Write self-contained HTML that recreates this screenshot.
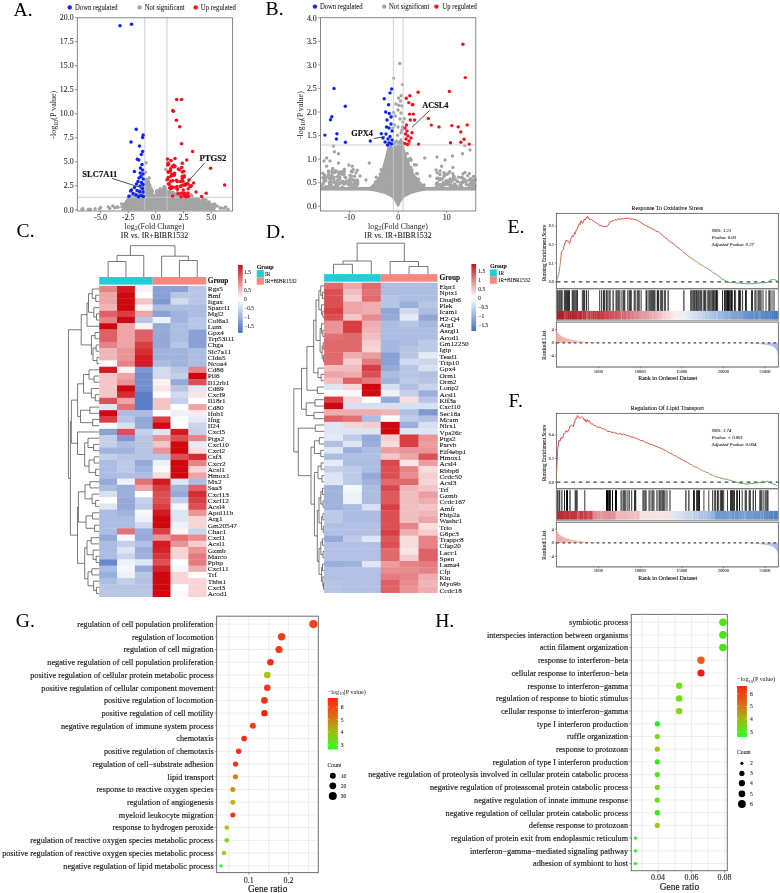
<!DOCTYPE html>
<html><head><meta charset="utf-8"><title>Figure</title>
<style>html,body{margin:0;padding:0;background:#fff;}svg{display:block;will-change:transform;}text{font-family:"Liberation Serif",serif;}</style>
</head><body>
<svg width="780" height="893" viewBox="0 0 780 893" font-family="Liberation Serif, serif">
<rect width="780" height="893" fill="#fff"/>
<text x="13.60" y="16.30" font-size="19.6">A.</text>
<circle cx="69.70" cy="7.40" r="2.20" fill="#0b24fb"/>
<text x="75.00" y="9.90" font-size="7.5" fill="#262626" stroke="#262626" stroke-width="0.08" textLength="42.70" lengthAdjust="spacingAndGlyphs">Down regulated</text>
<circle cx="139.60" cy="7.40" r="2.20" fill="#a4a4a4"/>
<text x="144.70" y="9.90" font-size="7.5" fill="#262626" stroke="#262626" stroke-width="0.08" textLength="39.90" lengthAdjust="spacingAndGlyphs">Not significant</text>
<circle cx="195.70" cy="7.40" r="2.20" fill="#fc0d1b"/>
<text x="200.80" y="9.90" font-size="7.5" fill="#262626" stroke="#262626" stroke-width="0.08" textLength="35.10" lengthAdjust="spacingAndGlyphs">Up regulated</text>
<g>
<polygon points="121.0,210.0 124.0,207.0 128.3,201.0 131.4,198.5 137.5,196.5 143.7,188.0 146.8,181.0 148.8,184.0 151.9,193.0 155.0,198.0 158.0,193.0 162.2,191.0 165.2,190.0 167.3,193.5 172.4,197.0 182.7,198.5 190.9,200.0 199.1,202.0 207.3,205.5 213.0,208.0 216.0,210.0 216,210.6 121,210.6" fill="#a4a4a4"/>
<circle cx="82.00" cy="209.30" r="1.75" fill="#a4a4a4"/>
<circle cx="90.30" cy="209.30" r="1.75" fill="#a4a4a4"/>
<circle cx="99.60" cy="208.80" r="1.75" fill="#a4a4a4"/>
<circle cx="109.80" cy="208.40" r="1.75" fill="#a4a4a4"/>
<circle cx="114.90" cy="207.80" r="1.75" fill="#a4a4a4"/>
<circle cx="118.00" cy="207.20" r="1.75" fill="#a4a4a4"/>
<circle cx="122.00" cy="207.00" r="1.75" fill="#a4a4a4"/>
<circle cx="125.00" cy="205.50" r="1.75" fill="#a4a4a4"/>
<circle cx="220.00" cy="208.00" r="1.75" fill="#a4a4a4"/>
<circle cx="224.00" cy="208.50" r="1.75" fill="#a4a4a4"/>
<circle cx="228.00" cy="209.30" r="1.75" fill="#a4a4a4"/>
<circle cx="203.00" cy="203.00" r="1.75" fill="#a4a4a4"/>
<circle cx="210.50" cy="204.50" r="1.75" fill="#a4a4a4"/>
<circle cx="217.00" cy="206.00" r="1.75" fill="#a4a4a4"/>
<circle cx="164.17" cy="186.70" r="1.75" fill="#a4a4a4"/>
<circle cx="165.37" cy="189.46" r="1.75" fill="#a4a4a4"/>
<circle cx="169.21" cy="194.61" r="1.75" fill="#a4a4a4"/>
<circle cx="169.58" cy="195.33" r="1.75" fill="#a4a4a4"/>
<circle cx="180.32" cy="198.89" r="1.75" fill="#a4a4a4"/>
<circle cx="150.61" cy="189.31" r="1.75" fill="#a4a4a4"/>
<circle cx="131.25" cy="198.38" r="1.75" fill="#a4a4a4"/>
<circle cx="126.81" cy="200.93" r="1.75" fill="#a4a4a4"/>
<circle cx="212.38" cy="205.60" r="1.75" fill="#a4a4a4"/>
<circle cx="179.02" cy="198.26" r="1.75" fill="#a4a4a4"/>
<circle cx="137.33" cy="194.87" r="1.75" fill="#a4a4a4"/>
<circle cx="128.42" cy="201.65" r="1.75" fill="#a4a4a4"/>
<circle cx="140.31" cy="193.62" r="1.75" fill="#a4a4a4"/>
<circle cx="165.22" cy="190.49" r="1.75" fill="#a4a4a4"/>
<circle cx="163.09" cy="190.24" r="1.75" fill="#a4a4a4"/>
<circle cx="181.27" cy="197.07" r="1.75" fill="#a4a4a4"/>
<circle cx="168.48" cy="194.04" r="1.75" fill="#a4a4a4"/>
<circle cx="148.31" cy="182.20" r="1.75" fill="#a4a4a4"/>
<circle cx="213.79" cy="205.31" r="1.75" fill="#a4a4a4"/>
<circle cx="187.41" cy="200.25" r="1.75" fill="#a4a4a4"/>
<circle cx="151.69" cy="193.16" r="1.75" fill="#a4a4a4"/>
<circle cx="129.39" cy="199.32" r="1.75" fill="#a4a4a4"/>
<circle cx="192.73" cy="197.99" r="1.75" fill="#a4a4a4"/>
<circle cx="158.17" cy="191.42" r="1.75" fill="#a4a4a4"/>
<circle cx="210.18" cy="207.72" r="1.75" fill="#a4a4a4"/>
<circle cx="142.08" cy="191.16" r="1.75" fill="#a4a4a4"/>
<circle cx="205.83" cy="199.82" r="1.75" fill="#a4a4a4"/>
<circle cx="159.17" cy="192.29" r="1.75" fill="#a4a4a4"/>
<circle cx="129.65" cy="198.29" r="1.75" fill="#a4a4a4"/>
<circle cx="147.55" cy="180.35" r="1.75" fill="#a4a4a4"/>
<circle cx="130.93" cy="197.06" r="1.75" fill="#a4a4a4"/>
<circle cx="191.98" cy="196.34" r="1.75" fill="#a4a4a4"/>
<circle cx="133.74" cy="198.71" r="1.75" fill="#a4a4a4"/>
<circle cx="128.45" cy="200.86" r="1.75" fill="#a4a4a4"/>
<circle cx="195.53" cy="200.89" r="1.75" fill="#a4a4a4"/>
<circle cx="163.72" cy="188.96" r="1.75" fill="#a4a4a4"/>
<circle cx="140.35" cy="193.46" r="1.75" fill="#a4a4a4"/>
<circle cx="181.58" cy="198.18" r="1.75" fill="#a4a4a4"/>
<circle cx="133.60" cy="197.44" r="1.75" fill="#a4a4a4"/>
<circle cx="147.55" cy="182.40" r="1.75" fill="#a4a4a4"/>
<circle cx="211.35" cy="207.66" r="1.75" fill="#a4a4a4"/>
<circle cx="203.52" cy="203.12" r="1.75" fill="#a4a4a4"/>
<circle cx="142.17" cy="187.69" r="1.75" fill="#a4a4a4"/>
<circle cx="181.41" cy="196.65" r="1.75" fill="#a4a4a4"/>
<circle cx="132.13" cy="197.74" r="1.75" fill="#a4a4a4"/>
<circle cx="146.50" cy="182.57" r="1.75" fill="#a4a4a4"/>
<circle cx="193.31" cy="200.71" r="1.75" fill="#a4a4a4"/>
<circle cx="129.68" cy="199.27" r="1.75" fill="#a4a4a4"/>
<circle cx="131.20" cy="198.24" r="1.75" fill="#a4a4a4"/>
<circle cx="177.72" cy="197.96" r="1.75" fill="#a4a4a4"/>
<circle cx="156.83" cy="190.63" r="1.75" fill="#a4a4a4"/>
<circle cx="167.02" cy="192.42" r="1.75" fill="#a4a4a4"/>
<circle cx="175.29" cy="197.49" r="1.75" fill="#a4a4a4"/>
<circle cx="137.03" cy="196.62" r="1.75" fill="#a4a4a4"/>
<circle cx="205.67" cy="205.11" r="1.75" fill="#a4a4a4"/>
<circle cx="140.27" cy="192.18" r="1.75" fill="#a4a4a4"/>
<circle cx="190.29" cy="199.53" r="1.75" fill="#a4a4a4"/>
<circle cx="209.46" cy="206.92" r="1.75" fill="#a4a4a4"/>
<circle cx="203.28" cy="202.95" r="1.75" fill="#a4a4a4"/>
<circle cx="132.45" cy="197.76" r="1.75" fill="#a4a4a4"/>
<circle cx="126.52" cy="202.90" r="1.75" fill="#a4a4a4"/>
<circle cx="187.12" cy="199.93" r="1.75" fill="#a4a4a4"/>
<circle cx="146.39" cy="181.61" r="1.75" fill="#a4a4a4"/>
<circle cx="149.70" cy="184.97" r="1.75" fill="#a4a4a4"/>
<circle cx="138.96" cy="195.34" r="1.75" fill="#a4a4a4"/>
<circle cx="143.78" cy="187.99" r="1.75" fill="#a4a4a4"/>
<circle cx="173.90" cy="196.40" r="1.75" fill="#a4a4a4"/>
<circle cx="148.50" cy="182.12" r="1.75" fill="#a4a4a4"/>
<circle cx="206.48" cy="206.04" r="1.75" fill="#a4a4a4"/>
<circle cx="147.50" cy="182.66" r="1.75" fill="#a4a4a4"/>
<circle cx="163.56" cy="190.27" r="1.75" fill="#a4a4a4"/>
<circle cx="156.56" cy="195.89" r="1.75" fill="#a4a4a4"/>
<circle cx="175.07" cy="196.98" r="1.75" fill="#a4a4a4"/>
<circle cx="204.08" cy="203.59" r="1.75" fill="#a4a4a4"/>
<circle cx="212.22" cy="206.80" r="1.75" fill="#a4a4a4"/>
<circle cx="176.18" cy="195.74" r="1.75" fill="#a4a4a4"/>
<circle cx="135.77" cy="197.66" r="1.75" fill="#a4a4a4"/>
<circle cx="205.83" cy="205.78" r="1.75" fill="#a4a4a4"/>
<circle cx="186.79" cy="199.80" r="1.75" fill="#a4a4a4"/>
<circle cx="180.89" cy="199.13" r="1.75" fill="#a4a4a4"/>
<circle cx="166.88" cy="193.57" r="1.75" fill="#a4a4a4"/>
<circle cx="213.94" cy="207.71" r="1.75" fill="#a4a4a4"/>
<circle cx="129.85" cy="197.30" r="1.75" fill="#a4a4a4"/>
<circle cx="204.92" cy="204.46" r="1.75" fill="#a4a4a4"/>
<circle cx="190.08" cy="199.73" r="1.75" fill="#a4a4a4"/>
<circle cx="206.27" cy="202.32" r="1.75" fill="#a4a4a4"/>
<circle cx="155.02" cy="197.10" r="1.75" fill="#a4a4a4"/>
<circle cx="202.27" cy="200.01" r="1.75" fill="#a4a4a4"/>
<circle cx="160.96" cy="191.48" r="1.75" fill="#a4a4a4"/>
<circle cx="175.13" cy="194.15" r="1.75" fill="#a4a4a4"/>
<circle cx="179.87" cy="196.94" r="1.75" fill="#a4a4a4"/>
<circle cx="178.41" cy="196.92" r="1.75" fill="#a4a4a4"/>
<circle cx="130.30" cy="195.93" r="1.75" fill="#a4a4a4"/>
<circle cx="203.06" cy="199.34" r="1.75" fill="#a4a4a4"/>
<circle cx="189.27" cy="197.96" r="1.75" fill="#a4a4a4"/>
<circle cx="175.87" cy="196.19" r="1.75" fill="#a4a4a4"/>
<circle cx="163.09" cy="191.22" r="1.75" fill="#a4a4a4"/>
<circle cx="191.27" cy="200.31" r="1.75" fill="#a4a4a4"/>
<circle cx="125.71" cy="203.59" r="1.75" fill="#a4a4a4"/>
<circle cx="143.95" cy="186.94" r="1.75" fill="#a4a4a4"/>
<circle cx="186.55" cy="197.17" r="1.75" fill="#a4a4a4"/>
<circle cx="206.76" cy="206.22" r="1.75" fill="#a4a4a4"/>
<circle cx="146.28" cy="181.32" r="1.75" fill="#a4a4a4"/>
<circle cx="184.71" cy="199.74" r="1.75" fill="#a4a4a4"/>
<circle cx="141.43" cy="189.79" r="1.75" fill="#a4a4a4"/>
<circle cx="183.06" cy="195.38" r="1.75" fill="#a4a4a4"/>
<circle cx="163.22" cy="190.14" r="1.75" fill="#a4a4a4"/>
<circle cx="183.60" cy="198.43" r="1.75" fill="#a4a4a4"/>
<circle cx="141.06" cy="189.00" r="1.75" fill="#a4a4a4"/>
<circle cx="206.19" cy="204.35" r="1.75" fill="#a4a4a4"/>
<circle cx="203.10" cy="202.53" r="1.75" fill="#a4a4a4"/>
<circle cx="151.80" cy="191.78" r="1.75" fill="#a4a4a4"/>
<circle cx="135.39" cy="194.00" r="1.75" fill="#a4a4a4"/>
<circle cx="200.23" cy="203.39" r="1.75" fill="#a4a4a4"/>
<circle cx="187.72" cy="198.73" r="1.75" fill="#a4a4a4"/>
<circle cx="138.39" cy="195.73" r="1.75" fill="#a4a4a4"/>
<circle cx="164.01" cy="191.16" r="1.75" fill="#a4a4a4"/>
<circle cx="160.67" cy="191.22" r="1.75" fill="#a4a4a4"/>
<circle cx="179.94" cy="197.18" r="1.75" fill="#a4a4a4"/>
<circle cx="199.36" cy="203.04" r="1.75" fill="#a4a4a4"/>
<circle cx="212.37" cy="207.89" r="1.75" fill="#a4a4a4"/>
<circle cx="125.87" cy="205.14" r="1.75" fill="#a4a4a4"/>
<circle cx="202.43" cy="201.08" r="1.75" fill="#a4a4a4"/>
<circle cx="174.92" cy="197.48" r="1.75" fill="#a4a4a4"/>
<circle cx="151.12" cy="191.63" r="1.75" fill="#a4a4a4"/>
<circle cx="135.37" cy="197.78" r="1.75" fill="#a4a4a4"/>
<circle cx="164.39" cy="187.18" r="1.75" fill="#a4a4a4"/>
<circle cx="144.60" cy="186.32" r="1.75" fill="#a4a4a4"/>
<circle cx="135.82" cy="195.09" r="1.75" fill="#a4a4a4"/>
<circle cx="163.63" cy="190.62" r="1.75" fill="#a4a4a4"/>
<circle cx="180.33" cy="196.91" r="1.75" fill="#a4a4a4"/>
<circle cx="210.22" cy="204.48" r="1.75" fill="#a4a4a4"/>
<circle cx="185.29" cy="199.19" r="1.75" fill="#a4a4a4"/>
<circle cx="139.26" cy="192.71" r="1.75" fill="#a4a4a4"/>
<circle cx="123.98" cy="204.59" r="1.75" fill="#a4a4a4"/>
<circle cx="139.30" cy="194.43" r="1.75" fill="#a4a4a4"/>
<circle cx="147.78" cy="181.55" r="1.75" fill="#a4a4a4"/>
<circle cx="170.36" cy="193.79" r="1.75" fill="#a4a4a4"/>
<circle cx="178.91" cy="198.86" r="1.75" fill="#a4a4a4"/>
<circle cx="195.07" cy="199.82" r="1.75" fill="#a4a4a4"/>
<circle cx="205.47" cy="201.36" r="1.75" fill="#a4a4a4"/>
<circle cx="188.74" cy="197.94" r="1.75" fill="#a4a4a4"/>
<circle cx="134.82" cy="195.42" r="1.75" fill="#a4a4a4"/>
<circle cx="205.81" cy="204.98" r="1.75" fill="#a4a4a4"/>
<circle cx="157.29" cy="191.08" r="1.75" fill="#a4a4a4"/>
<circle cx="195.51" cy="200.23" r="1.75" fill="#a4a4a4"/>
<circle cx="208.93" cy="204.10" r="1.75" fill="#a4a4a4"/>
<circle cx="141.65" cy="191.09" r="1.75" fill="#a4a4a4"/>
<circle cx="188.70" cy="199.28" r="1.75" fill="#a4a4a4"/>
<circle cx="188.31" cy="197.66" r="1.75" fill="#a4a4a4"/>
<circle cx="142.41" cy="185.77" r="1.75" fill="#a4a4a4"/>
<circle cx="211.94" cy="204.91" r="1.75" fill="#a4a4a4"/>
<circle cx="171.86" cy="197.14" r="1.75" fill="#a4a4a4"/>
<circle cx="205.81" cy="203.99" r="1.75" fill="#a4a4a4"/>
<circle cx="200.88" cy="203.23" r="1.75" fill="#a4a4a4"/>
<circle cx="163.12" cy="190.95" r="1.75" fill="#a4a4a4"/>
<circle cx="173.08" cy="197.81" r="1.75" fill="#a4a4a4"/>
<circle cx="125.59" cy="203.26" r="1.75" fill="#a4a4a4"/>
<circle cx="196.63" cy="198.77" r="1.75" fill="#a4a4a4"/>
<circle cx="138.73" cy="194.26" r="1.75" fill="#a4a4a4"/>
<circle cx="153.49" cy="196.27" r="1.75" fill="#a4a4a4"/>
<circle cx="136.53" cy="196.64" r="1.75" fill="#a4a4a4"/>
<circle cx="170.00" cy="195.66" r="1.75" fill="#a4a4a4"/>
<circle cx="185.73" cy="195.90" r="1.75" fill="#a4a4a4"/>
<circle cx="209.06" cy="201.91" r="1.75" fill="#a4a4a4"/>
<circle cx="130.83" cy="199.71" r="1.75" fill="#a4a4a4"/>
<circle cx="143.15" cy="187.96" r="1.75" fill="#a4a4a4"/>
<circle cx="189.32" cy="200.41" r="1.75" fill="#a4a4a4"/>
<circle cx="181.14" cy="195.08" r="1.75" fill="#a4a4a4"/>
<circle cx="173.96" cy="197.62" r="1.75" fill="#a4a4a4"/>
<circle cx="151.36" cy="189.32" r="1.75" fill="#a4a4a4"/>
<circle cx="204.95" cy="202.61" r="1.75" fill="#a4a4a4"/>
<circle cx="141.95" cy="187.98" r="1.75" fill="#a4a4a4"/>
<circle cx="170.70" cy="192.17" r="1.75" fill="#a4a4a4"/>
<circle cx="175.14" cy="197.57" r="1.75" fill="#a4a4a4"/>
<circle cx="168.79" cy="192.92" r="1.75" fill="#a4a4a4"/>
<circle cx="178.08" cy="193.10" r="1.75" fill="#a4a4a4"/>
<circle cx="169.96" cy="195.32" r="1.75" fill="#a4a4a4"/>
<circle cx="159.45" cy="192.42" r="1.75" fill="#a4a4a4"/>
<circle cx="167.68" cy="192.08" r="1.75" fill="#a4a4a4"/>
<circle cx="185.88" cy="197.58" r="1.75" fill="#a4a4a4"/>
<circle cx="160.65" cy="191.64" r="1.75" fill="#a4a4a4"/>
<circle cx="210.07" cy="206.17" r="1.75" fill="#a4a4a4"/>
<circle cx="166.06" cy="191.62" r="1.75" fill="#a4a4a4"/>
<circle cx="134.55" cy="194.77" r="1.75" fill="#a4a4a4"/>
<circle cx="204.95" cy="203.86" r="1.75" fill="#a4a4a4"/>
<circle cx="166.36" cy="192.35" r="1.75" fill="#a4a4a4"/>
<circle cx="179.23" cy="197.69" r="1.75" fill="#a4a4a4"/>
<circle cx="207.20" cy="203.83" r="1.75" fill="#a4a4a4"/>
<circle cx="125.07" cy="203.72" r="1.75" fill="#a4a4a4"/>
<circle cx="140.66" cy="192.69" r="1.75" fill="#a4a4a4"/>
<circle cx="152.31" cy="191.34" r="1.75" fill="#a4a4a4"/>
<circle cx="155.34" cy="197.68" r="1.75" fill="#a4a4a4"/>
<circle cx="189.51" cy="200.04" r="1.75" fill="#a4a4a4"/>
<circle cx="134.17" cy="196.92" r="1.75" fill="#a4a4a4"/>
<circle cx="140.99" cy="192.60" r="1.75" fill="#a4a4a4"/>
<circle cx="171.26" cy="195.25" r="1.75" fill="#a4a4a4"/>
<circle cx="160.62" cy="191.93" r="1.75" fill="#a4a4a4"/>
<circle cx="171.17" cy="196.36" r="1.75" fill="#a4a4a4"/>
<circle cx="180.45" cy="197.92" r="1.75" fill="#a4a4a4"/>
<circle cx="181.10" cy="195.05" r="1.75" fill="#a4a4a4"/>
<circle cx="178.67" cy="198.12" r="1.75" fill="#a4a4a4"/>
<circle cx="200.97" cy="203.40" r="1.75" fill="#a4a4a4"/>
<circle cx="196.76" cy="198.83" r="1.75" fill="#a4a4a4"/>
<circle cx="205.14" cy="204.81" r="1.75" fill="#a4a4a4"/>
<circle cx="206.97" cy="204.61" r="1.75" fill="#a4a4a4"/>
<circle cx="142.85" cy="185.56" r="1.75" fill="#a4a4a4"/>
<circle cx="135.19" cy="198.21" r="1.75" fill="#a4a4a4"/>
<circle cx="144.78" cy="186.31" r="1.75" fill="#a4a4a4"/>
<circle cx="131.83" cy="197.67" r="1.75" fill="#a4a4a4"/>
<circle cx="198.73" cy="199.48" r="1.75" fill="#a4a4a4"/>
<circle cx="134.47" cy="196.66" r="1.75" fill="#a4a4a4"/>
<circle cx="159.65" cy="193.05" r="1.75" fill="#a4a4a4"/>
<circle cx="141.28" cy="191.93" r="1.75" fill="#a4a4a4"/>
<circle cx="185.10" cy="195.03" r="1.75" fill="#a4a4a4"/>
<circle cx="133.50" cy="195.75" r="1.75" fill="#a4a4a4"/>
<circle cx="169.02" cy="195.55" r="1.75" fill="#a4a4a4"/>
<circle cx="185.40" cy="197.40" r="1.75" fill="#a4a4a4"/>
<circle cx="140.20" cy="192.86" r="1.75" fill="#a4a4a4"/>
<circle cx="126.41" cy="204.19" r="1.75" fill="#a4a4a4"/>
<circle cx="173.20" cy="195.28" r="1.75" fill="#a4a4a4"/>
<circle cx="136.34" cy="197.62" r="1.75" fill="#a4a4a4"/>
<circle cx="139.79" cy="193.15" r="1.75" fill="#a4a4a4"/>
<circle cx="213.12" cy="205.04" r="1.75" fill="#a4a4a4"/>
<circle cx="207.35" cy="205.87" r="1.75" fill="#a4a4a4"/>
<circle cx="209.59" cy="207.06" r="1.75" fill="#a4a4a4"/>
<circle cx="165.05" cy="190.87" r="1.75" fill="#a4a4a4"/>
<circle cx="165.49" cy="189.54" r="1.75" fill="#a4a4a4"/>
<circle cx="169.89" cy="193.58" r="1.75" fill="#a4a4a4"/>
<circle cx="124.21" cy="206.45" r="1.75" fill="#a4a4a4"/>
<circle cx="186.79" cy="199.47" r="1.75" fill="#a4a4a4"/>
<circle cx="164.31" cy="190.14" r="1.75" fill="#a4a4a4"/>
<circle cx="190.28" cy="199.69" r="1.75" fill="#a4a4a4"/>
<circle cx="138.02" cy="195.97" r="1.75" fill="#a4a4a4"/>
<circle cx="169.64" cy="191.48" r="1.75" fill="#a4a4a4"/>
<circle cx="195.96" cy="201.78" r="1.75" fill="#a4a4a4"/>
<circle cx="187.13" cy="198.32" r="1.75" fill="#a4a4a4"/>
<circle cx="159.81" cy="190.76" r="1.75" fill="#a4a4a4"/>
<circle cx="177.56" cy="192.49" r="1.75" fill="#a4a4a4"/>
<circle cx="196.24" cy="202.13" r="1.75" fill="#a4a4a4"/>
<circle cx="146.50" cy="179.59" r="1.75" fill="#a4a4a4"/>
<circle cx="193.80" cy="199.78" r="1.75" fill="#a4a4a4"/>
<circle cx="197.13" cy="198.63" r="1.75" fill="#a4a4a4"/>
<circle cx="203.07" cy="202.07" r="1.75" fill="#a4a4a4"/>
<circle cx="186.23" cy="199.74" r="1.75" fill="#a4a4a4"/>
<circle cx="159.92" cy="189.36" r="1.75" fill="#a4a4a4"/>
<circle cx="188.76" cy="198.79" r="1.75" fill="#a4a4a4"/>
<circle cx="165.66" cy="190.91" r="1.75" fill="#a4a4a4"/>
<circle cx="123.96" cy="206.10" r="1.75" fill="#a4a4a4"/>
<circle cx="179.79" cy="196.60" r="1.75" fill="#a4a4a4"/>
<circle cx="144.12" cy="184.98" r="1.75" fill="#a4a4a4"/>
<circle cx="153.74" cy="195.86" r="1.75" fill="#a4a4a4"/>
<circle cx="183.04" cy="197.10" r="1.75" fill="#a4a4a4"/>
<circle cx="158.45" cy="192.63" r="1.75" fill="#a4a4a4"/>
<circle cx="213.99" cy="207.52" r="1.75" fill="#a4a4a4"/>
<circle cx="192.32" cy="198.68" r="1.75" fill="#a4a4a4"/>
<circle cx="212.19" cy="205.63" r="1.75" fill="#a4a4a4"/>
<circle cx="190.23" cy="200.44" r="1.75" fill="#a4a4a4"/>
<circle cx="146.35" cy="182.43" r="1.75" fill="#a4a4a4"/>
<circle cx="140.79" cy="192.59" r="1.75" fill="#a4a4a4"/>
<circle cx="157.19" cy="193.99" r="1.75" fill="#a4a4a4"/>
<circle cx="205.41" cy="204.73" r="1.75" fill="#a4a4a4"/>
<circle cx="173.06" cy="192.35" r="1.75" fill="#a4a4a4"/>
<circle cx="174.69" cy="198.05" r="1.75" fill="#a4a4a4"/>
<circle cx="213.55" cy="206.78" r="1.75" fill="#a4a4a4"/>
<circle cx="129.93" cy="197.63" r="1.75" fill="#a4a4a4"/>
<circle cx="177.38" cy="198.69" r="1.75" fill="#a4a4a4"/>
<circle cx="207.64" cy="205.98" r="1.75" fill="#a4a4a4"/>
<circle cx="137.55" cy="196.11" r="1.75" fill="#a4a4a4"/>
<circle cx="168.09" cy="194.81" r="1.75" fill="#a4a4a4"/>
<circle cx="178.62" cy="193.96" r="1.75" fill="#a4a4a4"/>
<circle cx="161.28" cy="190.53" r="1.75" fill="#a4a4a4"/>
<circle cx="170.93" cy="195.28" r="1.75" fill="#a4a4a4"/>
<circle cx="149.00" cy="184.38" r="1.75" fill="#a4a4a4"/>
<circle cx="182.62" cy="197.82" r="1.75" fill="#a4a4a4"/>
<circle cx="188.21" cy="199.84" r="1.75" fill="#a4a4a4"/>
<circle cx="149.94" cy="186.67" r="1.75" fill="#a4a4a4"/>
<circle cx="126.89" cy="203.82" r="1.75" fill="#a4a4a4"/>
<circle cx="137.25" cy="197.52" r="1.75" fill="#a4a4a4"/>
<circle cx="204.68" cy="203.19" r="1.75" fill="#a4a4a4"/>
<circle cx="191.10" cy="194.78" r="1.75" fill="#a4a4a4"/>
<circle cx="208.95" cy="205.18" r="1.75" fill="#a4a4a4"/>
<circle cx="129.69" cy="198.95" r="1.75" fill="#a4a4a4"/>
<circle cx="166.46" cy="191.80" r="1.75" fill="#a4a4a4"/>
<circle cx="211.56" cy="208.26" r="1.75" fill="#a4a4a4"/>
<circle cx="208.29" cy="204.26" r="1.75" fill="#a4a4a4"/>
<circle cx="188.77" cy="194.62" r="1.75" fill="#a4a4a4"/>
<circle cx="197.32" cy="201.36" r="1.75" fill="#a4a4a4"/>
<circle cx="177.93" cy="196.50" r="1.75" fill="#a4a4a4"/>
<circle cx="164.47" cy="189.21" r="1.75" fill="#a4a4a4"/>
<circle cx="141.53" cy="189.42" r="1.75" fill="#a4a4a4"/>
<circle cx="134.31" cy="197.68" r="1.75" fill="#a4a4a4"/>
<circle cx="163.30" cy="190.44" r="1.75" fill="#a4a4a4"/>
<circle cx="146.85" cy="179.97" r="1.75" fill="#a4a4a4"/>
<circle cx="175.98" cy="195.18" r="1.75" fill="#a4a4a4"/>
<circle cx="171.30" cy="195.40" r="1.75" fill="#a4a4a4"/>
<circle cx="213.78" cy="206.10" r="1.75" fill="#a4a4a4"/>
<circle cx="144.70" cy="185.70" r="1.75" fill="#a4a4a4"/>
<circle cx="133.36" cy="195.85" r="1.75" fill="#a4a4a4"/>
<circle cx="179.87" cy="196.68" r="1.75" fill="#a4a4a4"/>
<circle cx="155.69" cy="197.41" r="1.75" fill="#a4a4a4"/>
<circle cx="174.41" cy="194.98" r="1.75" fill="#a4a4a4"/>
<circle cx="176.84" cy="196.18" r="1.75" fill="#a4a4a4"/>
<circle cx="140.27" cy="190.97" r="1.75" fill="#a4a4a4"/>
<circle cx="145.66" cy="179.73" r="1.75" fill="#a4a4a4"/>
<circle cx="202.97" cy="204.03" r="1.75" fill="#a4a4a4"/>
<circle cx="126.60" cy="202.76" r="1.75" fill="#a4a4a4"/>
<circle cx="161.69" cy="191.59" r="1.75" fill="#a4a4a4"/>
<circle cx="179.72" cy="196.87" r="1.75" fill="#a4a4a4"/>
<circle cx="129.60" cy="199.30" r="1.75" fill="#a4a4a4"/>
<circle cx="130.87" cy="198.69" r="1.75" fill="#a4a4a4"/>
<circle cx="180.43" cy="196.68" r="1.75" fill="#a4a4a4"/>
<circle cx="156.96" cy="194.23" r="1.75" fill="#a4a4a4"/>
<circle cx="154.28" cy="197.63" r="1.75" fill="#a4a4a4"/>
<circle cx="190.78" cy="200.52" r="1.75" fill="#a4a4a4"/>
<circle cx="133.90" cy="197.95" r="1.75" fill="#a4a4a4"/>
<circle cx="196.64" cy="199.72" r="1.75" fill="#a4a4a4"/>
<circle cx="142.40" cy="188.14" r="1.75" fill="#a4a4a4"/>
<circle cx="161.62" cy="192.07" r="1.75" fill="#a4a4a4"/>
<circle cx="156.57" cy="192.37" r="1.75" fill="#a4a4a4"/>
<circle cx="182.48" cy="197.52" r="1.75" fill="#a4a4a4"/>
<circle cx="172.92" cy="197.94" r="1.75" fill="#a4a4a4"/>
<circle cx="190.90" cy="198.96" r="1.75" fill="#a4a4a4"/>
<circle cx="156.60" cy="195.22" r="1.75" fill="#a4a4a4"/>
<circle cx="131.83" cy="198.73" r="1.75" fill="#a4a4a4"/>
<circle cx="130.55" cy="199.55" r="1.75" fill="#a4a4a4"/>
<circle cx="174.34" cy="194.95" r="1.75" fill="#a4a4a4"/>
<circle cx="150.20" cy="188.74" r="1.75" fill="#a4a4a4"/>
<circle cx="193.57" cy="200.30" r="1.75" fill="#a4a4a4"/>
<circle cx="183.25" cy="198.90" r="1.75" fill="#a4a4a4"/>
<circle cx="82.90" cy="208.84" r="1.75" fill="#a4a4a4"/>
<circle cx="88.43" cy="209.32" r="1.75" fill="#a4a4a4"/>
<circle cx="95.07" cy="208.84" r="1.75" fill="#a4a4a4"/>
<circle cx="100.60" cy="207.40" r="1.75" fill="#a4a4a4"/>
<circle cx="108.34" cy="206.92" r="1.75" fill="#a4a4a4"/>
<circle cx="112.77" cy="205.96" r="1.75" fill="#a4a4a4"/>
<circle cx="117.19" cy="206.92" r="1.75" fill="#a4a4a4"/>
<circle cx="121.61" cy="204.03" r="1.75" fill="#a4a4a4"/>
<circle cx="200.14" cy="201.15" r="1.75" fill="#a4a4a4"/>
<circle cx="206.78" cy="202.11" r="1.75" fill="#a4a4a4"/>
<circle cx="214.52" cy="204.03" r="1.75" fill="#a4a4a4"/>
<circle cx="221.15" cy="207.88" r="1.75" fill="#a4a4a4"/>
<circle cx="225.58" cy="206.92" r="1.75" fill="#a4a4a4"/>
<circle cx="145.95" cy="162.71" r="1.75" fill="#a4a4a4"/>
<circle cx="145.39" cy="172.32" r="1.75" fill="#a4a4a4"/>
<circle cx="149.26" cy="178.09" r="1.75" fill="#a4a4a4"/>
<circle cx="165.85" cy="169.44" r="1.75" fill="#a4a4a4"/>
<circle cx="166.41" cy="180.01" r="1.75" fill="#a4a4a4"/>
<circle cx="147.05" cy="183.85" r="1.75" fill="#a4a4a4"/>
<circle cx="160.32" cy="188.66" r="1.75" fill="#a4a4a4"/>
<circle cx="196.82" cy="199.23" r="1.75" fill="#a4a4a4"/>
<circle cx="187.97" cy="198.27" r="1.75" fill="#a4a4a4"/>
<circle cx="128.25" cy="198.27" r="1.75" fill="#a4a4a4"/>
</g>
<line x1="144.84" y1="17.80" x2="144.84" y2="211.00" stroke="#c9c9c9" stroke-width="0.9"/>
<line x1="166.96" y1="17.80" x2="166.96" y2="211.00" stroke="#c9c9c9" stroke-width="0.9"/>
<line x1="77.30" y1="197.31" x2="232.60" y2="197.31" stroke="#c9c9c9" stroke-width="0.9"/>
<circle cx="120.00" cy="25.80" r="1.75" fill="#0b24fb"/>
<circle cx="131.50" cy="24.20" r="1.75" fill="#0b24fb"/>
<circle cx="136.20" cy="129.20" r="1.75" fill="#0b24fb"/>
<circle cx="143.10" cy="134.90" r="1.75" fill="#0b24fb"/>
<circle cx="142.60" cy="137.40" r="1.75" fill="#0b24fb"/>
<circle cx="131.00" cy="142.00" r="1.75" fill="#0b24fb"/>
<circle cx="139.50" cy="145.90" r="1.75" fill="#0b24fb"/>
<circle cx="142.60" cy="151.50" r="1.75" fill="#0b24fb"/>
<circle cx="141.30" cy="154.60" r="1.75" fill="#0b24fb"/>
<circle cx="137.40" cy="159.20" r="1.75" fill="#0b24fb"/>
<circle cx="138.80" cy="160.00" r="1.75" fill="#0b24fb"/>
<circle cx="142.00" cy="164.40" r="1.75" fill="#0b24fb"/>
<circle cx="134.40" cy="171.50" r="1.75" fill="#0b24fb"/>
<circle cx="140.40" cy="168.00" r="1.75" fill="#0b24fb"/>
<circle cx="142.50" cy="170.00" r="1.75" fill="#0b24fb"/>
<circle cx="140.20" cy="173.00" r="1.75" fill="#0b24fb"/>
<circle cx="143.00" cy="174.00" r="1.75" fill="#0b24fb"/>
<circle cx="141.00" cy="176.50" r="1.75" fill="#0b24fb"/>
<circle cx="139.00" cy="178.00" r="1.75" fill="#0b24fb"/>
<circle cx="143.20" cy="179.00" r="1.75" fill="#0b24fb"/>
<circle cx="138.00" cy="181.50" r="1.75" fill="#0b24fb"/>
<circle cx="141.50" cy="182.60" r="1.75" fill="#0b24fb"/>
<circle cx="136.50" cy="184.00" r="1.75" fill="#0b24fb"/>
<circle cx="143.00" cy="184.50" r="1.75" fill="#0b24fb"/>
<circle cx="140.00" cy="186.00" r="1.75" fill="#0b24fb"/>
<circle cx="134.50" cy="187.50" r="1.75" fill="#0b24fb"/>
<circle cx="142.50" cy="188.50" r="1.75" fill="#0b24fb"/>
<circle cx="137.00" cy="190.50" r="1.75" fill="#0b24fb"/>
<circle cx="130.50" cy="191.00" r="1.75" fill="#0b24fb"/>
<circle cx="139.50" cy="191.50" r="1.75" fill="#0b24fb"/>
<circle cx="143.00" cy="192.00" r="1.75" fill="#0b24fb"/>
<circle cx="133.00" cy="193.50" r="1.75" fill="#0b24fb"/>
<circle cx="136.00" cy="195.00" r="1.75" fill="#0b24fb"/>
<circle cx="141.00" cy="195.50" r="1.75" fill="#0b24fb"/>
<circle cx="129.00" cy="196.20" r="1.75" fill="#0b24fb"/>
<circle cx="138.50" cy="196.80" r="1.75" fill="#0b24fb"/>
<circle cx="143.30" cy="196.60" r="1.75" fill="#0b24fb"/>
<circle cx="131.50" cy="190.00" r="1.75" fill="#0b24fb"/>
<circle cx="176.70" cy="99.50" r="1.75" fill="#fc0d1b"/>
<circle cx="181.50" cy="99.50" r="1.75" fill="#fc0d1b"/>
<circle cx="172.80" cy="110.50" r="1.75" fill="#fc0d1b"/>
<circle cx="173.30" cy="111.30" r="1.75" fill="#fc0d1b"/>
<circle cx="176.40" cy="120.30" r="1.75" fill="#fc0d1b"/>
<circle cx="179.70" cy="126.70" r="1.75" fill="#fc0d1b"/>
<circle cx="181.50" cy="143.80" r="1.75" fill="#fc0d1b"/>
<circle cx="192.60" cy="151.50" r="1.75" fill="#fc0d1b"/>
<circle cx="186.70" cy="160.00" r="1.75" fill="#fc0d1b"/>
<circle cx="210.50" cy="168.20" r="1.75" fill="#fc0d1b"/>
<circle cx="224.60" cy="184.90" r="1.75" fill="#fc0d1b"/>
<circle cx="206.20" cy="193.30" r="1.75" fill="#fc0d1b"/>
<circle cx="201.50" cy="196.40" r="1.75" fill="#fc0d1b"/>
<circle cx="168.55" cy="171.94" r="1.75" fill="#fc0d1b"/>
<circle cx="180.77" cy="185.98" r="1.75" fill="#fc0d1b"/>
<circle cx="172.38" cy="166.15" r="1.75" fill="#fc0d1b"/>
<circle cx="173.80" cy="187.14" r="1.75" fill="#fc0d1b"/>
<circle cx="173.96" cy="165.23" r="1.75" fill="#fc0d1b"/>
<circle cx="180.48" cy="181.49" r="1.75" fill="#fc0d1b"/>
<circle cx="184.45" cy="194.84" r="1.75" fill="#fc0d1b"/>
<circle cx="184.35" cy="176.77" r="1.75" fill="#fc0d1b"/>
<circle cx="182.26" cy="171.97" r="1.75" fill="#fc0d1b"/>
<circle cx="173.03" cy="175.39" r="1.75" fill="#fc0d1b"/>
<circle cx="184.76" cy="193.21" r="1.75" fill="#fc0d1b"/>
<circle cx="171.72" cy="174.02" r="1.75" fill="#fc0d1b"/>
<circle cx="173.95" cy="174.08" r="1.75" fill="#fc0d1b"/>
<circle cx="174.52" cy="174.95" r="1.75" fill="#fc0d1b"/>
<circle cx="170.70" cy="181.30" r="1.75" fill="#fc0d1b"/>
<circle cx="182.14" cy="180.46" r="1.75" fill="#fc0d1b"/>
<circle cx="182.89" cy="181.26" r="1.75" fill="#fc0d1b"/>
<circle cx="170.36" cy="188.32" r="1.75" fill="#fc0d1b"/>
<circle cx="183.74" cy="171.13" r="1.75" fill="#fc0d1b"/>
<circle cx="167.42" cy="179.56" r="1.75" fill="#fc0d1b"/>
<circle cx="177.34" cy="181.43" r="1.75" fill="#fc0d1b"/>
<circle cx="185.36" cy="184.44" r="1.75" fill="#fc0d1b"/>
<circle cx="182.28" cy="163.31" r="1.75" fill="#fc0d1b"/>
<circle cx="177.39" cy="189.37" r="1.75" fill="#fc0d1b"/>
<circle cx="168.60" cy="163.94" r="1.75" fill="#fc0d1b"/>
<circle cx="181.00" cy="193.37" r="1.75" fill="#fc0d1b"/>
<circle cx="168.61" cy="183.83" r="1.75" fill="#fc0d1b"/>
<circle cx="169.73" cy="187.85" r="1.75" fill="#fc0d1b"/>
<circle cx="179.33" cy="169.84" r="1.75" fill="#fc0d1b"/>
<circle cx="171.19" cy="188.55" r="1.75" fill="#fc0d1b"/>
<circle cx="176.91" cy="188.53" r="1.75" fill="#fc0d1b"/>
<circle cx="174.49" cy="173.16" r="1.75" fill="#fc0d1b"/>
<circle cx="185.40" cy="185.21" r="1.75" fill="#fc0d1b"/>
<circle cx="176.38" cy="180.34" r="1.75" fill="#fc0d1b"/>
<circle cx="180.70" cy="186.49" r="1.75" fill="#fc0d1b"/>
<circle cx="184.38" cy="175.78" r="1.75" fill="#fc0d1b"/>
<circle cx="182.70" cy="185.00" r="1.75" fill="#fc0d1b"/>
<circle cx="183.22" cy="190.01" r="1.75" fill="#fc0d1b"/>
<circle cx="182.84" cy="192.99" r="1.75" fill="#fc0d1b"/>
<circle cx="185.20" cy="184.05" r="1.75" fill="#fc0d1b"/>
<circle cx="176.95" cy="186.56" r="1.75" fill="#fc0d1b"/>
<circle cx="182.24" cy="176.18" r="1.75" fill="#fc0d1b"/>
<circle cx="174.99" cy="166.26" r="1.75" fill="#fc0d1b"/>
<circle cx="181.08" cy="196.68" r="1.75" fill="#fc0d1b"/>
<circle cx="174.13" cy="167.04" r="1.75" fill="#fc0d1b"/>
<circle cx="170.88" cy="176.30" r="1.75" fill="#fc0d1b"/>
<circle cx="172.55" cy="195.91" r="1.75" fill="#fc0d1b"/>
<circle cx="168.12" cy="172.10" r="1.75" fill="#fc0d1b"/>
<circle cx="169.18" cy="184.33" r="1.75" fill="#fc0d1b"/>
<circle cx="181.74" cy="167.46" r="1.75" fill="#fc0d1b"/>
<circle cx="168.18" cy="177.52" r="1.75" fill="#fc0d1b"/>
<circle cx="178.10" cy="193.73" r="1.75" fill="#fc0d1b"/>
<circle cx="167.69" cy="164.91" r="1.75" fill="#fc0d1b"/>
<circle cx="170.51" cy="168.83" r="1.75" fill="#fc0d1b"/>
<circle cx="171.47" cy="186.82" r="1.75" fill="#fc0d1b"/>
<circle cx="178.30" cy="169.06" r="1.75" fill="#fc0d1b"/>
<circle cx="170.51" cy="171.12" r="1.75" fill="#fc0d1b"/>
<circle cx="170.28" cy="188.27" r="1.75" fill="#fc0d1b"/>
<circle cx="172.92" cy="180.74" r="1.75" fill="#fc0d1b"/>
<circle cx="182.53" cy="178.26" r="1.75" fill="#fc0d1b"/>
<circle cx="186.08" cy="195.09" r="1.75" fill="#fc0d1b"/>
<circle cx="191.31" cy="185.82" r="1.75" fill="#fc0d1b"/>
<circle cx="188.38" cy="196.27" r="1.75" fill="#fc0d1b"/>
<circle cx="187.86" cy="183.76" r="1.75" fill="#fc0d1b"/>
<circle cx="184.40" cy="196.11" r="1.75" fill="#fc0d1b"/>
<circle cx="190.41" cy="186.54" r="1.75" fill="#fc0d1b"/>
<circle cx="188.22" cy="188.77" r="1.75" fill="#fc0d1b"/>
<circle cx="186.20" cy="196.83" r="1.75" fill="#fc0d1b"/>
<circle cx="167.50" cy="159.00" r="1.75" fill="#fc0d1b"/>
<circle cx="171.00" cy="160.50" r="1.75" fill="#fc0d1b"/>
<circle cx="175.00" cy="158.50" r="1.75" fill="#fc0d1b"/>
<circle cx="168.00" cy="163.00" r="1.75" fill="#fc0d1b"/>
<circle cx="189.00" cy="180.00" r="1.75" fill="#fc0d1b"/>
<circle cx="190.00" cy="186.00" r="1.75" fill="#fc0d1b"/>
<circle cx="193.50" cy="183.00" r="1.75" fill="#fc0d1b"/>
<circle cx="196.00" cy="192.00" r="1.75" fill="#fc0d1b"/>
<circle cx="188.00" cy="193.00" r="1.75" fill="#fc0d1b"/>
<text x="82.30" y="177.30" font-size="8.3" font-weight="bold" fill="#111" stroke="#111" stroke-width="0.16" textLength="35.10" lengthAdjust="spacingAndGlyphs">SLC7A11</text>
<line x1="112.30" y1="178.50" x2="138.70" y2="186.90" stroke="#222" stroke-width="0.8"/>
<text x="199.50" y="161.20" font-size="8.3" font-weight="bold" fill="#111" stroke="#111" stroke-width="0.16" textLength="26.90" lengthAdjust="spacingAndGlyphs">PTGS2</text>
<line x1="204.60" y1="163.10" x2="184.90" y2="184.90" stroke="#222" stroke-width="0.8"/>
<rect x="77.3" y="17.8" width="155.3" height="193.2" fill="none" stroke="#7a7a7a" stroke-width="0.9"/>
<line x1="75.00" y1="209.80" x2="77.30" y2="209.80" stroke="#7a7a7a" stroke-width="0.8"/>
<text x="73.60" y="212.50" font-size="7.9" text-anchor="end" fill="#262626" stroke="#262626" stroke-width="0.08">0.0</text>
<line x1="75.00" y1="185.78" x2="77.30" y2="185.78" stroke="#7a7a7a" stroke-width="0.8"/>
<text x="73.60" y="188.47" font-size="7.9" text-anchor="end" fill="#262626" stroke="#262626" stroke-width="0.08">2.5</text>
<line x1="75.00" y1="161.75" x2="77.30" y2="161.75" stroke="#7a7a7a" stroke-width="0.8"/>
<text x="73.60" y="164.45" font-size="7.9" text-anchor="end" fill="#262626" stroke="#262626" stroke-width="0.08">5.0</text>
<line x1="75.00" y1="137.73" x2="77.30" y2="137.73" stroke="#7a7a7a" stroke-width="0.8"/>
<text x="73.60" y="140.43" font-size="7.9" text-anchor="end" fill="#262626" stroke="#262626" stroke-width="0.08">7.5</text>
<line x1="75.00" y1="113.70" x2="77.30" y2="113.70" stroke="#7a7a7a" stroke-width="0.8"/>
<text x="73.60" y="116.40" font-size="7.9" text-anchor="end" fill="#262626" stroke="#262626" stroke-width="0.08">10.0</text>
<line x1="75.00" y1="89.68" x2="77.30" y2="89.68" stroke="#7a7a7a" stroke-width="0.8"/>
<text x="73.60" y="92.38" font-size="7.9" text-anchor="end" fill="#262626" stroke="#262626" stroke-width="0.08">12.5</text>
<line x1="75.00" y1="65.65" x2="77.30" y2="65.65" stroke="#7a7a7a" stroke-width="0.8"/>
<text x="73.60" y="68.35" font-size="7.9" text-anchor="end" fill="#262626" stroke="#262626" stroke-width="0.08">15.0</text>
<line x1="75.00" y1="41.63" x2="77.30" y2="41.63" stroke="#7a7a7a" stroke-width="0.8"/>
<text x="73.60" y="44.33" font-size="7.9" text-anchor="end" fill="#262626" stroke="#262626" stroke-width="0.08">17.5</text>
<line x1="75.00" y1="17.60" x2="77.30" y2="17.60" stroke="#7a7a7a" stroke-width="0.8"/>
<text x="73.60" y="20.30" font-size="7.9" text-anchor="end" fill="#262626" stroke="#262626" stroke-width="0.08">20.0</text>
<line x1="100.60" y1="211.00" x2="100.60" y2="213.20" stroke="#7a7a7a" stroke-width="0.8"/>
<text x="100.60" y="220.30" font-size="7.9" text-anchor="middle" fill="#262626" stroke="#262626" stroke-width="0.08">-5.0</text>
<line x1="128.25" y1="211.00" x2="128.25" y2="213.20" stroke="#7a7a7a" stroke-width="0.8"/>
<text x="128.25" y="220.30" font-size="7.9" text-anchor="middle" fill="#262626" stroke="#262626" stroke-width="0.08">-2.5</text>
<line x1="155.90" y1="211.00" x2="155.90" y2="213.20" stroke="#7a7a7a" stroke-width="0.8"/>
<text x="155.90" y="220.30" font-size="7.9" text-anchor="middle" fill="#262626" stroke="#262626" stroke-width="0.08">0.0</text>
<line x1="183.55" y1="211.00" x2="183.55" y2="213.20" stroke="#7a7a7a" stroke-width="0.8"/>
<text x="183.55" y="220.30" font-size="7.9" text-anchor="middle" fill="#262626" stroke="#262626" stroke-width="0.08">2.5</text>
<line x1="211.20" y1="211.00" x2="211.20" y2="213.20" stroke="#7a7a7a" stroke-width="0.8"/>
<text x="211.20" y="220.30" font-size="7.9" text-anchor="middle" fill="#262626" stroke="#262626" stroke-width="0.08">5.0</text>
<text x="56.3" y="114.8" font-size="8" text-anchor="middle" fill="#262626" transform="rotate(-90 56.3 114.8)">-log<tspan font-size="6.2" dy="1.8">10</tspan><tspan dy="-1.8">(P value)</tspan></text>
<text x="154.5" y="228.6" font-size="8" text-anchor="middle" fill="#262626">log<tspan font-size="6.2" dy="1.8">2</tspan><tspan dy="-1.8">(Fold Change)</tspan></text>
<text x="154.50" y="237.60" font-size="7.9" text-anchor="middle" fill="#262626" stroke="#262626" stroke-width="0.08">IR vs. IR+BIBR1532</text>
<text x="265.60" y="14.60" font-size="19.6">B.</text>
<circle cx="314.90" cy="6.60" r="2.20" fill="#0b24fb"/>
<text x="319.90" y="9.10" font-size="7.5" fill="#262626" stroke="#262626" stroke-width="0.08" textLength="42.70" lengthAdjust="spacingAndGlyphs">Down regulated</text>
<circle cx="384.20" cy="6.60" r="2.20" fill="#a4a4a4"/>
<text x="388.90" y="9.10" font-size="7.5" fill="#262626" stroke="#262626" stroke-width="0.08" textLength="40.40" lengthAdjust="spacingAndGlyphs">Not significant</text>
<circle cx="436.40" cy="6.60" r="2.20" fill="#fc0d1b"/>
<text x="442.60" y="9.10" font-size="7.5" fill="#262626" stroke="#262626" stroke-width="0.08" textLength="34.30" lengthAdjust="spacingAndGlyphs">Up regulated</text>
<rect x="320.50" y="186.90" width="155.30" height="3.70" fill="#a4a4a4"/>
<polygon points="369.0,187.5 374.0,183.0 379.0,176.0 382.0,168.0 385.0,157.0 387.5,147.0 389.0,143.0 391.0,146.0 393.0,150.0 395.5,147.0 398.0,142.0 401.0,137.5 403.0,141.0 405.0,150.0 408.0,160.0 411.0,168.0 415.0,175.0 420.0,181.0 426.0,187.5 426.0,190.5 418.0,192.0 411.0,194.0 405.0,197.0 401.5,201.0 399.5,205.0 398.0,207.6 396.5,205.0 394.5,201.0 391.0,197.0 385.0,194.0 377.0,192.0 369.0,190.5" fill="#a4a4a4"/>
<circle cx="406.47" cy="160.40" r="1.70" fill="#a4a4a4"/>
<circle cx="388.70" cy="183.31" r="1.70" fill="#a4a4a4"/>
<circle cx="395.24" cy="187.60" r="1.70" fill="#a4a4a4"/>
<circle cx="401.95" cy="182.47" r="1.70" fill="#a4a4a4"/>
<circle cx="400.39" cy="173.79" r="1.70" fill="#a4a4a4"/>
<circle cx="381.09" cy="169.68" r="1.70" fill="#a4a4a4"/>
<circle cx="376.21" cy="177.28" r="1.70" fill="#a4a4a4"/>
<circle cx="403.21" cy="169.77" r="1.70" fill="#a4a4a4"/>
<circle cx="404.34" cy="172.47" r="1.70" fill="#a4a4a4"/>
<circle cx="403.57" cy="154.60" r="1.70" fill="#a4a4a4"/>
<circle cx="389.24" cy="167.25" r="1.70" fill="#a4a4a4"/>
<circle cx="404.32" cy="181.33" r="1.70" fill="#a4a4a4"/>
<circle cx="390.20" cy="178.64" r="1.70" fill="#a4a4a4"/>
<circle cx="389.92" cy="182.11" r="1.70" fill="#a4a4a4"/>
<circle cx="395.64" cy="165.83" r="1.70" fill="#a4a4a4"/>
<circle cx="377.86" cy="185.58" r="1.70" fill="#a4a4a4"/>
<circle cx="391.39" cy="116.16" r="1.70" fill="#a4a4a4"/>
<circle cx="383.35" cy="176.93" r="1.70" fill="#a4a4a4"/>
<circle cx="395.18" cy="187.39" r="1.70" fill="#a4a4a4"/>
<circle cx="399.19" cy="146.69" r="1.70" fill="#a4a4a4"/>
<circle cx="391.99" cy="149.26" r="1.70" fill="#a4a4a4"/>
<circle cx="388.32" cy="176.65" r="1.70" fill="#a4a4a4"/>
<circle cx="408.66" cy="180.40" r="1.70" fill="#a4a4a4"/>
<circle cx="412.43" cy="180.09" r="1.70" fill="#a4a4a4"/>
<circle cx="416.56" cy="187.29" r="1.70" fill="#a4a4a4"/>
<circle cx="386.80" cy="169.66" r="1.70" fill="#a4a4a4"/>
<circle cx="392.11" cy="184.03" r="1.70" fill="#a4a4a4"/>
<circle cx="413.94" cy="180.78" r="1.70" fill="#a4a4a4"/>
<circle cx="398.15" cy="156.14" r="1.70" fill="#a4a4a4"/>
<circle cx="407.55" cy="176.57" r="1.70" fill="#a4a4a4"/>
<circle cx="411.75" cy="169.85" r="1.70" fill="#a4a4a4"/>
<circle cx="396.16" cy="155.86" r="1.70" fill="#a4a4a4"/>
<circle cx="416.78" cy="173.57" r="1.70" fill="#a4a4a4"/>
<circle cx="401.25" cy="168.16" r="1.70" fill="#a4a4a4"/>
<circle cx="384.72" cy="186.06" r="1.70" fill="#a4a4a4"/>
<circle cx="408.42" cy="187.46" r="1.70" fill="#a4a4a4"/>
<circle cx="375.38" cy="181.93" r="1.70" fill="#a4a4a4"/>
<circle cx="384.20" cy="186.03" r="1.70" fill="#a4a4a4"/>
<circle cx="418.22" cy="182.66" r="1.70" fill="#a4a4a4"/>
<circle cx="410.61" cy="167.14" r="1.70" fill="#a4a4a4"/>
<circle cx="394.24" cy="179.67" r="1.70" fill="#a4a4a4"/>
<circle cx="401.45" cy="183.68" r="1.70" fill="#a4a4a4"/>
<circle cx="402.77" cy="165.53" r="1.70" fill="#a4a4a4"/>
<circle cx="403.73" cy="187.98" r="1.70" fill="#a4a4a4"/>
<circle cx="396.51" cy="182.56" r="1.70" fill="#a4a4a4"/>
<circle cx="393.72" cy="177.01" r="1.70" fill="#a4a4a4"/>
<circle cx="392.53" cy="166.16" r="1.70" fill="#a4a4a4"/>
<circle cx="416.37" cy="164.91" r="1.70" fill="#a4a4a4"/>
<circle cx="393.78" cy="186.73" r="1.70" fill="#a4a4a4"/>
<circle cx="393.69" cy="168.70" r="1.70" fill="#a4a4a4"/>
<circle cx="399.14" cy="182.16" r="1.70" fill="#a4a4a4"/>
<circle cx="392.46" cy="185.22" r="1.70" fill="#a4a4a4"/>
<circle cx="410.08" cy="184.41" r="1.70" fill="#a4a4a4"/>
<circle cx="408.09" cy="163.85" r="1.70" fill="#a4a4a4"/>
<circle cx="393.95" cy="174.63" r="1.70" fill="#a4a4a4"/>
<circle cx="380.99" cy="184.33" r="1.70" fill="#a4a4a4"/>
<circle cx="401.08" cy="132.76" r="1.70" fill="#a4a4a4"/>
<circle cx="408.89" cy="160.07" r="1.70" fill="#a4a4a4"/>
<circle cx="397.54" cy="165.12" r="1.70" fill="#a4a4a4"/>
<circle cx="396.51" cy="181.95" r="1.70" fill="#a4a4a4"/>
<circle cx="396.58" cy="163.85" r="1.70" fill="#a4a4a4"/>
<circle cx="408.48" cy="182.13" r="1.70" fill="#a4a4a4"/>
<circle cx="422.83" cy="187.03" r="1.70" fill="#a4a4a4"/>
<circle cx="399.32" cy="165.62" r="1.70" fill="#a4a4a4"/>
<circle cx="401.96" cy="147.95" r="1.70" fill="#a4a4a4"/>
<circle cx="404.15" cy="161.91" r="1.70" fill="#a4a4a4"/>
<circle cx="399.29" cy="175.28" r="1.70" fill="#a4a4a4"/>
<circle cx="412.73" cy="175.57" r="1.70" fill="#a4a4a4"/>
<circle cx="391.79" cy="185.67" r="1.70" fill="#a4a4a4"/>
<circle cx="389.10" cy="152.60" r="1.70" fill="#a4a4a4"/>
<circle cx="389.96" cy="173.11" r="1.70" fill="#a4a4a4"/>
<circle cx="397.04" cy="168.79" r="1.70" fill="#a4a4a4"/>
<circle cx="410.62" cy="159.03" r="1.70" fill="#a4a4a4"/>
<circle cx="409.36" cy="160.50" r="1.70" fill="#a4a4a4"/>
<circle cx="392.89" cy="165.89" r="1.70" fill="#a4a4a4"/>
<circle cx="399.15" cy="184.05" r="1.70" fill="#a4a4a4"/>
<circle cx="390.79" cy="162.83" r="1.70" fill="#a4a4a4"/>
<circle cx="379.46" cy="180.76" r="1.70" fill="#a4a4a4"/>
<circle cx="399.85" cy="164.71" r="1.70" fill="#a4a4a4"/>
<circle cx="398.79" cy="145.67" r="1.70" fill="#a4a4a4"/>
<circle cx="393.37" cy="180.48" r="1.70" fill="#a4a4a4"/>
<circle cx="391.28" cy="164.91" r="1.70" fill="#a4a4a4"/>
<circle cx="406.62" cy="174.30" r="1.70" fill="#a4a4a4"/>
<circle cx="385.68" cy="187.78" r="1.70" fill="#a4a4a4"/>
<circle cx="408.70" cy="185.52" r="1.70" fill="#a4a4a4"/>
<circle cx="415.91" cy="187.58" r="1.70" fill="#a4a4a4"/>
<circle cx="382.15" cy="184.86" r="1.70" fill="#a4a4a4"/>
<circle cx="392.45" cy="158.02" r="1.70" fill="#a4a4a4"/>
<circle cx="399.01" cy="173.26" r="1.70" fill="#a4a4a4"/>
<circle cx="398.08" cy="162.23" r="1.70" fill="#a4a4a4"/>
<circle cx="385.17" cy="187.00" r="1.70" fill="#a4a4a4"/>
<circle cx="407.23" cy="175.48" r="1.70" fill="#a4a4a4"/>
<circle cx="386.03" cy="187.27" r="1.70" fill="#a4a4a4"/>
<circle cx="386.20" cy="181.53" r="1.70" fill="#a4a4a4"/>
<circle cx="412.47" cy="180.41" r="1.70" fill="#a4a4a4"/>
<circle cx="405.25" cy="181.00" r="1.70" fill="#a4a4a4"/>
<circle cx="415.94" cy="181.71" r="1.70" fill="#a4a4a4"/>
<circle cx="405.80" cy="169.66" r="1.70" fill="#a4a4a4"/>
<circle cx="398.23" cy="175.55" r="1.70" fill="#a4a4a4"/>
<circle cx="402.51" cy="127.07" r="1.70" fill="#a4a4a4"/>
<circle cx="394.90" cy="143.97" r="1.70" fill="#a4a4a4"/>
<circle cx="417.40" cy="173.76" r="1.70" fill="#a4a4a4"/>
<circle cx="407.63" cy="181.65" r="1.70" fill="#a4a4a4"/>
<circle cx="416.86" cy="186.97" r="1.70" fill="#a4a4a4"/>
<circle cx="387.06" cy="178.36" r="1.70" fill="#a4a4a4"/>
<circle cx="400.93" cy="162.58" r="1.70" fill="#a4a4a4"/>
<circle cx="410.61" cy="185.45" r="1.70" fill="#a4a4a4"/>
<circle cx="406.92" cy="185.69" r="1.70" fill="#a4a4a4"/>
<circle cx="394.37" cy="187.15" r="1.70" fill="#a4a4a4"/>
<circle cx="404.37" cy="118.62" r="1.70" fill="#a4a4a4"/>
<circle cx="397.72" cy="178.95" r="1.70" fill="#a4a4a4"/>
<circle cx="397.33" cy="171.32" r="1.70" fill="#a4a4a4"/>
<circle cx="413.70" cy="176.31" r="1.70" fill="#a4a4a4"/>
<circle cx="411.26" cy="160.09" r="1.70" fill="#a4a4a4"/>
<circle cx="396.67" cy="174.92" r="1.70" fill="#a4a4a4"/>
<circle cx="394.02" cy="158.95" r="1.70" fill="#a4a4a4"/>
<circle cx="411.14" cy="179.63" r="1.70" fill="#a4a4a4"/>
<circle cx="415.03" cy="177.74" r="1.70" fill="#a4a4a4"/>
<circle cx="405.16" cy="166.66" r="1.70" fill="#a4a4a4"/>
<circle cx="376.40" cy="183.07" r="1.70" fill="#a4a4a4"/>
<circle cx="406.42" cy="167.13" r="1.70" fill="#a4a4a4"/>
<circle cx="402.59" cy="177.02" r="1.70" fill="#a4a4a4"/>
<circle cx="400.58" cy="162.36" r="1.70" fill="#a4a4a4"/>
<circle cx="398.49" cy="161.59" r="1.70" fill="#a4a4a4"/>
<circle cx="402.04" cy="163.29" r="1.70" fill="#a4a4a4"/>
<circle cx="398.00" cy="182.37" r="1.70" fill="#a4a4a4"/>
<circle cx="391.85" cy="182.47" r="1.70" fill="#a4a4a4"/>
<circle cx="402.35" cy="182.43" r="1.70" fill="#a4a4a4"/>
<circle cx="387.36" cy="178.48" r="1.70" fill="#a4a4a4"/>
<circle cx="388.70" cy="171.72" r="1.70" fill="#a4a4a4"/>
<circle cx="407.11" cy="185.75" r="1.70" fill="#a4a4a4"/>
<circle cx="394.18" cy="146.93" r="1.70" fill="#a4a4a4"/>
<circle cx="396.08" cy="179.39" r="1.70" fill="#a4a4a4"/>
<circle cx="412.84" cy="178.74" r="1.70" fill="#a4a4a4"/>
<circle cx="400.18" cy="176.74" r="1.70" fill="#a4a4a4"/>
<circle cx="408.24" cy="165.91" r="1.70" fill="#a4a4a4"/>
<circle cx="398.41" cy="161.40" r="1.70" fill="#a4a4a4"/>
<circle cx="403.96" cy="163.16" r="1.70" fill="#a4a4a4"/>
<circle cx="424.06" cy="184.89" r="1.70" fill="#a4a4a4"/>
<circle cx="398.91" cy="105.26" r="1.70" fill="#a4a4a4"/>
<circle cx="397.71" cy="186.84" r="1.70" fill="#a4a4a4"/>
<circle cx="386.33" cy="184.63" r="1.70" fill="#a4a4a4"/>
<circle cx="397.00" cy="187.91" r="1.70" fill="#a4a4a4"/>
<circle cx="406.54" cy="175.42" r="1.70" fill="#a4a4a4"/>
<circle cx="406.43" cy="185.18" r="1.70" fill="#a4a4a4"/>
<circle cx="387.46" cy="175.50" r="1.70" fill="#a4a4a4"/>
<circle cx="389.29" cy="157.47" r="1.70" fill="#a4a4a4"/>
<circle cx="391.17" cy="173.18" r="1.70" fill="#a4a4a4"/>
<circle cx="407.48" cy="159.88" r="1.70" fill="#a4a4a4"/>
<circle cx="416.28" cy="183.31" r="1.70" fill="#a4a4a4"/>
<circle cx="386.66" cy="166.36" r="1.70" fill="#a4a4a4"/>
<circle cx="405.80" cy="165.07" r="1.70" fill="#a4a4a4"/>
<circle cx="407.19" cy="153.47" r="1.70" fill="#a4a4a4"/>
<circle cx="379.75" cy="178.29" r="1.70" fill="#a4a4a4"/>
<circle cx="395.48" cy="166.92" r="1.70" fill="#a4a4a4"/>
<circle cx="404.34" cy="169.18" r="1.70" fill="#a4a4a4"/>
<circle cx="404.57" cy="158.95" r="1.70" fill="#a4a4a4"/>
<circle cx="387.40" cy="166.70" r="1.70" fill="#a4a4a4"/>
<circle cx="415.87" cy="187.65" r="1.70" fill="#a4a4a4"/>
<circle cx="385.62" cy="187.61" r="1.70" fill="#a4a4a4"/>
<circle cx="412.95" cy="179.47" r="1.70" fill="#a4a4a4"/>
<circle cx="405.01" cy="178.86" r="1.70" fill="#a4a4a4"/>
<circle cx="402.56" cy="141.99" r="1.70" fill="#a4a4a4"/>
<circle cx="388.19" cy="187.21" r="1.70" fill="#a4a4a4"/>
<circle cx="391.09" cy="147.49" r="1.70" fill="#a4a4a4"/>
<circle cx="395.49" cy="178.23" r="1.70" fill="#a4a4a4"/>
<circle cx="397.59" cy="135.29" r="1.70" fill="#a4a4a4"/>
<circle cx="396.56" cy="185.93" r="1.70" fill="#a4a4a4"/>
<circle cx="396.24" cy="141.20" r="1.70" fill="#a4a4a4"/>
<circle cx="394.27" cy="165.73" r="1.70" fill="#a4a4a4"/>
<circle cx="387.07" cy="183.26" r="1.70" fill="#a4a4a4"/>
<circle cx="403.23" cy="176.29" r="1.70" fill="#a4a4a4"/>
<circle cx="399.73" cy="185.69" r="1.70" fill="#a4a4a4"/>
<circle cx="409.16" cy="143.26" r="1.70" fill="#a4a4a4"/>
<circle cx="397.20" cy="166.25" r="1.70" fill="#a4a4a4"/>
<circle cx="401.23" cy="148.90" r="1.70" fill="#a4a4a4"/>
<circle cx="373.58" cy="186.01" r="1.70" fill="#a4a4a4"/>
<circle cx="403.09" cy="157.24" r="1.70" fill="#a4a4a4"/>
<circle cx="395.90" cy="166.21" r="1.70" fill="#a4a4a4"/>
<circle cx="395.77" cy="187.39" r="1.70" fill="#a4a4a4"/>
<circle cx="387.07" cy="186.90" r="1.70" fill="#a4a4a4"/>
<circle cx="403.82" cy="168.43" r="1.70" fill="#a4a4a4"/>
<circle cx="398.32" cy="186.41" r="1.70" fill="#a4a4a4"/>
<circle cx="400.69" cy="174.72" r="1.70" fill="#a4a4a4"/>
<circle cx="393.04" cy="127.86" r="1.70" fill="#a4a4a4"/>
<circle cx="391.06" cy="169.39" r="1.70" fill="#a4a4a4"/>
<circle cx="389.99" cy="175.84" r="1.70" fill="#a4a4a4"/>
<circle cx="397.50" cy="178.07" r="1.70" fill="#a4a4a4"/>
<circle cx="402.16" cy="167.06" r="1.70" fill="#a4a4a4"/>
<circle cx="398.03" cy="162.85" r="1.70" fill="#a4a4a4"/>
<circle cx="401.57" cy="160.83" r="1.70" fill="#a4a4a4"/>
<circle cx="411.66" cy="170.00" r="1.70" fill="#a4a4a4"/>
<circle cx="418.34" cy="178.91" r="1.70" fill="#a4a4a4"/>
<circle cx="397.39" cy="178.01" r="1.70" fill="#a4a4a4"/>
<circle cx="382.08" cy="182.07" r="1.70" fill="#a4a4a4"/>
<circle cx="397.29" cy="178.14" r="1.70" fill="#a4a4a4"/>
<circle cx="405.88" cy="168.21" r="1.70" fill="#a4a4a4"/>
<circle cx="393.15" cy="142.84" r="1.70" fill="#a4a4a4"/>
<circle cx="397.07" cy="141.53" r="1.70" fill="#a4a4a4"/>
<circle cx="388.63" cy="180.28" r="1.70" fill="#a4a4a4"/>
<circle cx="401.60" cy="170.47" r="1.70" fill="#a4a4a4"/>
<circle cx="390.95" cy="187.67" r="1.70" fill="#a4a4a4"/>
<circle cx="408.93" cy="187.53" r="1.70" fill="#a4a4a4"/>
<circle cx="399.54" cy="175.09" r="1.70" fill="#a4a4a4"/>
<circle cx="404.21" cy="177.19" r="1.70" fill="#a4a4a4"/>
<circle cx="379.07" cy="180.47" r="1.70" fill="#a4a4a4"/>
<circle cx="389.18" cy="175.71" r="1.70" fill="#a4a4a4"/>
<circle cx="391.50" cy="171.13" r="1.70" fill="#a4a4a4"/>
<circle cx="393.49" cy="112.52" r="1.70" fill="#a4a4a4"/>
<circle cx="383.91" cy="187.57" r="1.70" fill="#a4a4a4"/>
<circle cx="399.69" cy="163.45" r="1.70" fill="#a4a4a4"/>
<circle cx="389.22" cy="173.35" r="1.70" fill="#a4a4a4"/>
<circle cx="409.80" cy="158.65" r="1.70" fill="#a4a4a4"/>
<circle cx="413.40" cy="184.09" r="1.70" fill="#a4a4a4"/>
<circle cx="384.89" cy="184.52" r="1.70" fill="#a4a4a4"/>
<circle cx="380.24" cy="174.17" r="1.70" fill="#a4a4a4"/>
<circle cx="414.47" cy="164.75" r="1.70" fill="#a4a4a4"/>
<circle cx="402.48" cy="177.27" r="1.70" fill="#a4a4a4"/>
<circle cx="388.14" cy="142.35" r="1.70" fill="#a4a4a4"/>
<circle cx="387.77" cy="160.24" r="1.70" fill="#a4a4a4"/>
<circle cx="341.85" cy="171.42" r="1.70" fill="#a4a4a4"/>
<circle cx="355.12" cy="183.31" r="1.70" fill="#a4a4a4"/>
<circle cx="447.85" cy="182.38" r="1.70" fill="#a4a4a4"/>
<circle cx="463.24" cy="182.19" r="1.70" fill="#a4a4a4"/>
<circle cx="324.53" cy="175.05" r="1.70" fill="#a4a4a4"/>
<circle cx="330.05" cy="185.45" r="1.70" fill="#a4a4a4"/>
<circle cx="436.41" cy="184.03" r="1.70" fill="#a4a4a4"/>
<circle cx="461.14" cy="177.44" r="1.70" fill="#a4a4a4"/>
<circle cx="454.54" cy="186.68" r="1.70" fill="#a4a4a4"/>
<circle cx="463.48" cy="180.30" r="1.70" fill="#a4a4a4"/>
<circle cx="322.78" cy="173.25" r="1.70" fill="#a4a4a4"/>
<circle cx="331.26" cy="187.21" r="1.70" fill="#a4a4a4"/>
<circle cx="472.08" cy="187.00" r="1.70" fill="#a4a4a4"/>
<circle cx="337.14" cy="184.91" r="1.70" fill="#a4a4a4"/>
<circle cx="443.73" cy="182.86" r="1.70" fill="#a4a4a4"/>
<circle cx="444.00" cy="172.59" r="1.70" fill="#a4a4a4"/>
<circle cx="448.16" cy="184.45" r="1.70" fill="#a4a4a4"/>
<circle cx="349.38" cy="181.19" r="1.70" fill="#a4a4a4"/>
<circle cx="356.27" cy="181.30" r="1.70" fill="#a4a4a4"/>
<circle cx="337.01" cy="187.20" r="1.70" fill="#a4a4a4"/>
<circle cx="473.00" cy="181.65" r="1.70" fill="#a4a4a4"/>
<circle cx="357.07" cy="179.87" r="1.70" fill="#a4a4a4"/>
<circle cx="323.87" cy="178.61" r="1.70" fill="#a4a4a4"/>
<circle cx="470.46" cy="183.89" r="1.70" fill="#a4a4a4"/>
<circle cx="474.90" cy="179.71" r="1.70" fill="#a4a4a4"/>
<circle cx="355.69" cy="183.85" r="1.70" fill="#a4a4a4"/>
<circle cx="437.24" cy="182.65" r="1.70" fill="#a4a4a4"/>
<circle cx="333.94" cy="179.47" r="1.70" fill="#a4a4a4"/>
<circle cx="322.10" cy="185.73" r="1.70" fill="#a4a4a4"/>
<circle cx="440.82" cy="178.75" r="1.70" fill="#a4a4a4"/>
<circle cx="444.09" cy="176.50" r="1.70" fill="#a4a4a4"/>
<circle cx="452.87" cy="173.65" r="1.70" fill="#a4a4a4"/>
<circle cx="339.04" cy="172.62" r="1.70" fill="#a4a4a4"/>
<circle cx="335.11" cy="172.19" r="1.70" fill="#a4a4a4"/>
<circle cx="437.18" cy="172.78" r="1.70" fill="#a4a4a4"/>
<circle cx="437.59" cy="178.21" r="1.70" fill="#a4a4a4"/>
<circle cx="324.25" cy="181.00" r="1.70" fill="#a4a4a4"/>
<circle cx="471.04" cy="183.87" r="1.70" fill="#a4a4a4"/>
<circle cx="331.80" cy="174.77" r="1.70" fill="#a4a4a4"/>
<circle cx="347.80" cy="183.93" r="1.70" fill="#a4a4a4"/>
<circle cx="331.92" cy="171.55" r="1.70" fill="#a4a4a4"/>
<circle cx="460.73" cy="186.99" r="1.70" fill="#a4a4a4"/>
<circle cx="436.95" cy="186.28" r="1.70" fill="#a4a4a4"/>
<circle cx="473.20" cy="176.72" r="1.70" fill="#a4a4a4"/>
<circle cx="331.04" cy="177.42" r="1.70" fill="#a4a4a4"/>
<circle cx="443.13" cy="182.68" r="1.70" fill="#a4a4a4"/>
<circle cx="464.80" cy="180.20" r="1.70" fill="#a4a4a4"/>
<circle cx="448.78" cy="172.81" r="1.70" fill="#a4a4a4"/>
<circle cx="335.03" cy="186.59" r="1.70" fill="#a4a4a4"/>
<circle cx="349.10" cy="183.62" r="1.70" fill="#a4a4a4"/>
<circle cx="324.33" cy="175.68" r="1.70" fill="#a4a4a4"/>
<circle cx="357.29" cy="184.84" r="1.70" fill="#a4a4a4"/>
<circle cx="474.53" cy="186.99" r="1.70" fill="#a4a4a4"/>
<circle cx="339.95" cy="183.43" r="1.70" fill="#a4a4a4"/>
<circle cx="453.43" cy="186.39" r="1.70" fill="#a4a4a4"/>
<circle cx="462.29" cy="177.63" r="1.70" fill="#a4a4a4"/>
<circle cx="469.03" cy="184.91" r="1.70" fill="#a4a4a4"/>
<circle cx="447.46" cy="183.25" r="1.70" fill="#a4a4a4"/>
<circle cx="450.55" cy="186.89" r="1.70" fill="#a4a4a4"/>
<circle cx="330.83" cy="181.10" r="1.70" fill="#a4a4a4"/>
<circle cx="353.83" cy="179.98" r="1.70" fill="#a4a4a4"/>
<circle cx="357.73" cy="183.41" r="1.70" fill="#a4a4a4"/>
<circle cx="445.02" cy="182.44" r="1.70" fill="#a4a4a4"/>
<circle cx="439.99" cy="174.56" r="1.70" fill="#a4a4a4"/>
<circle cx="351.49" cy="176.11" r="1.70" fill="#a4a4a4"/>
<circle cx="332.57" cy="169.77" r="1.70" fill="#a4a4a4"/>
<circle cx="328.82" cy="175.08" r="1.70" fill="#a4a4a4"/>
<circle cx="450.52" cy="185.25" r="1.70" fill="#a4a4a4"/>
<circle cx="453.52" cy="186.34" r="1.70" fill="#a4a4a4"/>
<circle cx="440.13" cy="171.05" r="1.70" fill="#a4a4a4"/>
<circle cx="460.18" cy="185.54" r="1.70" fill="#a4a4a4"/>
<circle cx="329.34" cy="178.51" r="1.70" fill="#a4a4a4"/>
<circle cx="343.58" cy="183.68" r="1.70" fill="#a4a4a4"/>
<circle cx="333.78" cy="182.18" r="1.70" fill="#a4a4a4"/>
<circle cx="443.22" cy="184.94" r="1.70" fill="#a4a4a4"/>
<circle cx="457.37" cy="181.49" r="1.70" fill="#a4a4a4"/>
<circle cx="325.65" cy="177.94" r="1.70" fill="#a4a4a4"/>
<circle cx="439.55" cy="180.08" r="1.70" fill="#a4a4a4"/>
<circle cx="347.03" cy="180.87" r="1.70" fill="#a4a4a4"/>
<circle cx="356.31" cy="183.23" r="1.70" fill="#a4a4a4"/>
<circle cx="342.39" cy="181.26" r="1.70" fill="#a4a4a4"/>
<circle cx="474.87" cy="179.72" r="1.70" fill="#a4a4a4"/>
<circle cx="329.10" cy="186.49" r="1.70" fill="#a4a4a4"/>
<circle cx="354.46" cy="181.06" r="1.70" fill="#a4a4a4"/>
<circle cx="351.53" cy="171.14" r="1.70" fill="#a4a4a4"/>
<circle cx="327.85" cy="176.52" r="1.70" fill="#a4a4a4"/>
<circle cx="341.86" cy="174.26" r="1.70" fill="#a4a4a4"/>
<circle cx="344.40" cy="171.38" r="1.70" fill="#a4a4a4"/>
<circle cx="340.16" cy="182.68" r="1.70" fill="#a4a4a4"/>
<circle cx="472.09" cy="181.26" r="1.70" fill="#a4a4a4"/>
<circle cx="339.66" cy="179.06" r="1.70" fill="#a4a4a4"/>
<circle cx="326.56" cy="166.16" r="1.70" fill="#a4a4a4"/>
<circle cx="474.05" cy="184.26" r="1.70" fill="#a4a4a4"/>
<circle cx="451.13" cy="187.02" r="1.70" fill="#a4a4a4"/>
<circle cx="460.19" cy="184.85" r="1.70" fill="#a4a4a4"/>
<circle cx="444.66" cy="182.39" r="1.70" fill="#a4a4a4"/>
<circle cx="352.47" cy="184.50" r="1.70" fill="#a4a4a4"/>
<circle cx="336.39" cy="182.10" r="1.70" fill="#a4a4a4"/>
<circle cx="450.96" cy="182.28" r="1.70" fill="#a4a4a4"/>
<circle cx="470.99" cy="182.40" r="1.70" fill="#a4a4a4"/>
<circle cx="342.24" cy="187.24" r="1.70" fill="#a4a4a4"/>
<circle cx="440.59" cy="184.74" r="1.70" fill="#a4a4a4"/>
<circle cx="457.45" cy="181.74" r="1.70" fill="#a4a4a4"/>
<circle cx="342.97" cy="181.59" r="1.70" fill="#a4a4a4"/>
<circle cx="345.72" cy="177.80" r="1.70" fill="#a4a4a4"/>
<circle cx="344.28" cy="184.04" r="1.70" fill="#a4a4a4"/>
<circle cx="330.47" cy="185.96" r="1.70" fill="#a4a4a4"/>
<circle cx="328.46" cy="171.03" r="1.70" fill="#a4a4a4"/>
<circle cx="325.85" cy="180.45" r="1.70" fill="#a4a4a4"/>
<circle cx="337.91" cy="180.14" r="1.70" fill="#a4a4a4"/>
<circle cx="437.59" cy="184.81" r="1.70" fill="#a4a4a4"/>
<circle cx="466.33" cy="184.41" r="1.70" fill="#a4a4a4"/>
<circle cx="438.12" cy="178.19" r="1.70" fill="#a4a4a4"/>
<circle cx="441.31" cy="187.13" r="1.70" fill="#a4a4a4"/>
<circle cx="474.85" cy="185.42" r="1.70" fill="#a4a4a4"/>
<circle cx="357.34" cy="170.16" r="1.70" fill="#a4a4a4"/>
<circle cx="356.44" cy="182.47" r="1.70" fill="#a4a4a4"/>
<circle cx="472.29" cy="184.51" r="1.70" fill="#a4a4a4"/>
<circle cx="334.63" cy="187.14" r="1.70" fill="#a4a4a4"/>
<circle cx="446.72" cy="181.82" r="1.70" fill="#a4a4a4"/>
<circle cx="441.60" cy="166.20" r="1.70" fill="#a4a4a4"/>
<circle cx="331.46" cy="187.07" r="1.70" fill="#a4a4a4"/>
<circle cx="448.44" cy="181.55" r="1.70" fill="#a4a4a4"/>
<circle cx="355.71" cy="185.99" r="1.70" fill="#a4a4a4"/>
<circle cx="470.92" cy="179.29" r="1.70" fill="#a4a4a4"/>
<circle cx="341.11" cy="172.95" r="1.70" fill="#a4a4a4"/>
<circle cx="450.03" cy="178.99" r="1.70" fill="#a4a4a4"/>
<circle cx="470.42" cy="178.77" r="1.70" fill="#a4a4a4"/>
<circle cx="357.75" cy="180.89" r="1.70" fill="#a4a4a4"/>
<circle cx="446.33" cy="180.49" r="1.70" fill="#a4a4a4"/>
<circle cx="458.52" cy="177.13" r="1.70" fill="#a4a4a4"/>
<circle cx="328.36" cy="175.03" r="1.70" fill="#a4a4a4"/>
<circle cx="437.88" cy="184.30" r="1.70" fill="#a4a4a4"/>
<circle cx="474.38" cy="180.84" r="1.70" fill="#a4a4a4"/>
<circle cx="461.88" cy="187.14" r="1.70" fill="#a4a4a4"/>
<circle cx="327.38" cy="186.84" r="1.70" fill="#a4a4a4"/>
<circle cx="452.86" cy="167.40" r="1.70" fill="#a4a4a4"/>
<circle cx="330.18" cy="185.77" r="1.70" fill="#a4a4a4"/>
<circle cx="436.87" cy="178.54" r="1.70" fill="#a4a4a4"/>
<circle cx="334.86" cy="187.22" r="1.70" fill="#a4a4a4"/>
<circle cx="343.01" cy="181.97" r="1.70" fill="#a4a4a4"/>
<circle cx="454.52" cy="183.98" r="1.70" fill="#a4a4a4"/>
<circle cx="355.72" cy="187.14" r="1.70" fill="#a4a4a4"/>
<circle cx="344.98" cy="182.01" r="1.70" fill="#a4a4a4"/>
<circle cx="466.50" cy="181.34" r="1.70" fill="#a4a4a4"/>
<circle cx="345.22" cy="183.10" r="1.70" fill="#a4a4a4"/>
<circle cx="449.66" cy="181.14" r="1.70" fill="#a4a4a4"/>
<circle cx="464.61" cy="179.27" r="1.70" fill="#a4a4a4"/>
<circle cx="354.53" cy="176.20" r="1.70" fill="#a4a4a4"/>
<circle cx="330.56" cy="184.19" r="1.70" fill="#a4a4a4"/>
<circle cx="350.04" cy="175.48" r="1.70" fill="#a4a4a4"/>
<circle cx="441.55" cy="186.44" r="1.70" fill="#a4a4a4"/>
<circle cx="343.89" cy="173.88" r="1.70" fill="#a4a4a4"/>
<circle cx="442.81" cy="186.77" r="1.70" fill="#a4a4a4"/>
<circle cx="332.81" cy="168.50" r="1.70" fill="#a4a4a4"/>
<circle cx="463.90" cy="181.43" r="1.70" fill="#a4a4a4"/>
<circle cx="352.40" cy="187.04" r="1.70" fill="#a4a4a4"/>
<circle cx="453.65" cy="176.82" r="1.70" fill="#a4a4a4"/>
<circle cx="325.79" cy="187.07" r="1.70" fill="#a4a4a4"/>
<circle cx="348.99" cy="184.73" r="1.70" fill="#a4a4a4"/>
<circle cx="468.97" cy="185.59" r="1.70" fill="#a4a4a4"/>
<circle cx="453.01" cy="180.17" r="1.70" fill="#a4a4a4"/>
<circle cx="456.41" cy="186.06" r="1.70" fill="#a4a4a4"/>
<circle cx="444.46" cy="173.92" r="1.70" fill="#a4a4a4"/>
<circle cx="436.59" cy="186.91" r="1.70" fill="#a4a4a4"/>
<circle cx="472.84" cy="180.46" r="1.70" fill="#a4a4a4"/>
<circle cx="448.75" cy="181.23" r="1.70" fill="#a4a4a4"/>
<circle cx="354.67" cy="181.61" r="1.70" fill="#a4a4a4"/>
<circle cx="463.02" cy="174.06" r="1.70" fill="#a4a4a4"/>
<circle cx="352.23" cy="166.16" r="1.70" fill="#a4a4a4"/>
<circle cx="469.44" cy="173.39" r="1.70" fill="#a4a4a4"/>
<circle cx="448.00" cy="181.55" r="1.70" fill="#a4a4a4"/>
<circle cx="344.41" cy="169.08" r="1.70" fill="#a4a4a4"/>
<circle cx="322.97" cy="177.63" r="1.70" fill="#a4a4a4"/>
<circle cx="355.44" cy="184.44" r="1.70" fill="#a4a4a4"/>
<circle cx="323.50" cy="183.05" r="1.70" fill="#a4a4a4"/>
<circle cx="460.72" cy="182.33" r="1.70" fill="#a4a4a4"/>
<circle cx="343.26" cy="172.81" r="1.70" fill="#a4a4a4"/>
<circle cx="351.43" cy="178.96" r="1.70" fill="#a4a4a4"/>
<circle cx="353.24" cy="169.38" r="1.70" fill="#a4a4a4"/>
<circle cx="472.83" cy="182.36" r="1.70" fill="#a4a4a4"/>
<circle cx="323.24" cy="183.37" r="1.70" fill="#a4a4a4"/>
<circle cx="467.67" cy="175.66" r="1.70" fill="#a4a4a4"/>
<circle cx="447.21" cy="174.23" r="1.70" fill="#a4a4a4"/>
<circle cx="325.52" cy="187.06" r="1.70" fill="#a4a4a4"/>
<circle cx="337.26" cy="180.99" r="1.70" fill="#a4a4a4"/>
<circle cx="331.24" cy="184.32" r="1.70" fill="#a4a4a4"/>
<circle cx="333.55" cy="172.73" r="1.70" fill="#a4a4a4"/>
<circle cx="455.65" cy="179.58" r="1.70" fill="#a4a4a4"/>
<circle cx="336.87" cy="176.85" r="1.70" fill="#a4a4a4"/>
<circle cx="349.83" cy="178.95" r="1.70" fill="#a4a4a4"/>
<circle cx="444.45" cy="175.29" r="1.70" fill="#a4a4a4"/>
<circle cx="439.54" cy="184.91" r="1.70" fill="#a4a4a4"/>
<circle cx="329.27" cy="182.15" r="1.70" fill="#a4a4a4"/>
<circle cx="474.14" cy="176.42" r="1.70" fill="#a4a4a4"/>
<circle cx="350.68" cy="187.06" r="1.70" fill="#a4a4a4"/>
<circle cx="339.80" cy="177.16" r="1.70" fill="#a4a4a4"/>
<circle cx="355.98" cy="172.79" r="1.70" fill="#a4a4a4"/>
<circle cx="329.73" cy="183.91" r="1.70" fill="#a4a4a4"/>
<circle cx="344.92" cy="176.85" r="1.70" fill="#a4a4a4"/>
<circle cx="350.36" cy="181.96" r="1.70" fill="#a4a4a4"/>
<circle cx="449.87" cy="171.70" r="1.70" fill="#a4a4a4"/>
<circle cx="336.21" cy="184.27" r="1.70" fill="#a4a4a4"/>
<circle cx="436.98" cy="184.82" r="1.70" fill="#a4a4a4"/>
<circle cx="331.48" cy="178.32" r="1.70" fill="#a4a4a4"/>
<circle cx="353.82" cy="180.90" r="1.70" fill="#a4a4a4"/>
<circle cx="338.59" cy="171.88" r="1.70" fill="#a4a4a4"/>
<circle cx="461.21" cy="184.25" r="1.70" fill="#a4a4a4"/>
<circle cx="333.76" cy="177.20" r="1.70" fill="#a4a4a4"/>
<circle cx="464.94" cy="172.34" r="1.70" fill="#a4a4a4"/>
<circle cx="337.80" cy="185.54" r="1.70" fill="#a4a4a4"/>
<circle cx="338.63" cy="175.10" r="1.70" fill="#a4a4a4"/>
<circle cx="445.28" cy="184.50" r="1.70" fill="#a4a4a4"/>
<circle cx="468.90" cy="179.91" r="1.70" fill="#a4a4a4"/>
<circle cx="327.62" cy="187.23" r="1.70" fill="#a4a4a4"/>
<circle cx="442.28" cy="178.98" r="1.70" fill="#a4a4a4"/>
<circle cx="328.81" cy="172.33" r="1.70" fill="#a4a4a4"/>
<circle cx="356.65" cy="184.99" r="1.70" fill="#a4a4a4"/>
<circle cx="335.83" cy="170.68" r="1.70" fill="#a4a4a4"/>
<circle cx="452.96" cy="185.66" r="1.70" fill="#a4a4a4"/>
<circle cx="344.97" cy="182.34" r="1.70" fill="#a4a4a4"/>
<circle cx="323.22" cy="183.37" r="1.70" fill="#a4a4a4"/>
<circle cx="350.48" cy="183.50" r="1.70" fill="#a4a4a4"/>
<circle cx="454.07" cy="176.95" r="1.70" fill="#a4a4a4"/>
<circle cx="343.73" cy="174.57" r="1.70" fill="#a4a4a4"/>
<circle cx="452.77" cy="178.63" r="1.70" fill="#a4a4a4"/>
<circle cx="465.21" cy="181.39" r="1.70" fill="#a4a4a4"/>
<circle cx="470.32" cy="184.13" r="1.70" fill="#a4a4a4"/>
<circle cx="463.30" cy="178.83" r="1.70" fill="#a4a4a4"/>
<circle cx="453.70" cy="175.99" r="1.70" fill="#a4a4a4"/>
<circle cx="333.40" cy="146.00" r="1.70" fill="#a4a4a4"/>
<circle cx="334.40" cy="151.80" r="1.70" fill="#a4a4a4"/>
<circle cx="338.50" cy="153.80" r="1.70" fill="#a4a4a4"/>
<circle cx="326.60" cy="158.00" r="1.70" fill="#a4a4a4"/>
<circle cx="324.00" cy="161.00" r="1.70" fill="#a4a4a4"/>
<circle cx="330.00" cy="161.00" r="1.70" fill="#a4a4a4"/>
<circle cx="338.50" cy="163.00" r="1.70" fill="#a4a4a4"/>
<circle cx="348.80" cy="165.00" r="1.70" fill="#a4a4a4"/>
<circle cx="369.30" cy="163.00" r="1.70" fill="#a4a4a4"/>
<circle cx="464.70" cy="145.60" r="1.70" fill="#a4a4a4"/>
<circle cx="462.60" cy="153.80" r="1.70" fill="#a4a4a4"/>
<circle cx="452.40" cy="156.00" r="1.70" fill="#a4a4a4"/>
<circle cx="437.00" cy="157.00" r="1.70" fill="#a4a4a4"/>
<circle cx="424.70" cy="158.00" r="1.70" fill="#a4a4a4"/>
<circle cx="470.00" cy="150.00" r="1.70" fill="#a4a4a4"/>
<circle cx="445.00" cy="160.00" r="1.70" fill="#a4a4a4"/>
<circle cx="352.00" cy="172.00" r="1.70" fill="#a4a4a4"/>
<circle cx="360.00" cy="176.00" r="1.70" fill="#a4a4a4"/>
<circle cx="366.00" cy="180.00" r="1.70" fill="#a4a4a4"/>
<circle cx="430.00" cy="176.00" r="1.70" fill="#a4a4a4"/>
<circle cx="436.00" cy="170.00" r="1.70" fill="#a4a4a4"/>
<circle cx="399.80" cy="63.40" r="1.70" fill="#a4a4a4"/>
<circle cx="393.60" cy="78.10" r="1.70" fill="#a4a4a4"/>
<circle cx="402.50" cy="84.60" r="1.70" fill="#a4a4a4"/>
<circle cx="401.30" cy="95.80" r="1.70" fill="#a4a4a4"/>
<circle cx="398.50" cy="98.00" r="1.70" fill="#a4a4a4"/>
<circle cx="400.50" cy="101.00" r="1.70" fill="#a4a4a4"/>
<circle cx="396.00" cy="104.00" r="1.70" fill="#a4a4a4"/>
<circle cx="402.00" cy="106.00" r="1.70" fill="#a4a4a4"/>
<circle cx="398.00" cy="110.00" r="1.70" fill="#a4a4a4"/>
<circle cx="401.00" cy="113.00" r="1.70" fill="#a4a4a4"/>
<circle cx="395.50" cy="116.00" r="1.70" fill="#a4a4a4"/>
<circle cx="400.00" cy="119.00" r="1.70" fill="#a4a4a4"/>
<circle cx="403.00" cy="122.00" r="1.70" fill="#a4a4a4"/>
<circle cx="394.50" cy="125.00" r="1.70" fill="#a4a4a4"/>
<circle cx="398.00" cy="127.00" r="1.70" fill="#a4a4a4"/>
<circle cx="402.00" cy="130.00" r="1.70" fill="#a4a4a4"/>
<line x1="393.35" y1="17.70" x2="393.35" y2="211.00" stroke="#c9c9c9" stroke-width="0.9"/>
<line x1="403.05" y1="17.70" x2="403.05" y2="211.00" stroke="#c9c9c9" stroke-width="0.9"/>
<line x1="320.50" y1="144.97" x2="475.80" y2="144.97" stroke="#c9c9c9" stroke-width="0.9"/>
<circle cx="334.00" cy="88.50" r="1.70" fill="#0b24fb"/>
<circle cx="345.30" cy="106.20" r="1.70" fill="#0b24fb"/>
<circle cx="331.80" cy="116.70" r="1.70" fill="#0b24fb"/>
<circle cx="330.50" cy="119.70" r="1.70" fill="#0b24fb"/>
<circle cx="336.90" cy="133.80" r="1.70" fill="#0b24fb"/>
<circle cx="336.40" cy="139.00" r="1.70" fill="#0b24fb"/>
<circle cx="324.90" cy="135.10" r="1.70" fill="#0b24fb"/>
<circle cx="345.40" cy="142.30" r="1.70" fill="#0b24fb"/>
<circle cx="370.30" cy="141.00" r="1.70" fill="#0b24fb"/>
<circle cx="381.30" cy="133.80" r="1.70" fill="#0b24fb"/>
<circle cx="384.20" cy="98.80" r="1.70" fill="#0b24fb"/>
<circle cx="388.60" cy="104.70" r="1.70" fill="#0b24fb"/>
<circle cx="391.60" cy="89.00" r="1.70" fill="#0b24fb"/>
<circle cx="390.00" cy="92.90" r="1.70" fill="#0b24fb"/>
<circle cx="385.70" cy="112.00" r="1.70" fill="#0b24fb"/>
<circle cx="389.20" cy="113.50" r="1.70" fill="#0b24fb"/>
<circle cx="387.00" cy="120.00" r="1.70" fill="#0b24fb"/>
<circle cx="391.00" cy="124.00" r="1.70" fill="#0b24fb"/>
<circle cx="389.00" cy="128.00" r="1.70" fill="#0b24fb"/>
<circle cx="392.00" cy="131.00" r="1.70" fill="#0b24fb"/>
<circle cx="386.00" cy="134.00" r="1.70" fill="#0b24fb"/>
<circle cx="390.00" cy="136.50" r="1.70" fill="#0b24fb"/>
<circle cx="388.00" cy="139.00" r="1.70" fill="#0b24fb"/>
<circle cx="392.00" cy="140.00" r="1.70" fill="#0b24fb"/>
<circle cx="385.00" cy="142.00" r="1.70" fill="#0b24fb"/>
<circle cx="389.50" cy="143.00" r="1.70" fill="#0b24fb"/>
<circle cx="391.50" cy="144.00" r="1.70" fill="#0b24fb"/>
<circle cx="387.50" cy="145.00" r="1.70" fill="#0b24fb"/>
<circle cx="383.00" cy="138.00" r="1.70" fill="#0b24fb"/>
<circle cx="391.00" cy="117.00" r="1.70" fill="#0b24fb"/>
<circle cx="386.50" cy="127.00" r="1.70" fill="#0b24fb"/>
<circle cx="462.90" cy="44.20" r="1.70" fill="#fc0d1b"/>
<circle cx="465.30" cy="77.60" r="1.70" fill="#fc0d1b"/>
<circle cx="449.40" cy="91.40" r="1.70" fill="#fc0d1b"/>
<circle cx="418.10" cy="92.30" r="1.70" fill="#fc0d1b"/>
<circle cx="409.80" cy="95.80" r="1.70" fill="#fc0d1b"/>
<circle cx="406.30" cy="98.20" r="1.70" fill="#fc0d1b"/>
<circle cx="408.70" cy="102.60" r="1.70" fill="#fc0d1b"/>
<circle cx="412.20" cy="104.70" r="1.70" fill="#fc0d1b"/>
<circle cx="412.80" cy="104.60" r="1.70" fill="#fc0d1b"/>
<circle cx="409.50" cy="114.10" r="1.70" fill="#fc0d1b"/>
<circle cx="413.30" cy="114.10" r="1.70" fill="#fc0d1b"/>
<circle cx="410.30" cy="120.00" r="1.70" fill="#fc0d1b"/>
<circle cx="414.60" cy="120.00" r="1.70" fill="#fc0d1b"/>
<circle cx="428.20" cy="118.50" r="1.70" fill="#fc0d1b"/>
<circle cx="431.30" cy="125.10" r="1.70" fill="#fc0d1b"/>
<circle cx="439.00" cy="126.90" r="1.70" fill="#fc0d1b"/>
<circle cx="451.80" cy="125.60" r="1.70" fill="#fc0d1b"/>
<circle cx="458.20" cy="126.90" r="1.70" fill="#fc0d1b"/>
<circle cx="467.20" cy="124.90" r="1.70" fill="#fc0d1b"/>
<circle cx="460.80" cy="132.00" r="1.70" fill="#fc0d1b"/>
<circle cx="464.10" cy="139.20" r="1.70" fill="#fc0d1b"/>
<circle cx="460.80" cy="142.30" r="1.70" fill="#fc0d1b"/>
<circle cx="469.20" cy="144.10" r="1.70" fill="#fc0d1b"/>
<circle cx="450.50" cy="142.80" r="1.70" fill="#fc0d1b"/>
<circle cx="418.50" cy="144.10" r="1.70" fill="#fc0d1b"/>
<circle cx="412.00" cy="132.80" r="1.70" fill="#fc0d1b"/>
<circle cx="405.00" cy="128.00" r="1.70" fill="#fc0d1b"/>
<circle cx="407.00" cy="131.00" r="1.70" fill="#fc0d1b"/>
<circle cx="405.50" cy="134.00" r="1.70" fill="#fc0d1b"/>
<circle cx="408.00" cy="136.00" r="1.70" fill="#fc0d1b"/>
<circle cx="406.00" cy="139.00" r="1.70" fill="#fc0d1b"/>
<circle cx="409.00" cy="141.00" r="1.70" fill="#fc0d1b"/>
<circle cx="405.00" cy="143.50" r="1.70" fill="#fc0d1b"/>
<circle cx="407.50" cy="144.50" r="1.70" fill="#fc0d1b"/>
<circle cx="411.00" cy="138.00" r="1.70" fill="#fc0d1b"/>
<circle cx="406.50" cy="125.00" r="1.70" fill="#fc0d1b"/>
<text x="422.30" y="107.60" font-size="8.3" font-weight="bold" fill="#111" stroke="#111" stroke-width="0.16" textLength="26.20" lengthAdjust="spacingAndGlyphs">ACSL4</text>
<line x1="429.50" y1="110.50" x2="412.00" y2="127.30" stroke="#222" stroke-width="0.8"/>
<text x="351.30" y="135.80" font-size="8.3" font-weight="bold" fill="#111" stroke="#111" stroke-width="0.16" textLength="21.50" lengthAdjust="spacingAndGlyphs">GPX4</text>
<line x1="374.00" y1="138.50" x2="385.00" y2="136.70" stroke="#222" stroke-width="0.8"/>
<rect x="320.5" y="17.7" width="155.3" height="193.3" fill="none" stroke="#7a7a7a" stroke-width="0.9"/>
<line x1="318.20" y1="206.20" x2="320.50" y2="206.20" stroke="#7a7a7a" stroke-width="0.8"/>
<text x="316.80" y="208.90" font-size="7.9" text-anchor="end" fill="#262626" stroke="#262626" stroke-width="0.08">0.0</text>
<line x1="318.20" y1="182.65" x2="320.50" y2="182.65" stroke="#7a7a7a" stroke-width="0.8"/>
<text x="316.80" y="185.35" font-size="7.9" text-anchor="end" fill="#262626" stroke="#262626" stroke-width="0.08">0.5</text>
<line x1="318.20" y1="159.10" x2="320.50" y2="159.10" stroke="#7a7a7a" stroke-width="0.8"/>
<text x="316.80" y="161.80" font-size="7.9" text-anchor="end" fill="#262626" stroke="#262626" stroke-width="0.08">1.0</text>
<line x1="318.20" y1="135.55" x2="320.50" y2="135.55" stroke="#7a7a7a" stroke-width="0.8"/>
<text x="316.80" y="138.25" font-size="7.9" text-anchor="end" fill="#262626" stroke="#262626" stroke-width="0.08">1.5</text>
<line x1="318.20" y1="112.00" x2="320.50" y2="112.00" stroke="#7a7a7a" stroke-width="0.8"/>
<text x="316.80" y="114.70" font-size="7.9" text-anchor="end" fill="#262626" stroke="#262626" stroke-width="0.08">2.0</text>
<line x1="318.20" y1="88.45" x2="320.50" y2="88.45" stroke="#7a7a7a" stroke-width="0.8"/>
<text x="316.80" y="91.15" font-size="7.9" text-anchor="end" fill="#262626" stroke="#262626" stroke-width="0.08">2.5</text>
<line x1="318.20" y1="64.90" x2="320.50" y2="64.90" stroke="#7a7a7a" stroke-width="0.8"/>
<text x="316.80" y="67.60" font-size="7.9" text-anchor="end" fill="#262626" stroke="#262626" stroke-width="0.08">3.0</text>
<line x1="318.20" y1="41.35" x2="320.50" y2="41.35" stroke="#7a7a7a" stroke-width="0.8"/>
<text x="316.80" y="44.05" font-size="7.9" text-anchor="end" fill="#262626" stroke="#262626" stroke-width="0.08">3.5</text>
<line x1="318.20" y1="17.80" x2="320.50" y2="17.80" stroke="#7a7a7a" stroke-width="0.8"/>
<text x="316.80" y="20.50" font-size="7.9" text-anchor="end" fill="#262626" stroke="#262626" stroke-width="0.08">4.0</text>
<line x1="349.70" y1="211.00" x2="349.70" y2="213.20" stroke="#7a7a7a" stroke-width="0.8"/>
<text x="349.70" y="220.30" font-size="7.9" text-anchor="middle" fill="#262626" stroke="#262626" stroke-width="0.08">-10</text>
<line x1="398.20" y1="211.00" x2="398.20" y2="213.20" stroke="#7a7a7a" stroke-width="0.8"/>
<text x="398.20" y="220.30" font-size="7.9" text-anchor="middle" fill="#262626" stroke="#262626" stroke-width="0.08">0</text>
<line x1="446.70" y1="211.00" x2="446.70" y2="213.20" stroke="#7a7a7a" stroke-width="0.8"/>
<text x="446.70" y="220.30" font-size="7.9" text-anchor="middle" fill="#262626" stroke="#262626" stroke-width="0.08">10</text>
<text x="303" y="115.1" font-size="8" text-anchor="middle" fill="#262626" transform="rotate(-90 303 115.1)">-log<tspan font-size="6.2" dy="1.8">10</tspan><tspan dy="-1.8">(P value)</tspan></text>
<text x="398" y="228.6" font-size="8" text-anchor="middle" fill="#262626">log<tspan font-size="6.2" dy="1.8">2</tspan><tspan dy="-1.8">(Fold Change)</tspan></text>
<text x="398.00" y="237.60" font-size="7.9" text-anchor="middle" fill="#262626" stroke="#262626" stroke-width="0.08">IR vs. IR+BIBR1532</text>
<text x="16.60" y="237.20" font-size="19.6">C.</text>
<rect x="99.20" y="285.90" width="18.18" height="6.57" fill="#e68386"/>
<rect x="117.03" y="285.90" width="18.18" height="6.57" fill="#d21a20"/>
<rect x="134.86" y="285.90" width="18.18" height="6.57" fill="#fdf2f3"/>
<rect x="152.69" y="285.90" width="18.18" height="6.57" fill="#89a1d5"/>
<rect x="170.52" y="285.90" width="18.18" height="6.57" fill="#89a1d5"/>
<rect x="188.35" y="285.90" width="18.18" height="6.57" fill="#b8c6e5"/>
<rect x="99.20" y="292.12" width="18.18" height="6.57" fill="#eda5a7"/>
<rect x="117.03" y="292.12" width="18.18" height="6.57" fill="#ce080e"/>
<rect x="134.86" y="292.12" width="18.18" height="6.57" fill="#ffffff"/>
<rect x="152.69" y="292.12" width="18.18" height="6.57" fill="#89a1d5"/>
<rect x="170.52" y="292.12" width="18.18" height="6.57" fill="#b8c6e5"/>
<rect x="188.35" y="292.12" width="18.18" height="6.57" fill="#b8c6e5"/>
<rect x="99.20" y="298.33" width="18.18" height="6.57" fill="#eda5a7"/>
<rect x="117.03" y="298.33" width="18.18" height="6.57" fill="#ce080e"/>
<rect x="134.86" y="298.33" width="18.18" height="6.57" fill="#f4c5c7"/>
<rect x="152.69" y="298.33" width="18.18" height="6.57" fill="#7e99d1"/>
<rect x="170.52" y="298.33" width="18.18" height="6.57" fill="#d1daee"/>
<rect x="188.35" y="298.33" width="18.18" height="6.57" fill="#b8c6e5"/>
<rect x="99.20" y="304.55" width="18.18" height="6.57" fill="#f0b5b7"/>
<rect x="117.03" y="304.55" width="18.18" height="6.57" fill="#ce080e"/>
<rect x="134.86" y="304.55" width="18.18" height="6.57" fill="#fdf2f3"/>
<rect x="152.69" y="304.55" width="18.18" height="6.57" fill="#acbde1"/>
<rect x="170.52" y="304.55" width="18.18" height="6.57" fill="#acbde1"/>
<rect x="188.35" y="304.55" width="18.18" height="6.57" fill="#acbde1"/>
<rect x="99.20" y="310.76" width="18.18" height="6.57" fill="#e06165"/>
<rect x="117.03" y="310.76" width="18.18" height="6.57" fill="#d93e42"/>
<rect x="134.86" y="310.76" width="18.18" height="6.57" fill="#eda5a7"/>
<rect x="152.69" y="310.76" width="18.18" height="6.57" fill="#89a1d5"/>
<rect x="170.52" y="310.76" width="18.18" height="6.57" fill="#a0b3dd"/>
<rect x="188.35" y="310.76" width="18.18" height="6.57" fill="#acbde1"/>
<rect x="99.20" y="316.98" width="18.18" height="6.57" fill="#e68386"/>
<rect x="117.03" y="316.98" width="18.18" height="6.57" fill="#ce080e"/>
<rect x="134.86" y="316.98" width="18.18" height="6.57" fill="#b8c6e5"/>
<rect x="152.69" y="316.98" width="18.18" height="6.57" fill="#edf1f8"/>
<rect x="170.52" y="316.98" width="18.18" height="6.57" fill="#a0b3dd"/>
<rect x="188.35" y="316.98" width="18.18" height="6.57" fill="#b8c6e5"/>
<rect x="99.20" y="323.20" width="18.18" height="6.57" fill="#ce080e"/>
<rect x="117.03" y="323.20" width="18.18" height="6.57" fill="#eda5a7"/>
<rect x="134.86" y="323.20" width="18.18" height="6.57" fill="#fdf2f3"/>
<rect x="152.69" y="323.20" width="18.18" height="6.57" fill="#95aad9"/>
<rect x="170.52" y="323.20" width="18.18" height="6.57" fill="#acbde1"/>
<rect x="188.35" y="323.20" width="18.18" height="6.57" fill="#b8c6e5"/>
<rect x="99.20" y="329.41" width="18.18" height="6.57" fill="#e06165"/>
<rect x="117.03" y="329.41" width="18.18" height="6.57" fill="#eda5a7"/>
<rect x="134.86" y="329.41" width="18.18" height="6.57" fill="#e06165"/>
<rect x="152.69" y="329.41" width="18.18" height="6.57" fill="#95aad9"/>
<rect x="170.52" y="329.41" width="18.18" height="6.57" fill="#acbde1"/>
<rect x="188.35" y="329.41" width="18.18" height="6.57" fill="#89a1d5"/>
<rect x="99.20" y="335.63" width="18.18" height="6.57" fill="#e06165"/>
<rect x="117.03" y="335.63" width="18.18" height="6.57" fill="#eda5a7"/>
<rect x="134.86" y="335.63" width="18.18" height="6.57" fill="#e06165"/>
<rect x="152.69" y="335.63" width="18.18" height="6.57" fill="#95aad9"/>
<rect x="170.52" y="335.63" width="18.18" height="6.57" fill="#acbde1"/>
<rect x="188.35" y="335.63" width="18.18" height="6.57" fill="#89a1d5"/>
<rect x="99.20" y="341.84" width="18.18" height="6.57" fill="#e68386"/>
<rect x="117.03" y="341.84" width="18.18" height="6.57" fill="#eda5a7"/>
<rect x="134.86" y="341.84" width="18.18" height="6.57" fill="#d93e42"/>
<rect x="152.69" y="341.84" width="18.18" height="6.57" fill="#95aad9"/>
<rect x="170.52" y="341.84" width="18.18" height="6.57" fill="#b8c6e5"/>
<rect x="188.35" y="341.84" width="18.18" height="6.57" fill="#89a1d5"/>
<rect x="99.20" y="348.06" width="18.18" height="6.57" fill="#f0b5b7"/>
<rect x="117.03" y="348.06" width="18.18" height="6.57" fill="#ea9497"/>
<rect x="134.86" y="348.06" width="18.18" height="6.57" fill="#d52c31"/>
<rect x="152.69" y="348.06" width="18.18" height="6.57" fill="#a0b3dd"/>
<rect x="170.52" y="348.06" width="18.18" height="6.57" fill="#a0b3dd"/>
<rect x="188.35" y="348.06" width="18.18" height="6.57" fill="#acbde1"/>
<rect x="99.20" y="354.28" width="18.18" height="6.57" fill="#f0b5b7"/>
<rect x="117.03" y="354.28" width="18.18" height="6.57" fill="#ea9497"/>
<rect x="134.86" y="354.28" width="18.18" height="6.57" fill="#d21a20"/>
<rect x="152.69" y="354.28" width="18.18" height="6.57" fill="#a0b3dd"/>
<rect x="170.52" y="354.28" width="18.18" height="6.57" fill="#a0b3dd"/>
<rect x="188.35" y="354.28" width="18.18" height="6.57" fill="#acbde1"/>
<rect x="99.20" y="360.49" width="18.18" height="6.57" fill="#ffffff"/>
<rect x="117.03" y="360.49" width="18.18" height="6.57" fill="#e68386"/>
<rect x="134.86" y="360.49" width="18.18" height="6.57" fill="#d21a20"/>
<rect x="152.69" y="360.49" width="18.18" height="6.57" fill="#acbde1"/>
<rect x="170.52" y="360.49" width="18.18" height="6.57" fill="#a0b3dd"/>
<rect x="188.35" y="360.49" width="18.18" height="6.57" fill="#acbde1"/>
<rect x="99.20" y="366.71" width="18.18" height="6.57" fill="#d21a20"/>
<rect x="117.03" y="366.71" width="18.18" height="6.57" fill="#fdf2f3"/>
<rect x="134.86" y="366.71" width="18.18" height="6.57" fill="#7e99d1"/>
<rect x="152.69" y="366.71" width="18.18" height="6.57" fill="#d1daee"/>
<rect x="170.52" y="366.71" width="18.18" height="6.57" fill="#b8c6e5"/>
<rect x="188.35" y="366.71" width="18.18" height="6.57" fill="#e68386"/>
<rect x="99.20" y="372.92" width="18.18" height="6.57" fill="#f4c5c7"/>
<rect x="117.03" y="372.92" width="18.18" height="6.57" fill="#eda5a7"/>
<rect x="134.86" y="372.92" width="18.18" height="6.57" fill="#7390cd"/>
<rect x="152.69" y="372.92" width="18.18" height="6.57" fill="#d1daee"/>
<rect x="170.52" y="372.92" width="18.18" height="6.57" fill="#c4d0ea"/>
<rect x="188.35" y="372.92" width="18.18" height="6.57" fill="#ce080e"/>
<rect x="99.20" y="379.14" width="18.18" height="6.57" fill="#f4c5c7"/>
<rect x="117.03" y="379.14" width="18.18" height="6.57" fill="#ea9497"/>
<rect x="134.86" y="379.14" width="18.18" height="6.57" fill="#7390cd"/>
<rect x="152.69" y="379.14" width="18.18" height="6.57" fill="#fdf2f3"/>
<rect x="170.52" y="379.14" width="18.18" height="6.57" fill="#95aad9"/>
<rect x="188.35" y="379.14" width="18.18" height="6.57" fill="#dc4f54"/>
<rect x="99.20" y="385.36" width="18.18" height="6.57" fill="#f4c5c7"/>
<rect x="117.03" y="385.36" width="18.18" height="6.57" fill="#ce080e"/>
<rect x="134.86" y="385.36" width="18.18" height="6.57" fill="#7390cd"/>
<rect x="152.69" y="385.36" width="18.18" height="6.57" fill="#fae4e5"/>
<rect x="170.52" y="385.36" width="18.18" height="6.57" fill="#b8c6e5"/>
<rect x="188.35" y="385.36" width="18.18" height="6.57" fill="#dee5f3"/>
<rect x="99.20" y="391.57" width="18.18" height="6.57" fill="#f4c5c7"/>
<rect x="117.03" y="391.57" width="18.18" height="6.57" fill="#d52c31"/>
<rect x="134.86" y="391.57" width="18.18" height="6.57" fill="#5e7fc5"/>
<rect x="152.69" y="391.57" width="18.18" height="6.57" fill="#ffffff"/>
<rect x="170.52" y="391.57" width="18.18" height="6.57" fill="#d1daee"/>
<rect x="188.35" y="391.57" width="18.18" height="6.57" fill="#fae4e5"/>
<rect x="99.20" y="397.79" width="18.18" height="6.57" fill="#dc4f54"/>
<rect x="117.03" y="397.79" width="18.18" height="6.57" fill="#eda5a7"/>
<rect x="134.86" y="397.79" width="18.18" height="6.57" fill="#5e7fc5"/>
<rect x="152.69" y="397.79" width="18.18" height="6.57" fill="#f4c5c7"/>
<rect x="170.52" y="397.79" width="18.18" height="6.57" fill="#c4d0ea"/>
<rect x="188.35" y="397.79" width="18.18" height="6.57" fill="#ffffff"/>
<rect x="99.20" y="404.00" width="18.18" height="6.57" fill="#dee5f3"/>
<rect x="117.03" y="404.00" width="18.18" height="6.57" fill="#e37276"/>
<rect x="134.86" y="404.00" width="18.18" height="6.57" fill="#5e7fc5"/>
<rect x="152.69" y="404.00" width="18.18" height="6.57" fill="#f4c5c7"/>
<rect x="170.52" y="404.00" width="18.18" height="6.57" fill="#ffffff"/>
<rect x="188.35" y="404.00" width="18.18" height="6.57" fill="#eda5a7"/>
<rect x="99.20" y="410.22" width="18.18" height="6.57" fill="#ce080e"/>
<rect x="117.03" y="410.22" width="18.18" height="6.57" fill="#acbde1"/>
<rect x="134.86" y="410.22" width="18.18" height="6.57" fill="#acbde1"/>
<rect x="152.69" y="410.22" width="18.18" height="6.57" fill="#ffffff"/>
<rect x="170.52" y="410.22" width="18.18" height="6.57" fill="#edf1f8"/>
<rect x="188.35" y="410.22" width="18.18" height="6.57" fill="#fbebec"/>
<rect x="99.20" y="416.44" width="18.18" height="6.57" fill="#d93e42"/>
<rect x="117.03" y="416.44" width="18.18" height="6.57" fill="#b8c6e5"/>
<rect x="134.86" y="416.44" width="18.18" height="6.57" fill="#95aad9"/>
<rect x="152.69" y="416.44" width="18.18" height="6.57" fill="#d93e42"/>
<rect x="170.52" y="416.44" width="18.18" height="6.57" fill="#ffffff"/>
<rect x="188.35" y="416.44" width="18.18" height="6.57" fill="#e5ebf6"/>
<rect x="99.20" y="422.65" width="18.18" height="6.57" fill="#fef9f9"/>
<rect x="117.03" y="422.65" width="18.18" height="6.57" fill="#d7e0f1"/>
<rect x="134.86" y="422.65" width="18.18" height="6.57" fill="#95aad9"/>
<rect x="152.69" y="422.65" width="18.18" height="6.57" fill="#ce080e"/>
<rect x="170.52" y="422.65" width="18.18" height="6.57" fill="#ffffff"/>
<rect x="188.35" y="422.65" width="18.18" height="6.57" fill="#cad5ec"/>
<rect x="99.20" y="428.87" width="18.18" height="6.57" fill="#89a1d5"/>
<rect x="117.03" y="428.87" width="18.18" height="6.57" fill="#dc4f54"/>
<rect x="134.86" y="428.87" width="18.18" height="6.57" fill="#c4d0ea"/>
<rect x="152.69" y="428.87" width="18.18" height="6.57" fill="#dee5f3"/>
<rect x="170.52" y="428.87" width="18.18" height="6.57" fill="#d21a20"/>
<rect x="188.35" y="428.87" width="18.18" height="6.57" fill="#c4d0ea"/>
<rect x="99.20" y="435.08" width="18.18" height="6.57" fill="#c4d0ea"/>
<rect x="117.03" y="435.08" width="18.18" height="6.57" fill="#7e99d1"/>
<rect x="134.86" y="435.08" width="18.18" height="6.57" fill="#b8c6e5"/>
<rect x="152.69" y="435.08" width="18.18" height="6.57" fill="#ea9497"/>
<rect x="170.52" y="435.08" width="18.18" height="6.57" fill="#dc4f54"/>
<rect x="188.35" y="435.08" width="18.18" height="6.57" fill="#e68386"/>
<rect x="99.20" y="441.30" width="18.18" height="6.57" fill="#c4d0ea"/>
<rect x="117.03" y="441.30" width="18.18" height="6.57" fill="#acbde1"/>
<rect x="134.86" y="441.30" width="18.18" height="6.57" fill="#b8c6e5"/>
<rect x="152.69" y="441.30" width="18.18" height="6.57" fill="#f4c5c7"/>
<rect x="170.52" y="441.30" width="18.18" height="6.57" fill="#ce080e"/>
<rect x="188.35" y="441.30" width="18.18" height="6.57" fill="#e5ebf6"/>
<rect x="99.20" y="447.52" width="18.18" height="6.57" fill="#a0b3dd"/>
<rect x="117.03" y="447.52" width="18.18" height="6.57" fill="#a0b3dd"/>
<rect x="134.86" y="447.52" width="18.18" height="6.57" fill="#b8c6e5"/>
<rect x="152.69" y="447.52" width="18.18" height="6.57" fill="#ea9497"/>
<rect x="170.52" y="447.52" width="18.18" height="6.57" fill="#ce080e"/>
<rect x="188.35" y="447.52" width="18.18" height="6.57" fill="#f8dddd"/>
<rect x="99.20" y="453.73" width="18.18" height="6.57" fill="#c4d0ea"/>
<rect x="117.03" y="453.73" width="18.18" height="6.57" fill="#b8c6e5"/>
<rect x="134.86" y="453.73" width="18.18" height="6.57" fill="#b8c6e5"/>
<rect x="152.69" y="453.73" width="18.18" height="6.57" fill="#b8c6e5"/>
<rect x="170.52" y="453.73" width="18.18" height="6.57" fill="#dc4f54"/>
<rect x="188.35" y="453.73" width="18.18" height="6.57" fill="#d52c31"/>
<rect x="99.20" y="459.95" width="18.18" height="6.57" fill="#acbde1"/>
<rect x="117.03" y="459.95" width="18.18" height="6.57" fill="#becbe8"/>
<rect x="134.86" y="459.95" width="18.18" height="6.57" fill="#95aad9"/>
<rect x="152.69" y="459.95" width="18.18" height="6.57" fill="#edf1f8"/>
<rect x="170.52" y="459.95" width="18.18" height="6.57" fill="#ce080e"/>
<rect x="188.35" y="459.95" width="18.18" height="6.57" fill="#e68386"/>
<rect x="99.20" y="466.16" width="18.18" height="6.57" fill="#acbde1"/>
<rect x="117.03" y="466.16" width="18.18" height="6.57" fill="#becbe8"/>
<rect x="134.86" y="466.16" width="18.18" height="6.57" fill="#a0b3dd"/>
<rect x="152.69" y="466.16" width="18.18" height="6.57" fill="#fef9f9"/>
<rect x="170.52" y="466.16" width="18.18" height="6.57" fill="#ce080e"/>
<rect x="188.35" y="466.16" width="18.18" height="6.57" fill="#f7d5d6"/>
<rect x="99.20" y="472.38" width="18.18" height="6.57" fill="#acbde1"/>
<rect x="117.03" y="472.38" width="18.18" height="6.57" fill="#b2c1e3"/>
<rect x="134.86" y="472.38" width="18.18" height="6.57" fill="#acbde1"/>
<rect x="152.69" y="472.38" width="18.18" height="6.57" fill="#f8dddd"/>
<rect x="170.52" y="472.38" width="18.18" height="6.57" fill="#ce080e"/>
<rect x="188.35" y="472.38" width="18.18" height="6.57" fill="#eda5a7"/>
<rect x="99.20" y="478.60" width="18.18" height="6.57" fill="#95aad9"/>
<rect x="117.03" y="478.60" width="18.18" height="6.57" fill="#edf1f8"/>
<rect x="134.86" y="478.60" width="18.18" height="6.57" fill="#e37276"/>
<rect x="152.69" y="478.60" width="18.18" height="6.57" fill="#d21a20"/>
<rect x="170.52" y="478.60" width="18.18" height="6.57" fill="#dee5f3"/>
<rect x="188.35" y="478.60" width="18.18" height="6.57" fill="#acbde1"/>
<rect x="99.20" y="484.81" width="18.18" height="6.57" fill="#acbde1"/>
<rect x="117.03" y="484.81" width="18.18" height="6.57" fill="#9aafdb"/>
<rect x="134.86" y="484.81" width="18.18" height="6.57" fill="#eda5a7"/>
<rect x="152.69" y="484.81" width="18.18" height="6.57" fill="#d93e42"/>
<rect x="170.52" y="484.81" width="18.18" height="6.57" fill="#a0b3dd"/>
<rect x="188.35" y="484.81" width="18.18" height="6.57" fill="#e06165"/>
<rect x="99.20" y="491.03" width="18.18" height="6.57" fill="#d7e0f1"/>
<rect x="117.03" y="491.03" width="18.18" height="6.57" fill="#9aafdb"/>
<rect x="134.86" y="491.03" width="18.18" height="6.57" fill="#ffffff"/>
<rect x="152.69" y="491.03" width="18.18" height="6.57" fill="#dc4f54"/>
<rect x="170.52" y="491.03" width="18.18" height="6.57" fill="#95aad9"/>
<rect x="188.35" y="491.03" width="18.18" height="6.57" fill="#d52c31"/>
<rect x="99.20" y="497.24" width="18.18" height="6.57" fill="#ffffff"/>
<rect x="117.03" y="497.24" width="18.18" height="6.57" fill="#95aad9"/>
<rect x="134.86" y="497.24" width="18.18" height="6.57" fill="#c4d0ea"/>
<rect x="152.69" y="497.24" width="18.18" height="6.57" fill="#dc4f54"/>
<rect x="170.52" y="497.24" width="18.18" height="6.57" fill="#c4d0ea"/>
<rect x="188.35" y="497.24" width="18.18" height="6.57" fill="#d93e42"/>
<rect x="99.20" y="503.46" width="18.18" height="6.57" fill="#dee5f3"/>
<rect x="117.03" y="503.46" width="18.18" height="6.57" fill="#95aad9"/>
<rect x="134.86" y="503.46" width="18.18" height="6.57" fill="#becbe8"/>
<rect x="152.69" y="503.46" width="18.18" height="6.57" fill="#d93e42"/>
<rect x="170.52" y="503.46" width="18.18" height="6.57" fill="#f5f7fb"/>
<rect x="188.35" y="503.46" width="18.18" height="6.57" fill="#dc4f54"/>
<rect x="99.20" y="509.68" width="18.18" height="6.57" fill="#acbde1"/>
<rect x="117.03" y="509.68" width="18.18" height="6.57" fill="#a0b3dd"/>
<rect x="134.86" y="509.68" width="18.18" height="6.57" fill="#f5f7fb"/>
<rect x="152.69" y="509.68" width="18.18" height="6.57" fill="#d21a20"/>
<rect x="170.52" y="509.68" width="18.18" height="6.57" fill="#dee5f3"/>
<rect x="188.35" y="509.68" width="18.18" height="6.57" fill="#ea9497"/>
<rect x="99.20" y="515.89" width="18.18" height="6.57" fill="#acbde1"/>
<rect x="117.03" y="515.89" width="18.18" height="6.57" fill="#acbde1"/>
<rect x="134.86" y="515.89" width="18.18" height="6.57" fill="#edf1f8"/>
<rect x="152.69" y="515.89" width="18.18" height="6.57" fill="#ce080e"/>
<rect x="170.52" y="515.89" width="18.18" height="6.57" fill="#dee5f3"/>
<rect x="188.35" y="515.89" width="18.18" height="6.57" fill="#f7d5d6"/>
<rect x="99.20" y="522.11" width="18.18" height="6.57" fill="#acbde1"/>
<rect x="117.03" y="522.11" width="18.18" height="6.57" fill="#acbde1"/>
<rect x="134.86" y="522.11" width="18.18" height="6.57" fill="#d1daee"/>
<rect x="152.69" y="522.11" width="18.18" height="6.57" fill="#ce080e"/>
<rect x="170.52" y="522.11" width="18.18" height="6.57" fill="#edf1f8"/>
<rect x="188.35" y="522.11" width="18.18" height="6.57" fill="#f7d5d6"/>
<rect x="99.20" y="528.32" width="18.18" height="6.57" fill="#acbde1"/>
<rect x="117.03" y="528.32" width="18.18" height="6.57" fill="#e37276"/>
<rect x="134.86" y="528.32" width="18.18" height="6.57" fill="#9aafdb"/>
<rect x="152.69" y="528.32" width="18.18" height="6.57" fill="#d93e42"/>
<rect x="170.52" y="528.32" width="18.18" height="6.57" fill="#fdf2f3"/>
<rect x="188.35" y="528.32" width="18.18" height="6.57" fill="#cad5ec"/>
<rect x="99.20" y="534.54" width="18.18" height="6.57" fill="#95aad9"/>
<rect x="117.03" y="534.54" width="18.18" height="6.57" fill="#f5f7fb"/>
<rect x="134.86" y="534.54" width="18.18" height="6.57" fill="#95aad9"/>
<rect x="152.69" y="534.54" width="18.18" height="6.57" fill="#ea9497"/>
<rect x="170.52" y="534.54" width="18.18" height="6.57" fill="#e37276"/>
<rect x="188.35" y="534.54" width="18.18" height="6.57" fill="#e88c8f"/>
<rect x="99.20" y="540.76" width="18.18" height="6.57" fill="#acbde1"/>
<rect x="117.03" y="540.76" width="18.18" height="6.57" fill="#c4d0ea"/>
<rect x="134.86" y="540.76" width="18.18" height="6.57" fill="#b2c1e3"/>
<rect x="152.69" y="540.76" width="18.18" height="6.57" fill="#d21a20"/>
<rect x="170.52" y="540.76" width="18.18" height="6.57" fill="#ea9497"/>
<rect x="188.35" y="540.76" width="18.18" height="6.57" fill="#f5cdce"/>
<rect x="99.20" y="546.97" width="18.18" height="6.57" fill="#acbde1"/>
<rect x="117.03" y="546.97" width="18.18" height="6.57" fill="#dee5f3"/>
<rect x="134.86" y="546.97" width="18.18" height="6.57" fill="#9aafdb"/>
<rect x="152.69" y="546.97" width="18.18" height="6.57" fill="#d32328"/>
<rect x="170.52" y="546.97" width="18.18" height="6.57" fill="#f7d5d6"/>
<rect x="188.35" y="546.97" width="18.18" height="6.57" fill="#ea9497"/>
<rect x="99.20" y="553.19" width="18.18" height="6.57" fill="#acbde1"/>
<rect x="117.03" y="553.19" width="18.18" height="6.57" fill="#cad5ec"/>
<rect x="134.86" y="553.19" width="18.18" height="6.57" fill="#a0b3dd"/>
<rect x="152.69" y="553.19" width="18.18" height="6.57" fill="#d7353a"/>
<rect x="170.52" y="553.19" width="18.18" height="6.57" fill="#f7d5d6"/>
<rect x="188.35" y="553.19" width="18.18" height="6.57" fill="#e57b7e"/>
<rect x="99.20" y="559.40" width="18.18" height="6.57" fill="#6988c9"/>
<rect x="117.03" y="559.40" width="18.18" height="6.57" fill="#edf1f8"/>
<rect x="134.86" y="559.40" width="18.18" height="6.57" fill="#dee5f3"/>
<rect x="152.69" y="559.40" width="18.18" height="6.57" fill="#dc4f54"/>
<rect x="170.52" y="559.40" width="18.18" height="6.57" fill="#ffffff"/>
<rect x="188.35" y="559.40" width="18.18" height="6.57" fill="#e57b7e"/>
<rect x="99.20" y="565.62" width="18.18" height="6.57" fill="#acbde1"/>
<rect x="117.03" y="565.62" width="18.18" height="6.57" fill="#f5f7fb"/>
<rect x="134.86" y="565.62" width="18.18" height="6.57" fill="#95aad9"/>
<rect x="152.69" y="565.62" width="18.18" height="6.57" fill="#d32328"/>
<rect x="170.52" y="565.62" width="18.18" height="6.57" fill="#f5f7fb"/>
<rect x="188.35" y="565.62" width="18.18" height="6.57" fill="#efadaf"/>
<rect x="99.20" y="571.84" width="18.18" height="6.57" fill="#9aafdb"/>
<rect x="117.03" y="571.84" width="18.18" height="6.57" fill="#edf1f8"/>
<rect x="134.86" y="571.84" width="18.18" height="6.57" fill="#b8c6e5"/>
<rect x="152.69" y="571.84" width="18.18" height="6.57" fill="#ce080e"/>
<rect x="170.52" y="571.84" width="18.18" height="6.57" fill="#f7d5d6"/>
<rect x="188.35" y="571.84" width="18.18" height="6.57" fill="#ffffff"/>
<rect x="99.20" y="578.05" width="18.18" height="6.57" fill="#acbde1"/>
<rect x="117.03" y="578.05" width="18.18" height="6.57" fill="#c4d0ea"/>
<rect x="134.86" y="578.05" width="18.18" height="6.57" fill="#b2c1e3"/>
<rect x="152.69" y="578.05" width="18.18" height="6.57" fill="#ce080e"/>
<rect x="170.52" y="578.05" width="18.18" height="6.57" fill="#f7d5d6"/>
<rect x="188.35" y="578.05" width="18.18" height="6.57" fill="#f7d5d6"/>
<rect x="99.20" y="584.27" width="18.18" height="6.57" fill="#b8c6e5"/>
<rect x="117.03" y="584.27" width="18.18" height="6.57" fill="#b8c6e5"/>
<rect x="134.86" y="584.27" width="18.18" height="6.57" fill="#b8c6e5"/>
<rect x="152.69" y="584.27" width="18.18" height="6.57" fill="#ce080e"/>
<rect x="170.52" y="584.27" width="18.18" height="6.57" fill="#ffffff"/>
<rect x="188.35" y="584.27" width="18.18" height="6.57" fill="#f7d5d6"/>
<rect x="99.20" y="590.48" width="18.18" height="6.57" fill="#b8c6e5"/>
<rect x="117.03" y="590.48" width="18.18" height="6.57" fill="#b8c6e5"/>
<rect x="134.86" y="590.48" width="18.18" height="6.57" fill="#b8c6e5"/>
<rect x="152.69" y="590.48" width="18.18" height="6.57" fill="#ce080e"/>
<rect x="170.52" y="590.48" width="18.18" height="6.57" fill="#fef9f9"/>
<rect x="188.35" y="590.48" width="18.18" height="6.57" fill="#f7d5d6"/>
<text x="207.80" y="291.46" font-size="7.0" fill="#111" stroke="#111" stroke-width="0.08" textLength="15.01" lengthAdjust="spacingAndGlyphs">Rgs5</text>
<text x="207.80" y="297.67" font-size="7.0" fill="#111" stroke="#111" stroke-width="0.08" textLength="12.98" lengthAdjust="spacingAndGlyphs">Bmf</text>
<text x="207.80" y="303.89" font-size="7.0" fill="#111" stroke="#111" stroke-width="0.08" textLength="15.00" lengthAdjust="spacingAndGlyphs">Itgax</text>
<text x="207.80" y="310.11" font-size="7.0" fill="#111" stroke="#111" stroke-width="0.08" textLength="22.30" lengthAdjust="spacingAndGlyphs">Sparcl1</text>
<text x="207.80" y="316.32" font-size="7.0" fill="#111" stroke="#111" stroke-width="0.08" textLength="15.82" lengthAdjust="spacingAndGlyphs">Mgl2</text>
<text x="207.80" y="322.54" font-size="7.0" fill="#111" stroke="#111" stroke-width="0.08" textLength="21.09" lengthAdjust="spacingAndGlyphs">Col6a1</text>
<text x="207.80" y="328.75" font-size="7.0" fill="#111" stroke="#111" stroke-width="0.08" textLength="13.79" lengthAdjust="spacingAndGlyphs">Lum</text>
<text x="207.80" y="334.97" font-size="7.0" fill="#111" stroke="#111" stroke-width="0.08" textLength="16.22" lengthAdjust="spacingAndGlyphs">Gpx4</text>
<text x="207.80" y="341.19" font-size="7.0" fill="#111" stroke="#111" stroke-width="0.08" textLength="26.64" lengthAdjust="spacingAndGlyphs">Trp53i11</text>
<text x="207.80" y="347.40" font-size="7.0" fill="#111" stroke="#111" stroke-width="0.08" textLength="15.41" lengthAdjust="spacingAndGlyphs">Chga</text>
<text x="207.80" y="353.62" font-size="7.0" fill="#111" stroke="#111" stroke-width="0.08" textLength="23.25" lengthAdjust="spacingAndGlyphs">Slc7a11</text>
<text x="207.80" y="359.83" font-size="7.0" fill="#111" stroke="#111" stroke-width="0.08" textLength="17.85" lengthAdjust="spacingAndGlyphs">Cldn5</text>
<text x="207.80" y="366.05" font-size="7.0" fill="#111" stroke="#111" stroke-width="0.08" textLength="19.05" lengthAdjust="spacingAndGlyphs">Ncoa4</text>
<text x="207.80" y="372.27" font-size="7.0" fill="#111" stroke="#111" stroke-width="0.08" textLength="15.82" lengthAdjust="spacingAndGlyphs">Cd86</text>
<text x="207.80" y="378.48" font-size="7.0" fill="#111" stroke="#111" stroke-width="0.08" textLength="11.77" lengthAdjust="spacingAndGlyphs">Pil6</text>
<text x="207.80" y="384.70" font-size="7.0" fill="#111" stroke="#111" stroke-width="0.08" textLength="21.49" lengthAdjust="spacingAndGlyphs">Il12rb1</text>
<text x="207.80" y="390.91" font-size="7.0" fill="#111" stroke="#111" stroke-width="0.08" textLength="15.82" lengthAdjust="spacingAndGlyphs">Cd69</text>
<text x="207.80" y="397.13" font-size="7.0" fill="#111" stroke="#111" stroke-width="0.08" textLength="17.44" lengthAdjust="spacingAndGlyphs">Cxcl9</text>
<text x="207.80" y="403.35" font-size="7.0" fill="#111" stroke="#111" stroke-width="0.08" textLength="17.84" lengthAdjust="spacingAndGlyphs">Il18r1</text>
<text x="207.80" y="409.56" font-size="7.0" fill="#111" stroke="#111" stroke-width="0.08" textLength="15.82" lengthAdjust="spacingAndGlyphs">Cd80</text>
<text x="207.80" y="415.78" font-size="7.0" fill="#111" stroke="#111" stroke-width="0.08" textLength="15.81" lengthAdjust="spacingAndGlyphs">Ifnb1</text>
<text x="207.80" y="421.99" font-size="7.0" fill="#111" stroke="#111" stroke-width="0.08" textLength="12.16" lengthAdjust="spacingAndGlyphs">Ifng</text>
<text x="207.80" y="428.21" font-size="7.0" fill="#111" stroke="#111" stroke-width="0.08" textLength="11.76" lengthAdjust="spacingAndGlyphs">Il24</text>
<text x="207.80" y="434.43" font-size="7.0" fill="#111" stroke="#111" stroke-width="0.08" textLength="17.44" lengthAdjust="spacingAndGlyphs">Cxcl5</text>
<text x="207.80" y="440.64" font-size="7.0" fill="#111" stroke="#111" stroke-width="0.08" textLength="16.23" lengthAdjust="spacingAndGlyphs">Ptgs2</text>
<text x="207.80" y="446.86" font-size="7.0" fill="#111" stroke="#111" stroke-width="0.08" textLength="21.09" lengthAdjust="spacingAndGlyphs">Cxcl10</text>
<text x="207.80" y="453.07" font-size="7.0" fill="#111" stroke="#111" stroke-width="0.08" textLength="17.44" lengthAdjust="spacingAndGlyphs">Cxcl2</text>
<text x="207.80" y="459.29" font-size="7.0" fill="#111" stroke="#111" stroke-width="0.08" textLength="13.79" lengthAdjust="spacingAndGlyphs">Csf3</text>
<text x="207.80" y="465.51" font-size="7.0" fill="#111" stroke="#111" stroke-width="0.08" textLength="17.84" lengthAdjust="spacingAndGlyphs">Cxcr2</text>
<text x="207.80" y="471.72" font-size="7.0" fill="#111" stroke="#111" stroke-width="0.08" textLength="17.03" lengthAdjust="spacingAndGlyphs">Acsl1</text>
<text x="207.80" y="477.94" font-size="7.0" fill="#111" stroke="#111" stroke-width="0.08" textLength="21.90" lengthAdjust="spacingAndGlyphs">Hmox1</text>
<text x="207.80" y="484.15" font-size="7.0" fill="#111" stroke="#111" stroke-width="0.08" textLength="13.79" lengthAdjust="spacingAndGlyphs">Mx2</text>
<text x="207.80" y="490.37" font-size="7.0" fill="#111" stroke="#111" stroke-width="0.08" textLength="14.19" lengthAdjust="spacingAndGlyphs">Saa3</text>
<text x="207.80" y="496.59" font-size="7.0" fill="#111" stroke="#111" stroke-width="0.08" textLength="21.09" lengthAdjust="spacingAndGlyphs">Cxcl13</text>
<text x="207.80" y="502.80" font-size="7.0" fill="#111" stroke="#111" stroke-width="0.08" textLength="21.09" lengthAdjust="spacingAndGlyphs">Cxcl12</text>
<text x="207.80" y="509.02" font-size="7.0" fill="#111" stroke="#111" stroke-width="0.08" textLength="17.03" lengthAdjust="spacingAndGlyphs">Acsl4</text>
<text x="207.80" y="515.23" font-size="7.0" fill="#111" stroke="#111" stroke-width="0.08" textLength="25.28" lengthAdjust="spacingAndGlyphs">Apol11b</text>
<text x="207.80" y="521.45" font-size="7.0" fill="#111" stroke="#111" stroke-width="0.08" textLength="14.87" lengthAdjust="spacingAndGlyphs">Arg1</text>
<text x="207.80" y="527.67" font-size="7.0" fill="#111" stroke="#111" stroke-width="0.08" textLength="29.20" lengthAdjust="spacingAndGlyphs">Gm20547</text>
<text x="207.80" y="533.88" font-size="7.0" fill="#111" stroke="#111" stroke-width="0.08" textLength="18.65" lengthAdjust="spacingAndGlyphs">Chac1</text>
<text x="207.80" y="540.10" font-size="7.0" fill="#111" stroke="#111" stroke-width="0.08" textLength="17.44" lengthAdjust="spacingAndGlyphs">Cxcl1</text>
<text x="207.80" y="546.31" font-size="7.0" fill="#111" stroke="#111" stroke-width="0.08" textLength="17.03" lengthAdjust="spacingAndGlyphs">Acsl1</text>
<text x="207.80" y="552.53" font-size="7.0" fill="#111" stroke="#111" stroke-width="0.08" textLength="17.84" lengthAdjust="spacingAndGlyphs">Gzmb</text>
<text x="207.80" y="558.75" font-size="7.0" fill="#111" stroke="#111" stroke-width="0.08" textLength="19.05" lengthAdjust="spacingAndGlyphs">Marco</text>
<text x="207.80" y="564.96" font-size="7.0" fill="#111" stroke="#111" stroke-width="0.08" textLength="15.01" lengthAdjust="spacingAndGlyphs">Ppbp</text>
<text x="207.80" y="571.18" font-size="7.0" fill="#111" stroke="#111" stroke-width="0.08" textLength="20.82" lengthAdjust="spacingAndGlyphs">Cxcl11</text>
<text x="207.80" y="577.39" font-size="7.0" fill="#111" stroke="#111" stroke-width="0.08" textLength="9.06" lengthAdjust="spacingAndGlyphs">Trf</text>
<text x="207.80" y="583.61" font-size="7.0" fill="#111" stroke="#111" stroke-width="0.08" textLength="18.25" lengthAdjust="spacingAndGlyphs">Thbs1</text>
<text x="207.80" y="589.83" font-size="7.0" fill="#111" stroke="#111" stroke-width="0.08" textLength="17.44" lengthAdjust="spacingAndGlyphs">Cxcl3</text>
<text x="207.80" y="596.04" font-size="7.0" fill="#111" stroke="#111" stroke-width="0.08" textLength="19.46" lengthAdjust="spacingAndGlyphs">Acod1</text>
<rect x="99.20" y="277.00" width="53.49" height="7.60" fill="#1fcfd6"/>
<rect x="152.69" y="277.00" width="53.49" height="7.60" fill="#f8877f"/>
<text x="207.80" y="283.30" font-size="7.3" font-weight="bold" fill="#111" stroke="#111" stroke-width="0.08">Group</text>
<line x1="108.12" y1="277.00" x2="108.12" y2="261.50" stroke="#4d4d4d" stroke-width="0.75"/>
<line x1="125.94" y1="277.00" x2="125.94" y2="261.50" stroke="#4d4d4d" stroke-width="0.75"/>
<line x1="108.12" y1="261.50" x2="125.94" y2="261.50" stroke="#4d4d4d" stroke-width="0.75"/>
<line x1="117.03" y1="261.50" x2="117.03" y2="255.40" stroke="#4d4d4d" stroke-width="0.75"/>
<line x1="143.78" y1="277.00" x2="143.78" y2="255.40" stroke="#4d4d4d" stroke-width="0.75"/>
<line x1="117.03" y1="255.40" x2="143.78" y2="255.40" stroke="#4d4d4d" stroke-width="0.75"/>
<line x1="179.44" y1="277.00" x2="179.44" y2="260.50" stroke="#4d4d4d" stroke-width="0.75"/>
<line x1="197.26" y1="277.00" x2="197.26" y2="260.50" stroke="#4d4d4d" stroke-width="0.75"/>
<line x1="179.44" y1="260.50" x2="197.26" y2="260.50" stroke="#4d4d4d" stroke-width="0.75"/>
<line x1="161.60" y1="277.00" x2="161.60" y2="256.20" stroke="#4d4d4d" stroke-width="0.75"/>
<line x1="188.35" y1="260.50" x2="188.35" y2="256.20" stroke="#4d4d4d" stroke-width="0.75"/>
<line x1="161.60" y1="256.20" x2="188.35" y2="256.20" stroke="#4d4d4d" stroke-width="0.75"/>
<line x1="130.40" y1="255.40" x2="130.40" y2="245.70" stroke="#4d4d4d" stroke-width="0.75"/>
<line x1="174.98" y1="256.20" x2="174.98" y2="245.70" stroke="#4d4d4d" stroke-width="0.75"/>
<line x1="130.40" y1="245.70" x2="174.98" y2="245.70" stroke="#4d4d4d" stroke-width="0.75"/>
<line x1="95.72" y1="295.22" x2="99.20" y2="295.22" stroke="#4d4d4d" stroke-width="0.75"/>
<line x1="95.72" y1="301.44" x2="99.20" y2="301.44" stroke="#4d4d4d" stroke-width="0.75"/>
<line x1="95.72" y1="295.22" x2="95.72" y2="301.44" stroke="#4d4d4d" stroke-width="0.75"/>
<line x1="92.25" y1="289.01" x2="99.20" y2="289.01" stroke="#4d4d4d" stroke-width="0.75"/>
<line x1="92.25" y1="298.33" x2="95.72" y2="298.33" stroke="#4d4d4d" stroke-width="0.75"/>
<line x1="92.25" y1="289.01" x2="92.25" y2="298.33" stroke="#4d4d4d" stroke-width="0.75"/>
<line x1="96.53" y1="313.87" x2="99.20" y2="313.87" stroke="#4d4d4d" stroke-width="0.75"/>
<line x1="96.53" y1="320.09" x2="99.20" y2="320.09" stroke="#4d4d4d" stroke-width="0.75"/>
<line x1="96.53" y1="313.87" x2="96.53" y2="320.09" stroke="#4d4d4d" stroke-width="0.75"/>
<line x1="93.85" y1="307.66" x2="99.20" y2="307.66" stroke="#4d4d4d" stroke-width="0.75"/>
<line x1="93.85" y1="316.98" x2="96.53" y2="316.98" stroke="#4d4d4d" stroke-width="0.75"/>
<line x1="93.85" y1="307.66" x2="93.85" y2="316.98" stroke="#4d4d4d" stroke-width="0.75"/>
<line x1="88.50" y1="293.67" x2="92.25" y2="293.67" stroke="#4d4d4d" stroke-width="0.75"/>
<line x1="88.50" y1="312.32" x2="93.85" y2="312.32" stroke="#4d4d4d" stroke-width="0.75"/>
<line x1="88.50" y1="293.67" x2="88.50" y2="312.32" stroke="#4d4d4d" stroke-width="0.75"/>
<line x1="87.00" y1="302.99" x2="88.50" y2="302.99" stroke="#4d4d4d" stroke-width="0.75"/>
<line x1="87.00" y1="326.30" x2="99.20" y2="326.30" stroke="#4d4d4d" stroke-width="0.75"/>
<line x1="87.00" y1="302.99" x2="87.00" y2="326.30" stroke="#4d4d4d" stroke-width="0.75"/>
<line x1="95.00" y1="332.52" x2="99.20" y2="332.52" stroke="#4d4d4d" stroke-width="0.75"/>
<line x1="95.00" y1="338.74" x2="99.20" y2="338.74" stroke="#4d4d4d" stroke-width="0.75"/>
<line x1="95.00" y1="332.52" x2="95.00" y2="338.74" stroke="#4d4d4d" stroke-width="0.75"/>
<line x1="96.10" y1="344.95" x2="99.20" y2="344.95" stroke="#4d4d4d" stroke-width="0.75"/>
<line x1="96.10" y1="351.17" x2="99.20" y2="351.17" stroke="#4d4d4d" stroke-width="0.75"/>
<line x1="96.10" y1="344.95" x2="96.10" y2="351.17" stroke="#4d4d4d" stroke-width="0.75"/>
<line x1="97.03" y1="357.38" x2="99.20" y2="357.38" stroke="#4d4d4d" stroke-width="0.75"/>
<line x1="97.03" y1="363.60" x2="99.20" y2="363.60" stroke="#4d4d4d" stroke-width="0.75"/>
<line x1="97.03" y1="357.38" x2="97.03" y2="363.60" stroke="#4d4d4d" stroke-width="0.75"/>
<line x1="93.00" y1="348.06" x2="96.10" y2="348.06" stroke="#4d4d4d" stroke-width="0.75"/>
<line x1="93.00" y1="360.49" x2="97.03" y2="360.49" stroke="#4d4d4d" stroke-width="0.75"/>
<line x1="93.00" y1="348.06" x2="93.00" y2="360.49" stroke="#4d4d4d" stroke-width="0.75"/>
<line x1="91.40" y1="335.63" x2="95.00" y2="335.63" stroke="#4d4d4d" stroke-width="0.75"/>
<line x1="91.40" y1="354.28" x2="93.00" y2="354.28" stroke="#4d4d4d" stroke-width="0.75"/>
<line x1="91.40" y1="335.63" x2="91.40" y2="354.28" stroke="#4d4d4d" stroke-width="0.75"/>
<line x1="81.20" y1="314.65" x2="87.00" y2="314.65" stroke="#4d4d4d" stroke-width="0.75"/>
<line x1="81.20" y1="344.95" x2="91.40" y2="344.95" stroke="#4d4d4d" stroke-width="0.75"/>
<line x1="81.20" y1="314.65" x2="81.20" y2="344.95" stroke="#4d4d4d" stroke-width="0.75"/>
<line x1="94.10" y1="376.03" x2="99.20" y2="376.03" stroke="#4d4d4d" stroke-width="0.75"/>
<line x1="94.10" y1="382.25" x2="99.20" y2="382.25" stroke="#4d4d4d" stroke-width="0.75"/>
<line x1="94.10" y1="376.03" x2="94.10" y2="382.25" stroke="#4d4d4d" stroke-width="0.75"/>
<line x1="89.00" y1="369.82" x2="99.20" y2="369.82" stroke="#4d4d4d" stroke-width="0.75"/>
<line x1="89.00" y1="379.14" x2="94.10" y2="379.14" stroke="#4d4d4d" stroke-width="0.75"/>
<line x1="89.00" y1="369.82" x2="89.00" y2="379.14" stroke="#4d4d4d" stroke-width="0.75"/>
<line x1="95.28" y1="394.68" x2="99.20" y2="394.68" stroke="#4d4d4d" stroke-width="0.75"/>
<line x1="95.28" y1="400.90" x2="99.20" y2="400.90" stroke="#4d4d4d" stroke-width="0.75"/>
<line x1="95.28" y1="394.68" x2="95.28" y2="400.90" stroke="#4d4d4d" stroke-width="0.75"/>
<line x1="91.35" y1="388.46" x2="99.20" y2="388.46" stroke="#4d4d4d" stroke-width="0.75"/>
<line x1="91.35" y1="397.79" x2="95.28" y2="397.79" stroke="#4d4d4d" stroke-width="0.75"/>
<line x1="91.35" y1="388.46" x2="91.35" y2="397.79" stroke="#4d4d4d" stroke-width="0.75"/>
<line x1="83.50" y1="374.48" x2="89.00" y2="374.48" stroke="#4d4d4d" stroke-width="0.75"/>
<line x1="83.50" y1="393.13" x2="91.35" y2="393.13" stroke="#4d4d4d" stroke-width="0.75"/>
<line x1="83.50" y1="374.48" x2="83.50" y2="393.13" stroke="#4d4d4d" stroke-width="0.75"/>
<line x1="89.85" y1="407.11" x2="99.20" y2="407.11" stroke="#4d4d4d" stroke-width="0.75"/>
<line x1="89.85" y1="413.33" x2="99.20" y2="413.33" stroke="#4d4d4d" stroke-width="0.75"/>
<line x1="89.85" y1="407.11" x2="89.85" y2="413.33" stroke="#4d4d4d" stroke-width="0.75"/>
<line x1="92.66" y1="419.54" x2="99.20" y2="419.54" stroke="#4d4d4d" stroke-width="0.75"/>
<line x1="92.66" y1="425.76" x2="99.20" y2="425.76" stroke="#4d4d4d" stroke-width="0.75"/>
<line x1="92.66" y1="419.54" x2="92.66" y2="425.76" stroke="#4d4d4d" stroke-width="0.75"/>
<line x1="80.50" y1="410.22" x2="89.85" y2="410.22" stroke="#4d4d4d" stroke-width="0.75"/>
<line x1="80.50" y1="422.65" x2="92.66" y2="422.65" stroke="#4d4d4d" stroke-width="0.75"/>
<line x1="80.50" y1="410.22" x2="80.50" y2="422.65" stroke="#4d4d4d" stroke-width="0.75"/>
<line x1="77.60" y1="383.80" x2="83.50" y2="383.80" stroke="#4d4d4d" stroke-width="0.75"/>
<line x1="77.60" y1="416.44" x2="80.50" y2="416.44" stroke="#4d4d4d" stroke-width="0.75"/>
<line x1="77.60" y1="383.80" x2="77.60" y2="416.44" stroke="#4d4d4d" stroke-width="0.75"/>
<line x1="93.60" y1="444.41" x2="99.20" y2="444.41" stroke="#4d4d4d" stroke-width="0.75"/>
<line x1="93.60" y1="450.62" x2="99.20" y2="450.62" stroke="#4d4d4d" stroke-width="0.75"/>
<line x1="93.60" y1="444.41" x2="93.60" y2="450.62" stroke="#4d4d4d" stroke-width="0.75"/>
<line x1="88.00" y1="438.19" x2="99.20" y2="438.19" stroke="#4d4d4d" stroke-width="0.75"/>
<line x1="88.00" y1="447.52" x2="93.60" y2="447.52" stroke="#4d4d4d" stroke-width="0.75"/>
<line x1="88.00" y1="438.19" x2="88.00" y2="447.52" stroke="#4d4d4d" stroke-width="0.75"/>
<line x1="94.10" y1="456.84" x2="99.20" y2="456.84" stroke="#4d4d4d" stroke-width="0.75"/>
<line x1="94.10" y1="463.06" x2="99.20" y2="463.06" stroke="#4d4d4d" stroke-width="0.75"/>
<line x1="94.10" y1="456.84" x2="94.10" y2="463.06" stroke="#4d4d4d" stroke-width="0.75"/>
<line x1="95.63" y1="469.27" x2="99.20" y2="469.27" stroke="#4d4d4d" stroke-width="0.75"/>
<line x1="95.63" y1="475.49" x2="99.20" y2="475.49" stroke="#4d4d4d" stroke-width="0.75"/>
<line x1="95.63" y1="469.27" x2="95.63" y2="475.49" stroke="#4d4d4d" stroke-width="0.75"/>
<line x1="89.00" y1="459.95" x2="94.10" y2="459.95" stroke="#4d4d4d" stroke-width="0.75"/>
<line x1="89.00" y1="472.38" x2="95.63" y2="472.38" stroke="#4d4d4d" stroke-width="0.75"/>
<line x1="89.00" y1="459.95" x2="89.00" y2="472.38" stroke="#4d4d4d" stroke-width="0.75"/>
<line x1="84.70" y1="442.85" x2="88.00" y2="442.85" stroke="#4d4d4d" stroke-width="0.75"/>
<line x1="84.70" y1="466.16" x2="89.00" y2="466.16" stroke="#4d4d4d" stroke-width="0.75"/>
<line x1="84.70" y1="442.85" x2="84.70" y2="466.16" stroke="#4d4d4d" stroke-width="0.75"/>
<line x1="77.50" y1="431.98" x2="99.20" y2="431.98" stroke="#4d4d4d" stroke-width="0.75"/>
<line x1="77.50" y1="454.51" x2="84.70" y2="454.51" stroke="#4d4d4d" stroke-width="0.75"/>
<line x1="77.50" y1="431.98" x2="77.50" y2="454.51" stroke="#4d4d4d" stroke-width="0.75"/>
<line x1="71.40" y1="400.12" x2="77.60" y2="400.12" stroke="#4d4d4d" stroke-width="0.75"/>
<line x1="71.40" y1="443.24" x2="77.50" y2="443.24" stroke="#4d4d4d" stroke-width="0.75"/>
<line x1="71.40" y1="400.12" x2="71.40" y2="443.24" stroke="#4d4d4d" stroke-width="0.75"/>
<line x1="89.97" y1="481.70" x2="99.20" y2="481.70" stroke="#4d4d4d" stroke-width="0.75"/>
<line x1="89.97" y1="487.92" x2="99.20" y2="487.92" stroke="#4d4d4d" stroke-width="0.75"/>
<line x1="89.97" y1="481.70" x2="89.97" y2="487.92" stroke="#4d4d4d" stroke-width="0.75"/>
<line x1="95.65" y1="500.35" x2="99.20" y2="500.35" stroke="#4d4d4d" stroke-width="0.75"/>
<line x1="95.65" y1="506.57" x2="99.20" y2="506.57" stroke="#4d4d4d" stroke-width="0.75"/>
<line x1="95.65" y1="500.35" x2="95.65" y2="506.57" stroke="#4d4d4d" stroke-width="0.75"/>
<line x1="92.10" y1="494.14" x2="99.20" y2="494.14" stroke="#4d4d4d" stroke-width="0.75"/>
<line x1="92.10" y1="503.46" x2="95.65" y2="503.46" stroke="#4d4d4d" stroke-width="0.75"/>
<line x1="92.10" y1="494.14" x2="92.10" y2="503.46" stroke="#4d4d4d" stroke-width="0.75"/>
<line x1="85.00" y1="484.81" x2="89.97" y2="484.81" stroke="#4d4d4d" stroke-width="0.75"/>
<line x1="85.00" y1="498.80" x2="92.10" y2="498.80" stroke="#4d4d4d" stroke-width="0.75"/>
<line x1="85.00" y1="484.81" x2="85.00" y2="498.80" stroke="#4d4d4d" stroke-width="0.75"/>
<line x1="92.60" y1="512.78" x2="99.20" y2="512.78" stroke="#4d4d4d" stroke-width="0.75"/>
<line x1="92.60" y1="519.00" x2="99.20" y2="519.00" stroke="#4d4d4d" stroke-width="0.75"/>
<line x1="92.60" y1="512.78" x2="92.60" y2="519.00" stroke="#4d4d4d" stroke-width="0.75"/>
<line x1="94.58" y1="525.22" x2="99.20" y2="525.22" stroke="#4d4d4d" stroke-width="0.75"/>
<line x1="94.58" y1="531.43" x2="99.20" y2="531.43" stroke="#4d4d4d" stroke-width="0.75"/>
<line x1="94.58" y1="525.22" x2="94.58" y2="531.43" stroke="#4d4d4d" stroke-width="0.75"/>
<line x1="86.00" y1="515.89" x2="92.60" y2="515.89" stroke="#4d4d4d" stroke-width="0.75"/>
<line x1="86.00" y1="528.32" x2="94.58" y2="528.32" stroke="#4d4d4d" stroke-width="0.75"/>
<line x1="86.00" y1="515.89" x2="86.00" y2="528.32" stroke="#4d4d4d" stroke-width="0.75"/>
<line x1="78.40" y1="491.80" x2="85.00" y2="491.80" stroke="#4d4d4d" stroke-width="0.75"/>
<line x1="78.40" y1="522.11" x2="86.00" y2="522.11" stroke="#4d4d4d" stroke-width="0.75"/>
<line x1="78.40" y1="491.80" x2="78.40" y2="522.11" stroke="#4d4d4d" stroke-width="0.75"/>
<line x1="91.27" y1="537.65" x2="99.20" y2="537.65" stroke="#4d4d4d" stroke-width="0.75"/>
<line x1="91.27" y1="543.86" x2="99.20" y2="543.86" stroke="#4d4d4d" stroke-width="0.75"/>
<line x1="91.27" y1="537.65" x2="91.27" y2="543.86" stroke="#4d4d4d" stroke-width="0.75"/>
<line x1="96.15" y1="556.30" x2="99.20" y2="556.30" stroke="#4d4d4d" stroke-width="0.75"/>
<line x1="96.15" y1="562.51" x2="99.20" y2="562.51" stroke="#4d4d4d" stroke-width="0.75"/>
<line x1="96.15" y1="556.30" x2="96.15" y2="562.51" stroke="#4d4d4d" stroke-width="0.75"/>
<line x1="93.10" y1="550.08" x2="99.20" y2="550.08" stroke="#4d4d4d" stroke-width="0.75"/>
<line x1="93.10" y1="559.40" x2="96.15" y2="559.40" stroke="#4d4d4d" stroke-width="0.75"/>
<line x1="93.10" y1="550.08" x2="93.10" y2="559.40" stroke="#4d4d4d" stroke-width="0.75"/>
<line x1="87.00" y1="540.76" x2="91.27" y2="540.76" stroke="#4d4d4d" stroke-width="0.75"/>
<line x1="87.00" y1="554.74" x2="93.10" y2="554.74" stroke="#4d4d4d" stroke-width="0.75"/>
<line x1="87.00" y1="540.76" x2="87.00" y2="554.74" stroke="#4d4d4d" stroke-width="0.75"/>
<line x1="91.92" y1="568.73" x2="99.20" y2="568.73" stroke="#4d4d4d" stroke-width="0.75"/>
<line x1="91.92" y1="574.94" x2="99.20" y2="574.94" stroke="#4d4d4d" stroke-width="0.75"/>
<line x1="91.92" y1="568.73" x2="91.92" y2="574.94" stroke="#4d4d4d" stroke-width="0.75"/>
<line x1="96.40" y1="587.38" x2="99.20" y2="587.38" stroke="#4d4d4d" stroke-width="0.75"/>
<line x1="96.40" y1="593.59" x2="99.20" y2="593.59" stroke="#4d4d4d" stroke-width="0.75"/>
<line x1="96.40" y1="587.38" x2="96.40" y2="593.59" stroke="#4d4d4d" stroke-width="0.75"/>
<line x1="93.60" y1="581.16" x2="99.20" y2="581.16" stroke="#4d4d4d" stroke-width="0.75"/>
<line x1="93.60" y1="590.48" x2="96.40" y2="590.48" stroke="#4d4d4d" stroke-width="0.75"/>
<line x1="93.60" y1="581.16" x2="93.60" y2="590.48" stroke="#4d4d4d" stroke-width="0.75"/>
<line x1="88.00" y1="571.84" x2="91.92" y2="571.84" stroke="#4d4d4d" stroke-width="0.75"/>
<line x1="88.00" y1="585.82" x2="93.60" y2="585.82" stroke="#4d4d4d" stroke-width="0.75"/>
<line x1="88.00" y1="571.84" x2="88.00" y2="585.82" stroke="#4d4d4d" stroke-width="0.75"/>
<line x1="84.70" y1="547.75" x2="87.00" y2="547.75" stroke="#4d4d4d" stroke-width="0.75"/>
<line x1="84.70" y1="578.83" x2="88.00" y2="578.83" stroke="#4d4d4d" stroke-width="0.75"/>
<line x1="84.70" y1="547.75" x2="84.70" y2="578.83" stroke="#4d4d4d" stroke-width="0.75"/>
<line x1="77.50" y1="506.96" x2="78.40" y2="506.96" stroke="#4d4d4d" stroke-width="0.75"/>
<line x1="77.50" y1="563.29" x2="84.70" y2="563.29" stroke="#4d4d4d" stroke-width="0.75"/>
<line x1="77.50" y1="506.96" x2="77.50" y2="563.29" stroke="#4d4d4d" stroke-width="0.75"/>
<line x1="70.40" y1="421.68" x2="71.40" y2="421.68" stroke="#4d4d4d" stroke-width="0.75"/>
<line x1="70.40" y1="535.12" x2="77.50" y2="535.12" stroke="#4d4d4d" stroke-width="0.75"/>
<line x1="70.40" y1="421.68" x2="70.40" y2="535.12" stroke="#4d4d4d" stroke-width="0.75"/>
<line x1="68.40" y1="329.80" x2="81.20" y2="329.80" stroke="#4d4d4d" stroke-width="0.75"/>
<line x1="68.40" y1="478.40" x2="70.40" y2="478.40" stroke="#4d4d4d" stroke-width="0.75"/>
<line x1="68.40" y1="329.80" x2="68.40" y2="478.40" stroke="#4d4d4d" stroke-width="0.75"/>
<defs><linearGradient id="cb238" x1="0" y1="0" x2="0" y2="1"><stop offset="0" stop-color="#c81018"/><stop offset="0.25" stop-color="#e4888c"/><stop offset="0.5" stop-color="#ffffff"/><stop offset="0.75" stop-color="#a2b8de"/><stop offset="1" stop-color="#4472be"/></linearGradient></defs>
<rect x="238.0" y="264.9" width="4.699999999999989" height="68.0" fill="url(#cb238)"/>
<text x="244.10" y="273.50" font-size="5.5" fill="#222" stroke="#222" stroke-width="0.08">1.5</text>
<text x="244.10" y="283.10" font-size="5.5" fill="#222" stroke="#222" stroke-width="0.08">1</text>
<text x="244.10" y="291.80" font-size="5.5" fill="#222" stroke="#222" stroke-width="0.08">0.5</text>
<text x="244.10" y="300.80" font-size="5.5" fill="#222" stroke="#222" stroke-width="0.08">0</text>
<text x="244.10" y="309.80" font-size="5.5" fill="#222" stroke="#222" stroke-width="0.08">−0.5</text>
<text x="244.10" y="318.80" font-size="5.5" fill="#222" stroke="#222" stroke-width="0.08">−1</text>
<text x="244.10" y="327.60" font-size="5.5" fill="#222" stroke="#222" stroke-width="0.08">−1.5</text>
<text x="256.70" y="268.70" font-size="6.0" font-weight="bold" fill="#111" stroke="#111" stroke-width="0.08">Group</text>
<rect x="256.70" y="270.10" width="7.20" height="7.30" fill="#1fcfd6"/>
<rect x="256.70" y="277.40" width="7.20" height="7.30" fill="#f8877f"/>
<text x="265.00" y="275.65" font-size="5.5" fill="#222" stroke="#222" stroke-width="0.08">IR</text>
<text x="265.00" y="282.95" font-size="5.5" fill="#222" stroke="#222" stroke-width="0.08" textLength="31.80" lengthAdjust="spacingAndGlyphs">IR+BIBR1532</text>
<text x="266.00" y="237.60" font-size="19.6">D.</text>
<rect x="324.10" y="282.70" width="19.23" height="6.67" fill="#e16a6d"/>
<rect x="342.98" y="282.70" width="19.23" height="6.67" fill="#eda5a7"/>
<rect x="361.86" y="282.70" width="19.23" height="6.67" fill="#e16a6d"/>
<rect x="380.74" y="282.70" width="19.23" height="6.67" fill="#acbde1"/>
<rect x="399.62" y="282.70" width="19.23" height="6.67" fill="#acbde1"/>
<rect x="418.50" y="282.70" width="19.23" height="6.67" fill="#acbde1"/>
<rect x="324.10" y="289.02" width="19.23" height="6.67" fill="#dc4f54"/>
<rect x="342.98" y="289.02" width="19.23" height="6.67" fill="#f2bdbf"/>
<rect x="361.86" y="289.02" width="19.23" height="6.67" fill="#e37276"/>
<rect x="380.74" y="289.02" width="19.23" height="6.67" fill="#acbde1"/>
<rect x="399.62" y="289.02" width="19.23" height="6.67" fill="#acbde1"/>
<rect x="418.50" y="289.02" width="19.23" height="6.67" fill="#acbde1"/>
<rect x="324.10" y="295.35" width="19.23" height="6.67" fill="#dc4f54"/>
<rect x="342.98" y="295.35" width="19.23" height="6.67" fill="#f5cdce"/>
<rect x="361.86" y="295.35" width="19.23" height="6.67" fill="#e16a6d"/>
<rect x="380.74" y="295.35" width="19.23" height="6.67" fill="#b8c6e5"/>
<rect x="399.62" y="295.35" width="19.23" height="6.67" fill="#acbde1"/>
<rect x="418.50" y="295.35" width="19.23" height="6.67" fill="#acbde1"/>
<rect x="324.10" y="301.68" width="19.23" height="6.67" fill="#dc4f54"/>
<rect x="342.98" y="301.68" width="19.23" height="6.67" fill="#eda5a7"/>
<rect x="361.86" y="301.68" width="19.23" height="6.67" fill="#efadaf"/>
<rect x="380.74" y="301.68" width="19.23" height="6.67" fill="#b8c6e5"/>
<rect x="399.62" y="301.68" width="19.23" height="6.67" fill="#9aafdb"/>
<rect x="418.50" y="301.68" width="19.23" height="6.67" fill="#b8c6e5"/>
<rect x="324.10" y="308.00" width="19.23" height="6.67" fill="#d93e42"/>
<rect x="342.98" y="308.00" width="19.23" height="6.67" fill="#eda5a7"/>
<rect x="361.86" y="308.00" width="19.23" height="6.67" fill="#efadaf"/>
<rect x="380.74" y="308.00" width="19.23" height="6.67" fill="#8fa6d7"/>
<rect x="399.62" y="308.00" width="19.23" height="6.67" fill="#d1daee"/>
<rect x="418.50" y="308.00" width="19.23" height="6.67" fill="#acbde1"/>
<rect x="324.10" y="314.32" width="19.23" height="6.67" fill="#dc4f54"/>
<rect x="342.98" y="314.32" width="19.23" height="6.67" fill="#f4c5c7"/>
<rect x="361.86" y="314.32" width="19.23" height="6.67" fill="#e88c8f"/>
<rect x="380.74" y="314.32" width="19.23" height="6.67" fill="#95aad9"/>
<rect x="399.62" y="314.32" width="19.23" height="6.67" fill="#e5ebf6"/>
<rect x="418.50" y="314.32" width="19.23" height="6.67" fill="#8fa6d7"/>
<rect x="324.10" y="320.65" width="19.23" height="6.67" fill="#ea9497"/>
<rect x="342.98" y="320.65" width="19.23" height="6.67" fill="#d93e42"/>
<rect x="361.86" y="320.65" width="19.23" height="6.67" fill="#efadaf"/>
<rect x="380.74" y="320.65" width="19.23" height="6.67" fill="#acbde1"/>
<rect x="399.62" y="320.65" width="19.23" height="6.67" fill="#b8c6e5"/>
<rect x="418.50" y="320.65" width="19.23" height="6.67" fill="#a6b8df"/>
<rect x="324.10" y="326.97" width="19.23" height="6.67" fill="#ea9497"/>
<rect x="342.98" y="326.97" width="19.23" height="6.67" fill="#d93e42"/>
<rect x="361.86" y="326.97" width="19.23" height="6.67" fill="#f0b5b7"/>
<rect x="380.74" y="326.97" width="19.23" height="6.67" fill="#acbde1"/>
<rect x="399.62" y="326.97" width="19.23" height="6.67" fill="#acbde1"/>
<rect x="418.50" y="326.97" width="19.23" height="6.67" fill="#acbde1"/>
<rect x="324.10" y="333.30" width="19.23" height="6.67" fill="#e37276"/>
<rect x="342.98" y="333.30" width="19.23" height="6.67" fill="#e16a6d"/>
<rect x="361.86" y="333.30" width="19.23" height="6.67" fill="#f2bdbf"/>
<rect x="380.74" y="333.30" width="19.23" height="6.67" fill="#acbde1"/>
<rect x="399.62" y="333.30" width="19.23" height="6.67" fill="#acbde1"/>
<rect x="418.50" y="333.30" width="19.23" height="6.67" fill="#acbde1"/>
<rect x="324.10" y="339.62" width="19.23" height="6.67" fill="#e16a6d"/>
<rect x="342.98" y="339.62" width="19.23" height="6.67" fill="#e16a6d"/>
<rect x="361.86" y="339.62" width="19.23" height="6.67" fill="#f5cdce"/>
<rect x="380.74" y="339.62" width="19.23" height="6.67" fill="#a6b8df"/>
<rect x="399.62" y="339.62" width="19.23" height="6.67" fill="#acbde1"/>
<rect x="418.50" y="339.62" width="19.23" height="6.67" fill="#becbe8"/>
<rect x="324.10" y="345.95" width="19.23" height="6.67" fill="#e16a6d"/>
<rect x="342.98" y="345.95" width="19.23" height="6.67" fill="#e16a6d"/>
<rect x="361.86" y="345.95" width="19.23" height="6.67" fill="#f7d5d6"/>
<rect x="380.74" y="345.95" width="19.23" height="6.67" fill="#a6b8df"/>
<rect x="399.62" y="345.95" width="19.23" height="6.67" fill="#b8c6e5"/>
<rect x="418.50" y="345.95" width="19.23" height="6.67" fill="#becbe8"/>
<rect x="324.10" y="352.27" width="19.23" height="6.67" fill="#e16a6d"/>
<rect x="342.98" y="352.27" width="19.23" height="6.67" fill="#efadaf"/>
<rect x="361.86" y="352.27" width="19.23" height="6.67" fill="#eb9d9f"/>
<rect x="380.74" y="352.27" width="19.23" height="6.67" fill="#89a1d5"/>
<rect x="399.62" y="352.27" width="19.23" height="6.67" fill="#b8c6e5"/>
<rect x="418.50" y="352.27" width="19.23" height="6.67" fill="#e5ebf6"/>
<rect x="324.10" y="358.60" width="19.23" height="6.67" fill="#e16a6d"/>
<rect x="342.98" y="358.60" width="19.23" height="6.67" fill="#f5cdce"/>
<rect x="361.86" y="358.60" width="19.23" height="6.67" fill="#e57b7e"/>
<rect x="380.74" y="358.60" width="19.23" height="6.67" fill="#89a1d5"/>
<rect x="399.62" y="358.60" width="19.23" height="6.67" fill="#d1daee"/>
<rect x="418.50" y="358.60" width="19.23" height="6.67" fill="#cad5ec"/>
<rect x="324.10" y="364.93" width="19.23" height="6.67" fill="#f2bdbf"/>
<rect x="342.98" y="364.93" width="19.23" height="6.67" fill="#f2bdbf"/>
<rect x="361.86" y="364.93" width="19.23" height="6.67" fill="#d93e42"/>
<rect x="380.74" y="364.93" width="19.23" height="6.67" fill="#95aad9"/>
<rect x="399.62" y="364.93" width="19.23" height="6.67" fill="#b8c6e5"/>
<rect x="418.50" y="364.93" width="19.23" height="6.67" fill="#d7e0f1"/>
<rect x="324.10" y="371.25" width="19.23" height="6.67" fill="#eda5a7"/>
<rect x="342.98" y="371.25" width="19.23" height="6.67" fill="#efadaf"/>
<rect x="361.86" y="371.25" width="19.23" height="6.67" fill="#dc4f54"/>
<rect x="380.74" y="371.25" width="19.23" height="6.67" fill="#acbde1"/>
<rect x="399.62" y="371.25" width="19.23" height="6.67" fill="#b8c6e5"/>
<rect x="418.50" y="371.25" width="19.23" height="6.67" fill="#b2c1e3"/>
<rect x="324.10" y="377.57" width="19.23" height="6.67" fill="#f2bdbf"/>
<rect x="342.98" y="377.57" width="19.23" height="6.67" fill="#e06165"/>
<rect x="361.86" y="377.57" width="19.23" height="6.67" fill="#e57b7e"/>
<rect x="380.74" y="377.57" width="19.23" height="6.67" fill="#a0b3dd"/>
<rect x="399.62" y="377.57" width="19.23" height="6.67" fill="#becbe8"/>
<rect x="418.50" y="377.57" width="19.23" height="6.67" fill="#b8c6e5"/>
<rect x="324.10" y="383.90" width="19.23" height="6.67" fill="#dee5f3"/>
<rect x="342.98" y="383.90" width="19.23" height="6.67" fill="#f7d5d6"/>
<rect x="361.86" y="383.90" width="19.23" height="6.67" fill="#ce080e"/>
<rect x="380.74" y="383.90" width="19.23" height="6.67" fill="#d7e0f1"/>
<rect x="399.62" y="383.90" width="19.23" height="6.67" fill="#b2c1e3"/>
<rect x="418.50" y="383.90" width="19.23" height="6.67" fill="#cad5ec"/>
<rect x="324.10" y="390.23" width="19.23" height="6.67" fill="#ffffff"/>
<rect x="342.98" y="390.23" width="19.23" height="6.67" fill="#f5f7fb"/>
<rect x="361.86" y="390.23" width="19.23" height="6.67" fill="#ce080e"/>
<rect x="380.74" y="390.23" width="19.23" height="6.67" fill="#edf1f8"/>
<rect x="399.62" y="390.23" width="19.23" height="6.67" fill="#c4d0ea"/>
<rect x="418.50" y="390.23" width="19.23" height="6.67" fill="#9aafdb"/>
<rect x="324.10" y="396.55" width="19.23" height="6.67" fill="#d93e42"/>
<rect x="342.98" y="396.55" width="19.23" height="6.67" fill="#f7d5d6"/>
<rect x="361.86" y="396.55" width="19.23" height="6.67" fill="#ffffff"/>
<rect x="380.74" y="396.55" width="19.23" height="6.67" fill="#95aad9"/>
<rect x="399.62" y="396.55" width="19.23" height="6.67" fill="#f8dddd"/>
<rect x="418.50" y="396.55" width="19.23" height="6.67" fill="#b8c6e5"/>
<rect x="324.10" y="402.88" width="19.23" height="6.67" fill="#ce080e"/>
<rect x="342.98" y="402.88" width="19.23" height="6.67" fill="#d7e0f1"/>
<rect x="361.86" y="402.88" width="19.23" height="6.67" fill="#d7e0f1"/>
<rect x="380.74" y="402.88" width="19.23" height="6.67" fill="#d7e0f1"/>
<rect x="399.62" y="402.88" width="19.23" height="6.67" fill="#d7e0f1"/>
<rect x="418.50" y="402.88" width="19.23" height="6.67" fill="#d7e0f1"/>
<rect x="324.10" y="409.20" width="19.23" height="6.67" fill="#efadaf"/>
<rect x="342.98" y="409.20" width="19.23" height="6.67" fill="#efadaf"/>
<rect x="361.86" y="409.20" width="19.23" height="6.67" fill="#efadaf"/>
<rect x="380.74" y="409.20" width="19.23" height="6.67" fill="#f0b5b7"/>
<rect x="399.62" y="409.20" width="19.23" height="6.67" fill="#b2c1e3"/>
<rect x="418.50" y="409.20" width="19.23" height="6.67" fill="#7e99d1"/>
<rect x="324.10" y="415.52" width="19.23" height="6.67" fill="#e06165"/>
<rect x="342.98" y="415.52" width="19.23" height="6.67" fill="#e37276"/>
<rect x="361.86" y="415.52" width="19.23" height="6.67" fill="#acbde1"/>
<rect x="380.74" y="415.52" width="19.23" height="6.67" fill="#ffffff"/>
<rect x="399.62" y="415.52" width="19.23" height="6.67" fill="#becbe8"/>
<rect x="418.50" y="415.52" width="19.23" height="6.67" fill="#b2c1e3"/>
<rect x="324.10" y="421.85" width="19.23" height="6.67" fill="#dee5f3"/>
<rect x="342.98" y="421.85" width="19.23" height="6.67" fill="#f7d5d6"/>
<rect x="361.86" y="421.85" width="19.23" height="6.67" fill="#f5cdce"/>
<rect x="380.74" y="421.85" width="19.23" height="6.67" fill="#ce080e"/>
<rect x="399.62" y="421.85" width="19.23" height="6.67" fill="#9aafdb"/>
<rect x="418.50" y="421.85" width="19.23" height="6.67" fill="#d7e0f1"/>
<rect x="324.10" y="428.17" width="19.23" height="6.67" fill="#dee5f3"/>
<rect x="342.98" y="428.17" width="19.23" height="6.67" fill="#dee5f3"/>
<rect x="361.86" y="428.17" width="19.23" height="6.67" fill="#dee5f3"/>
<rect x="380.74" y="428.17" width="19.23" height="6.67" fill="#ce080e"/>
<rect x="399.62" y="428.17" width="19.23" height="6.67" fill="#dee5f3"/>
<rect x="418.50" y="428.17" width="19.23" height="6.67" fill="#dee5f3"/>
<rect x="324.10" y="434.50" width="19.23" height="6.67" fill="#e5ebf6"/>
<rect x="342.98" y="434.50" width="19.23" height="6.67" fill="#becbe8"/>
<rect x="361.86" y="434.50" width="19.23" height="6.67" fill="#95aad9"/>
<rect x="380.74" y="434.50" width="19.23" height="6.67" fill="#f5cdce"/>
<rect x="399.62" y="434.50" width="19.23" height="6.67" fill="#d93e42"/>
<rect x="418.50" y="434.50" width="19.23" height="6.67" fill="#ea9497"/>
<rect x="324.10" y="440.82" width="19.23" height="6.67" fill="#b2c1e3"/>
<rect x="342.98" y="440.82" width="19.23" height="6.67" fill="#dee5f3"/>
<rect x="361.86" y="440.82" width="19.23" height="6.67" fill="#9aafdb"/>
<rect x="380.74" y="440.82" width="19.23" height="6.67" fill="#f8dddd"/>
<rect x="399.62" y="440.82" width="19.23" height="6.67" fill="#d93e42"/>
<rect x="418.50" y="440.82" width="19.23" height="6.67" fill="#eb9d9f"/>
<rect x="324.10" y="447.15" width="19.23" height="6.67" fill="#dee5f3"/>
<rect x="342.98" y="447.15" width="19.23" height="6.67" fill="#9aafdb"/>
<rect x="361.86" y="447.15" width="19.23" height="6.67" fill="#acbde1"/>
<rect x="380.74" y="447.15" width="19.23" height="6.67" fill="#eb9d9f"/>
<rect x="399.62" y="447.15" width="19.23" height="6.67" fill="#ea9497"/>
<rect x="418.50" y="447.15" width="19.23" height="6.67" fill="#ea9497"/>
<rect x="324.10" y="453.48" width="19.23" height="6.67" fill="#acbde1"/>
<rect x="342.98" y="453.48" width="19.23" height="6.67" fill="#b2c1e3"/>
<rect x="361.86" y="453.48" width="19.23" height="6.67" fill="#b2c1e3"/>
<rect x="380.74" y="453.48" width="19.23" height="6.67" fill="#f4c5c7"/>
<rect x="399.62" y="453.48" width="19.23" height="6.67" fill="#eda5a7"/>
<rect x="418.50" y="453.48" width="19.23" height="6.67" fill="#dc4f54"/>
<rect x="324.10" y="459.80" width="19.23" height="6.67" fill="#e5ebf6"/>
<rect x="342.98" y="459.80" width="19.23" height="6.67" fill="#acbde1"/>
<rect x="361.86" y="459.80" width="19.23" height="6.67" fill="#acbde1"/>
<rect x="380.74" y="459.80" width="19.23" height="6.67" fill="#da474b"/>
<rect x="399.62" y="459.80" width="19.23" height="6.67" fill="#fae4e5"/>
<rect x="418.50" y="459.80" width="19.23" height="6.67" fill="#eb9d9f"/>
<rect x="324.10" y="466.12" width="19.23" height="6.67" fill="#c4d0ea"/>
<rect x="342.98" y="466.12" width="19.23" height="6.67" fill="#becbe8"/>
<rect x="361.86" y="466.12" width="19.23" height="6.67" fill="#acbde1"/>
<rect x="380.74" y="466.12" width="19.23" height="6.67" fill="#dc4f54"/>
<rect x="399.62" y="466.12" width="19.23" height="6.67" fill="#e68386"/>
<rect x="418.50" y="466.12" width="19.23" height="6.67" fill="#f8dddd"/>
<rect x="324.10" y="472.45" width="19.23" height="6.67" fill="#dee5f3"/>
<rect x="342.98" y="472.45" width="19.23" height="6.67" fill="#becbe8"/>
<rect x="361.86" y="472.45" width="19.23" height="6.67" fill="#95aad9"/>
<rect x="380.74" y="472.45" width="19.23" height="6.67" fill="#dc4f54"/>
<rect x="399.62" y="472.45" width="19.23" height="6.67" fill="#e88c8f"/>
<rect x="418.50" y="472.45" width="19.23" height="6.67" fill="#f5cdce"/>
<rect x="324.10" y="478.77" width="19.23" height="6.67" fill="#dee5f3"/>
<rect x="342.98" y="478.77" width="19.23" height="6.67" fill="#becbe8"/>
<rect x="361.86" y="478.77" width="19.23" height="6.67" fill="#a0b3dd"/>
<rect x="380.74" y="478.77" width="19.23" height="6.67" fill="#e16a6d"/>
<rect x="399.62" y="478.77" width="19.23" height="6.67" fill="#e16a6d"/>
<rect x="418.50" y="478.77" width="19.23" height="6.67" fill="#f7d5d6"/>
<rect x="324.10" y="485.10" width="19.23" height="6.67" fill="#a0b3dd"/>
<rect x="342.98" y="485.10" width="19.23" height="6.67" fill="#f5f7fb"/>
<rect x="361.86" y="485.10" width="19.23" height="6.67" fill="#acbde1"/>
<rect x="380.74" y="485.10" width="19.23" height="6.67" fill="#da474b"/>
<rect x="399.62" y="485.10" width="19.23" height="6.67" fill="#f0b5b7"/>
<rect x="418.50" y="485.10" width="19.23" height="6.67" fill="#f4c5c7"/>
<rect x="324.10" y="491.42" width="19.23" height="6.67" fill="#a0b3dd"/>
<rect x="342.98" y="491.42" width="19.23" height="6.67" fill="#edf1f8"/>
<rect x="361.86" y="491.42" width="19.23" height="6.67" fill="#acbde1"/>
<rect x="380.74" y="491.42" width="19.23" height="6.67" fill="#de585c"/>
<rect x="399.62" y="491.42" width="19.23" height="6.67" fill="#f2bdbf"/>
<rect x="418.50" y="491.42" width="19.23" height="6.67" fill="#eb9d9f"/>
<rect x="324.10" y="497.75" width="19.23" height="6.67" fill="#a0b3dd"/>
<rect x="342.98" y="497.75" width="19.23" height="6.67" fill="#edf1f8"/>
<rect x="361.86" y="497.75" width="19.23" height="6.67" fill="#acbde1"/>
<rect x="380.74" y="497.75" width="19.23" height="6.67" fill="#de585c"/>
<rect x="399.62" y="497.75" width="19.23" height="6.67" fill="#f2bdbf"/>
<rect x="418.50" y="497.75" width="19.23" height="6.67" fill="#efadaf"/>
<rect x="324.10" y="504.07" width="19.23" height="6.67" fill="#a0b3dd"/>
<rect x="342.98" y="504.07" width="19.23" height="6.67" fill="#acbde1"/>
<rect x="361.86" y="504.07" width="19.23" height="6.67" fill="#d7e0f1"/>
<rect x="380.74" y="504.07" width="19.23" height="6.67" fill="#d93e42"/>
<rect x="399.62" y="504.07" width="19.23" height="6.67" fill="#f2bdbf"/>
<rect x="418.50" y="504.07" width="19.23" height="6.67" fill="#f4c5c7"/>
<rect x="324.10" y="510.40" width="19.23" height="6.67" fill="#becbe8"/>
<rect x="342.98" y="510.40" width="19.23" height="6.67" fill="#acbde1"/>
<rect x="361.86" y="510.40" width="19.23" height="6.67" fill="#acbde1"/>
<rect x="380.74" y="510.40" width="19.23" height="6.67" fill="#dc4f54"/>
<rect x="399.62" y="510.40" width="19.23" height="6.67" fill="#f2bdbf"/>
<rect x="418.50" y="510.40" width="19.23" height="6.67" fill="#f0b5b7"/>
<rect x="324.10" y="516.73" width="19.23" height="6.67" fill="#becbe8"/>
<rect x="342.98" y="516.73" width="19.23" height="6.67" fill="#acbde1"/>
<rect x="361.86" y="516.73" width="19.23" height="6.67" fill="#acbde1"/>
<rect x="380.74" y="516.73" width="19.23" height="6.67" fill="#dc4f54"/>
<rect x="399.62" y="516.73" width="19.23" height="6.67" fill="#f2bdbf"/>
<rect x="418.50" y="516.73" width="19.23" height="6.67" fill="#eda5a7"/>
<rect x="324.10" y="523.05" width="19.23" height="6.67" fill="#b2c1e3"/>
<rect x="342.98" y="523.05" width="19.23" height="6.67" fill="#b2c1e3"/>
<rect x="361.86" y="523.05" width="19.23" height="6.67" fill="#b2c1e3"/>
<rect x="380.74" y="523.05" width="19.23" height="6.67" fill="#dc4f54"/>
<rect x="399.62" y="523.05" width="19.23" height="6.67" fill="#e68386"/>
<rect x="418.50" y="523.05" width="19.23" height="6.67" fill="#f8dddd"/>
<rect x="324.10" y="529.38" width="19.23" height="6.67" fill="#b2c1e3"/>
<rect x="342.98" y="529.38" width="19.23" height="6.67" fill="#b2c1e3"/>
<rect x="361.86" y="529.38" width="19.23" height="6.67" fill="#b2c1e3"/>
<rect x="380.74" y="529.38" width="19.23" height="6.67" fill="#d93e42"/>
<rect x="399.62" y="529.38" width="19.23" height="6.67" fill="#efadaf"/>
<rect x="418.50" y="529.38" width="19.23" height="6.67" fill="#f5cdce"/>
<rect x="324.10" y="535.70" width="19.23" height="6.67" fill="#95aad9"/>
<rect x="342.98" y="535.70" width="19.23" height="6.67" fill="#becbe8"/>
<rect x="361.86" y="535.70" width="19.23" height="6.67" fill="#dee5f3"/>
<rect x="380.74" y="535.70" width="19.23" height="6.67" fill="#de585c"/>
<rect x="399.62" y="535.70" width="19.23" height="6.67" fill="#f8dddd"/>
<rect x="418.50" y="535.70" width="19.23" height="6.67" fill="#e68386"/>
<rect x="324.10" y="542.02" width="19.23" height="6.67" fill="#b2c1e3"/>
<rect x="342.98" y="542.02" width="19.23" height="6.67" fill="#b2c1e3"/>
<rect x="361.86" y="542.02" width="19.23" height="6.67" fill="#b2c1e3"/>
<rect x="380.74" y="542.02" width="19.23" height="6.67" fill="#dc4f54"/>
<rect x="399.62" y="542.02" width="19.23" height="6.67" fill="#f8dddd"/>
<rect x="418.50" y="542.02" width="19.23" height="6.67" fill="#e68386"/>
<rect x="324.10" y="548.35" width="19.23" height="6.67" fill="#b2c1e3"/>
<rect x="342.98" y="548.35" width="19.23" height="6.67" fill="#b2c1e3"/>
<rect x="361.86" y="548.35" width="19.23" height="6.67" fill="#b2c1e3"/>
<rect x="380.74" y="548.35" width="19.23" height="6.67" fill="#e16a6d"/>
<rect x="399.62" y="548.35" width="19.23" height="6.67" fill="#fae4e5"/>
<rect x="418.50" y="548.35" width="19.23" height="6.67" fill="#e06165"/>
<rect x="324.10" y="554.67" width="19.23" height="6.67" fill="#b2c1e3"/>
<rect x="342.98" y="554.67" width="19.23" height="6.67" fill="#b2c1e3"/>
<rect x="361.86" y="554.67" width="19.23" height="6.67" fill="#b2c1e3"/>
<rect x="380.74" y="554.67" width="19.23" height="6.67" fill="#e16a6d"/>
<rect x="399.62" y="554.67" width="19.23" height="6.67" fill="#f5cdce"/>
<rect x="418.50" y="554.67" width="19.23" height="6.67" fill="#e06165"/>
<rect x="324.10" y="561.00" width="19.23" height="6.67" fill="#9aafdb"/>
<rect x="342.98" y="561.00" width="19.23" height="6.67" fill="#a0b3dd"/>
<rect x="361.86" y="561.00" width="19.23" height="6.67" fill="#dee5f3"/>
<rect x="380.74" y="561.00" width="19.23" height="6.67" fill="#eb9d9f"/>
<rect x="399.62" y="561.00" width="19.23" height="6.67" fill="#e68386"/>
<rect x="418.50" y="561.00" width="19.23" height="6.67" fill="#e57b7e"/>
<rect x="324.10" y="567.33" width="19.23" height="6.67" fill="#b2c1e3"/>
<rect x="342.98" y="567.33" width="19.23" height="6.67" fill="#b2c1e3"/>
<rect x="361.86" y="567.33" width="19.23" height="6.67" fill="#b2c1e3"/>
<rect x="380.74" y="567.33" width="19.23" height="6.67" fill="#e88c8f"/>
<rect x="399.62" y="567.33" width="19.23" height="6.67" fill="#e88c8f"/>
<rect x="418.50" y="567.33" width="19.23" height="6.67" fill="#e68386"/>
<rect x="324.10" y="573.65" width="19.23" height="6.67" fill="#b2c1e3"/>
<rect x="342.98" y="573.65" width="19.23" height="6.67" fill="#b2c1e3"/>
<rect x="361.86" y="573.65" width="19.23" height="6.67" fill="#b2c1e3"/>
<rect x="380.74" y="573.65" width="19.23" height="6.67" fill="#e57b7e"/>
<rect x="399.62" y="573.65" width="19.23" height="6.67" fill="#e68386"/>
<rect x="418.50" y="573.65" width="19.23" height="6.67" fill="#efadaf"/>
<rect x="324.10" y="579.98" width="19.23" height="6.67" fill="#b8c6e5"/>
<rect x="342.98" y="579.98" width="19.23" height="6.67" fill="#b2c1e3"/>
<rect x="361.86" y="579.98" width="19.23" height="6.67" fill="#b2c1e3"/>
<rect x="380.74" y="579.98" width="19.23" height="6.67" fill="#e06165"/>
<rect x="399.62" y="579.98" width="19.23" height="6.67" fill="#e88c8f"/>
<rect x="418.50" y="579.98" width="19.23" height="6.67" fill="#f0b5b7"/>
<rect x="324.10" y="586.30" width="19.23" height="6.67" fill="#b8c6e5"/>
<rect x="342.98" y="586.30" width="19.23" height="6.67" fill="#b2c1e3"/>
<rect x="361.86" y="586.30" width="19.23" height="6.67" fill="#b2c1e3"/>
<rect x="380.74" y="586.30" width="19.23" height="6.67" fill="#e06165"/>
<rect x="399.62" y="586.30" width="19.23" height="6.67" fill="#ea9497"/>
<rect x="418.50" y="586.30" width="19.23" height="6.67" fill="#efadaf"/>
<text x="439.50" y="289.16" font-size="7.0" fill="#111" stroke="#111" stroke-width="0.08" textLength="16.22" lengthAdjust="spacingAndGlyphs">Eipr1</text>
<text x="439.50" y="295.49" font-size="7.0" fill="#111" stroke="#111" stroke-width="0.08" textLength="18.25" lengthAdjust="spacingAndGlyphs">Nptx1</text>
<text x="439.50" y="301.81" font-size="7.0" fill="#111" stroke="#111" stroke-width="0.08" textLength="21.49" lengthAdjust="spacingAndGlyphs">Dnajb6</text>
<text x="439.50" y="308.14" font-size="7.0" fill="#111" stroke="#111" stroke-width="0.08" textLength="12.98" lengthAdjust="spacingAndGlyphs">Plek</text>
<text x="439.50" y="314.46" font-size="7.0" fill="#111" stroke="#111" stroke-width="0.08" textLength="18.24" lengthAdjust="spacingAndGlyphs">Icam1</text>
<text x="439.50" y="320.79" font-size="7.0" fill="#111" stroke="#111" stroke-width="0.08" textLength="20.27" lengthAdjust="spacingAndGlyphs">H2-Q4</text>
<text x="439.50" y="327.11" font-size="7.0" fill="#111" stroke="#111" stroke-width="0.08" textLength="14.87" lengthAdjust="spacingAndGlyphs">Arg1</text>
<text x="439.50" y="333.44" font-size="7.0" fill="#111" stroke="#111" stroke-width="0.08" textLength="19.74" lengthAdjust="spacingAndGlyphs">Asrgl1</text>
<text x="439.50" y="339.76" font-size="7.0" fill="#111" stroke="#111" stroke-width="0.08" textLength="19.46" lengthAdjust="spacingAndGlyphs">Acod1</text>
<text x="439.50" y="346.09" font-size="7.0" fill="#111" stroke="#111" stroke-width="0.08" textLength="29.20" lengthAdjust="spacingAndGlyphs">Gm12250</text>
<text x="439.50" y="352.41" font-size="7.0" fill="#111" stroke="#111" stroke-width="0.08" textLength="11.76" lengthAdjust="spacingAndGlyphs">Igtp</text>
<text x="439.50" y="358.74" font-size="7.0" fill="#111" stroke="#111" stroke-width="0.08" textLength="17.73" lengthAdjust="spacingAndGlyphs">Tead1</text>
<text x="439.50" y="365.06" font-size="7.0" fill="#111" stroke="#111" stroke-width="0.08" textLength="19.61" lengthAdjust="spacingAndGlyphs">Trip10</text>
<text x="439.50" y="371.39" font-size="7.0" fill="#111" stroke="#111" stroke-width="0.08" textLength="16.22" lengthAdjust="spacingAndGlyphs">Gpx4</text>
<text x="439.50" y="377.71" font-size="7.0" fill="#111" stroke="#111" stroke-width="0.08" textLength="17.03" lengthAdjust="spacingAndGlyphs">Orm1</text>
<text x="439.50" y="384.04" font-size="7.0" fill="#111" stroke="#111" stroke-width="0.08" textLength="17.03" lengthAdjust="spacingAndGlyphs">Orm2</text>
<text x="439.50" y="390.36" font-size="7.0" fill="#111" stroke="#111" stroke-width="0.08" textLength="19.06" lengthAdjust="spacingAndGlyphs">Lonp2</text>
<text x="439.50" y="396.69" font-size="7.0" fill="#111" stroke="#111" stroke-width="0.08" textLength="17.03" lengthAdjust="spacingAndGlyphs">Acsl1</text>
<text x="439.50" y="403.01" font-size="7.0" fill="#111" stroke="#111" stroke-width="0.08" textLength="16.62" lengthAdjust="spacingAndGlyphs">Kif3a</text>
<text x="439.50" y="409.34" font-size="7.0" fill="#111" stroke="#111" stroke-width="0.08" textLength="21.09" lengthAdjust="spacingAndGlyphs">Cxcl10</text>
<text x="439.50" y="415.66" font-size="7.0" fill="#111" stroke="#111" stroke-width="0.08" textLength="21.08" lengthAdjust="spacingAndGlyphs">Sec16a</text>
<text x="439.50" y="421.99" font-size="7.0" fill="#111" stroke="#111" stroke-width="0.08" textLength="18.65" lengthAdjust="spacingAndGlyphs">Mcam</text>
<text x="439.50" y="428.31" font-size="7.0" fill="#111" stroke="#111" stroke-width="0.08" textLength="17.03" lengthAdjust="spacingAndGlyphs">Nlrx1</text>
<text x="439.50" y="434.64" font-size="7.0" fill="#111" stroke="#111" stroke-width="0.08" textLength="22.30" lengthAdjust="spacingAndGlyphs">Vps26c</text>
<text x="439.50" y="440.96" font-size="7.0" fill="#111" stroke="#111" stroke-width="0.08" textLength="16.23" lengthAdjust="spacingAndGlyphs">Ptgs2</text>
<text x="439.50" y="447.29" font-size="7.0" fill="#111" stroke="#111" stroke-width="0.08" textLength="17.03" lengthAdjust="spacingAndGlyphs">Parvb</text>
<text x="439.50" y="453.61" font-size="7.0" fill="#111" stroke="#111" stroke-width="0.08" textLength="26.76" lengthAdjust="spacingAndGlyphs">Eif4ebp1</text>
<text x="439.50" y="459.94" font-size="7.0" fill="#111" stroke="#111" stroke-width="0.08" textLength="21.90" lengthAdjust="spacingAndGlyphs">Hmox1</text>
<text x="439.50" y="466.26" font-size="7.0" fill="#111" stroke="#111" stroke-width="0.08" textLength="17.03" lengthAdjust="spacingAndGlyphs">Acsl4</text>
<text x="439.50" y="472.59" font-size="7.0" fill="#111" stroke="#111" stroke-width="0.08" textLength="19.47" lengthAdjust="spacingAndGlyphs">Rbbp6</text>
<text x="439.50" y="478.91" font-size="7.0" fill="#111" stroke="#111" stroke-width="0.08" textLength="22.30" lengthAdjust="spacingAndGlyphs">Ccdc50</text>
<text x="439.50" y="485.24" font-size="7.0" fill="#111" stroke="#111" stroke-width="0.08" textLength="17.03" lengthAdjust="spacingAndGlyphs">Acsl3</text>
<text x="439.50" y="491.56" font-size="7.0" fill="#111" stroke="#111" stroke-width="0.08" textLength="9.06" lengthAdjust="spacingAndGlyphs">Trf</text>
<text x="439.50" y="497.89" font-size="7.0" fill="#111" stroke="#111" stroke-width="0.08" textLength="17.84" lengthAdjust="spacingAndGlyphs">Gzmb</text>
<text x="439.50" y="504.21" font-size="7.0" fill="#111" stroke="#111" stroke-width="0.08" textLength="25.95" lengthAdjust="spacingAndGlyphs">Ccdc167</text>
<text x="439.50" y="510.54" font-size="7.0" fill="#111" stroke="#111" stroke-width="0.08" textLength="15.81" lengthAdjust="spacingAndGlyphs">Amfr</text>
<text x="439.50" y="516.86" font-size="7.0" fill="#111" stroke="#111" stroke-width="0.08" textLength="20.28" lengthAdjust="spacingAndGlyphs">Fhip2a</text>
<text x="439.50" y="523.19" font-size="7.0" fill="#111" stroke="#111" stroke-width="0.08" textLength="22.93" lengthAdjust="spacingAndGlyphs">Washc1</text>
<text x="439.50" y="529.51" font-size="7.0" fill="#111" stroke="#111" stroke-width="0.08" textLength="12.31" lengthAdjust="spacingAndGlyphs">Trio</text>
<text x="439.50" y="535.84" font-size="7.0" fill="#111" stroke="#111" stroke-width="0.08" textLength="19.46" lengthAdjust="spacingAndGlyphs">G6pc3</text>
<text x="439.50" y="542.16" font-size="7.0" fill="#111" stroke="#111" stroke-width="0.08" textLength="24.06" lengthAdjust="spacingAndGlyphs">Trappc8</text>
<text x="439.50" y="548.49" font-size="7.0" fill="#111" stroke="#111" stroke-width="0.08" textLength="21.49" lengthAdjust="spacingAndGlyphs">Cfap20</text>
<text x="439.50" y="554.81" font-size="7.0" fill="#111" stroke="#111" stroke-width="0.08" textLength="17.83" lengthAdjust="spacingAndGlyphs">Lacc1</text>
<text x="439.50" y="561.14" font-size="7.0" fill="#111" stroke="#111" stroke-width="0.08" textLength="14.60" lengthAdjust="spacingAndGlyphs">Spen</text>
<text x="439.50" y="567.46" font-size="7.0" fill="#111" stroke="#111" stroke-width="0.08" textLength="20.27" lengthAdjust="spacingAndGlyphs">Lama4</text>
<text x="439.50" y="573.79" font-size="7.0" fill="#111" stroke="#111" stroke-width="0.08" textLength="10.95" lengthAdjust="spacingAndGlyphs">Cfp</text>
<text x="439.50" y="580.11" font-size="7.0" fill="#111" stroke="#111" stroke-width="0.08" textLength="10.95" lengthAdjust="spacingAndGlyphs">Kin</text>
<text x="439.50" y="586.44" font-size="7.0" fill="#111" stroke="#111" stroke-width="0.08" textLength="21.09" lengthAdjust="spacingAndGlyphs">Myo9b</text>
<text x="439.50" y="592.76" font-size="7.0" fill="#111" stroke="#111" stroke-width="0.08" textLength="22.30" lengthAdjust="spacingAndGlyphs">Ccdc18</text>
<rect x="324.10" y="274.10" width="56.64" height="7.60" fill="#1fcfd6"/>
<rect x="380.74" y="274.10" width="56.64" height="7.60" fill="#f8877f"/>
<text x="439.50" y="280.40" font-size="7.3" font-weight="bold" fill="#111" stroke="#111" stroke-width="0.08">Group</text>
<line x1="333.54" y1="274.10" x2="333.54" y2="264.30" stroke="#4d4d4d" stroke-width="0.75"/>
<line x1="352.42" y1="274.10" x2="352.42" y2="264.30" stroke="#4d4d4d" stroke-width="0.75"/>
<line x1="333.54" y1="264.30" x2="352.42" y2="264.30" stroke="#4d4d4d" stroke-width="0.75"/>
<line x1="342.98" y1="264.30" x2="342.98" y2="261.00" stroke="#4d4d4d" stroke-width="0.75"/>
<line x1="371.30" y1="274.10" x2="371.30" y2="261.00" stroke="#4d4d4d" stroke-width="0.75"/>
<line x1="342.98" y1="261.00" x2="371.30" y2="261.00" stroke="#4d4d4d" stroke-width="0.75"/>
<line x1="409.06" y1="274.10" x2="409.06" y2="266.50" stroke="#4d4d4d" stroke-width="0.75"/>
<line x1="427.94" y1="274.10" x2="427.94" y2="266.50" stroke="#4d4d4d" stroke-width="0.75"/>
<line x1="409.06" y1="266.50" x2="427.94" y2="266.50" stroke="#4d4d4d" stroke-width="0.75"/>
<line x1="390.18" y1="274.10" x2="390.18" y2="261.50" stroke="#4d4d4d" stroke-width="0.75"/>
<line x1="418.50" y1="266.50" x2="418.50" y2="261.50" stroke="#4d4d4d" stroke-width="0.75"/>
<line x1="390.18" y1="261.50" x2="418.50" y2="261.50" stroke="#4d4d4d" stroke-width="0.75"/>
<line x1="357.14" y1="261.00" x2="357.14" y2="243.20" stroke="#4d4d4d" stroke-width="0.75"/>
<line x1="404.34" y1="261.50" x2="404.34" y2="243.20" stroke="#4d4d4d" stroke-width="0.75"/>
<line x1="357.14" y1="243.20" x2="404.34" y2="243.20" stroke="#4d4d4d" stroke-width="0.75"/>
<line x1="322.47" y1="292.19" x2="324.20" y2="292.19" stroke="#4d4d4d" stroke-width="0.75"/>
<line x1="322.47" y1="298.51" x2="324.20" y2="298.51" stroke="#4d4d4d" stroke-width="0.75"/>
<line x1="322.47" y1="292.19" x2="322.47" y2="298.51" stroke="#4d4d4d" stroke-width="0.75"/>
<line x1="320.74" y1="285.86" x2="324.20" y2="285.86" stroke="#4d4d4d" stroke-width="0.75"/>
<line x1="320.74" y1="295.35" x2="322.47" y2="295.35" stroke="#4d4d4d" stroke-width="0.75"/>
<line x1="320.74" y1="285.86" x2="320.74" y2="295.35" stroke="#4d4d4d" stroke-width="0.75"/>
<line x1="322.87" y1="311.16" x2="324.20" y2="311.16" stroke="#4d4d4d" stroke-width="0.75"/>
<line x1="322.87" y1="317.49" x2="324.20" y2="317.49" stroke="#4d4d4d" stroke-width="0.75"/>
<line x1="322.87" y1="311.16" x2="322.87" y2="317.49" stroke="#4d4d4d" stroke-width="0.75"/>
<line x1="321.54" y1="304.84" x2="324.20" y2="304.84" stroke="#4d4d4d" stroke-width="0.75"/>
<line x1="321.54" y1="314.32" x2="322.87" y2="314.32" stroke="#4d4d4d" stroke-width="0.75"/>
<line x1="321.54" y1="304.84" x2="321.54" y2="314.32" stroke="#4d4d4d" stroke-width="0.75"/>
<line x1="318.87" y1="290.61" x2="320.74" y2="290.61" stroke="#4d4d4d" stroke-width="0.75"/>
<line x1="318.87" y1="309.58" x2="321.54" y2="309.58" stroke="#4d4d4d" stroke-width="0.75"/>
<line x1="318.87" y1="290.61" x2="318.87" y2="309.58" stroke="#4d4d4d" stroke-width="0.75"/>
<line x1="322.87" y1="330.14" x2="324.20" y2="330.14" stroke="#4d4d4d" stroke-width="0.75"/>
<line x1="322.87" y1="336.46" x2="324.20" y2="336.46" stroke="#4d4d4d" stroke-width="0.75"/>
<line x1="322.87" y1="330.14" x2="322.87" y2="336.46" stroke="#4d4d4d" stroke-width="0.75"/>
<line x1="321.54" y1="323.81" x2="324.20" y2="323.81" stroke="#4d4d4d" stroke-width="0.75"/>
<line x1="321.54" y1="333.30" x2="322.87" y2="333.30" stroke="#4d4d4d" stroke-width="0.75"/>
<line x1="321.54" y1="323.81" x2="321.54" y2="333.30" stroke="#4d4d4d" stroke-width="0.75"/>
<line x1="323.18" y1="342.79" x2="324.20" y2="342.79" stroke="#4d4d4d" stroke-width="0.75"/>
<line x1="323.18" y1="349.11" x2="324.20" y2="349.11" stroke="#4d4d4d" stroke-width="0.75"/>
<line x1="323.18" y1="342.79" x2="323.18" y2="349.11" stroke="#4d4d4d" stroke-width="0.75"/>
<line x1="323.48" y1="355.44" x2="324.20" y2="355.44" stroke="#4d4d4d" stroke-width="0.75"/>
<line x1="323.48" y1="361.76" x2="324.20" y2="361.76" stroke="#4d4d4d" stroke-width="0.75"/>
<line x1="323.48" y1="355.44" x2="323.48" y2="361.76" stroke="#4d4d4d" stroke-width="0.75"/>
<line x1="322.15" y1="345.95" x2="323.18" y2="345.95" stroke="#4d4d4d" stroke-width="0.75"/>
<line x1="322.15" y1="358.60" x2="323.48" y2="358.60" stroke="#4d4d4d" stroke-width="0.75"/>
<line x1="322.15" y1="345.95" x2="322.15" y2="358.60" stroke="#4d4d4d" stroke-width="0.75"/>
<line x1="320.10" y1="328.56" x2="321.54" y2="328.56" stroke="#4d4d4d" stroke-width="0.75"/>
<line x1="320.10" y1="352.27" x2="322.15" y2="352.27" stroke="#4d4d4d" stroke-width="0.75"/>
<line x1="320.10" y1="328.56" x2="320.10" y2="352.27" stroke="#4d4d4d" stroke-width="0.75"/>
<line x1="316.00" y1="300.09" x2="318.87" y2="300.09" stroke="#4d4d4d" stroke-width="0.75"/>
<line x1="316.00" y1="340.42" x2="320.10" y2="340.42" stroke="#4d4d4d" stroke-width="0.75"/>
<line x1="316.00" y1="300.09" x2="316.00" y2="340.42" stroke="#4d4d4d" stroke-width="0.75"/>
<line x1="321.10" y1="374.41" x2="324.20" y2="374.41" stroke="#4d4d4d" stroke-width="0.75"/>
<line x1="321.10" y1="380.74" x2="324.20" y2="380.74" stroke="#4d4d4d" stroke-width="0.75"/>
<line x1="321.10" y1="374.41" x2="321.10" y2="380.74" stroke="#4d4d4d" stroke-width="0.75"/>
<line x1="318.00" y1="368.09" x2="324.20" y2="368.09" stroke="#4d4d4d" stroke-width="0.75"/>
<line x1="318.00" y1="377.58" x2="321.10" y2="377.58" stroke="#4d4d4d" stroke-width="0.75"/>
<line x1="318.00" y1="368.09" x2="318.00" y2="377.58" stroke="#4d4d4d" stroke-width="0.75"/>
<line x1="313.70" y1="320.25" x2="316.00" y2="320.25" stroke="#4d4d4d" stroke-width="0.75"/>
<line x1="313.70" y1="372.83" x2="318.00" y2="372.83" stroke="#4d4d4d" stroke-width="0.75"/>
<line x1="313.70" y1="320.25" x2="313.70" y2="372.83" stroke="#4d4d4d" stroke-width="0.75"/>
<line x1="317.30" y1="387.06" x2="324.20" y2="387.06" stroke="#4d4d4d" stroke-width="0.75"/>
<line x1="317.30" y1="393.39" x2="324.20" y2="393.39" stroke="#4d4d4d" stroke-width="0.75"/>
<line x1="317.30" y1="387.06" x2="317.30" y2="393.39" stroke="#4d4d4d" stroke-width="0.75"/>
<line x1="306.90" y1="346.54" x2="313.70" y2="346.54" stroke="#4d4d4d" stroke-width="0.75"/>
<line x1="306.90" y1="390.23" x2="317.30" y2="390.23" stroke="#4d4d4d" stroke-width="0.75"/>
<line x1="306.90" y1="346.54" x2="306.90" y2="390.23" stroke="#4d4d4d" stroke-width="0.75"/>
<line x1="315.00" y1="399.71" x2="324.20" y2="399.71" stroke="#4d4d4d" stroke-width="0.75"/>
<line x1="315.00" y1="406.04" x2="324.20" y2="406.04" stroke="#4d4d4d" stroke-width="0.75"/>
<line x1="315.00" y1="399.71" x2="315.00" y2="406.04" stroke="#4d4d4d" stroke-width="0.75"/>
<line x1="314.00" y1="412.36" x2="324.20" y2="412.36" stroke="#4d4d4d" stroke-width="0.75"/>
<line x1="314.00" y1="418.69" x2="324.20" y2="418.69" stroke="#4d4d4d" stroke-width="0.75"/>
<line x1="314.00" y1="412.36" x2="314.00" y2="418.69" stroke="#4d4d4d" stroke-width="0.75"/>
<line x1="306.20" y1="402.88" x2="315.00" y2="402.88" stroke="#4d4d4d" stroke-width="0.75"/>
<line x1="306.20" y1="415.52" x2="314.00" y2="415.52" stroke="#4d4d4d" stroke-width="0.75"/>
<line x1="306.20" y1="402.88" x2="306.20" y2="415.52" stroke="#4d4d4d" stroke-width="0.75"/>
<line x1="301.50" y1="368.38" x2="306.90" y2="368.38" stroke="#4d4d4d" stroke-width="0.75"/>
<line x1="301.50" y1="409.20" x2="306.20" y2="409.20" stroke="#4d4d4d" stroke-width="0.75"/>
<line x1="301.50" y1="368.38" x2="301.50" y2="409.20" stroke="#4d4d4d" stroke-width="0.75"/>
<line x1="315.30" y1="425.01" x2="324.20" y2="425.01" stroke="#4d4d4d" stroke-width="0.75"/>
<line x1="315.30" y1="431.34" x2="324.20" y2="431.34" stroke="#4d4d4d" stroke-width="0.75"/>
<line x1="315.30" y1="425.01" x2="315.30" y2="431.34" stroke="#4d4d4d" stroke-width="0.75"/>
<line x1="319.30" y1="437.66" x2="324.20" y2="437.66" stroke="#4d4d4d" stroke-width="0.75"/>
<line x1="319.30" y1="443.99" x2="324.20" y2="443.99" stroke="#4d4d4d" stroke-width="0.75"/>
<line x1="319.30" y1="437.66" x2="319.30" y2="443.99" stroke="#4d4d4d" stroke-width="0.75"/>
<line x1="320.77" y1="450.31" x2="324.20" y2="450.31" stroke="#4d4d4d" stroke-width="0.75"/>
<line x1="320.77" y1="456.64" x2="324.20" y2="456.64" stroke="#4d4d4d" stroke-width="0.75"/>
<line x1="320.77" y1="450.31" x2="320.77" y2="456.64" stroke="#4d4d4d" stroke-width="0.75"/>
<line x1="314.40" y1="440.82" x2="319.30" y2="440.82" stroke="#4d4d4d" stroke-width="0.75"/>
<line x1="314.40" y1="453.48" x2="320.77" y2="453.48" stroke="#4d4d4d" stroke-width="0.75"/>
<line x1="314.40" y1="440.82" x2="314.40" y2="453.48" stroke="#4d4d4d" stroke-width="0.75"/>
<line x1="321.10" y1="462.96" x2="324.20" y2="462.96" stroke="#4d4d4d" stroke-width="0.75"/>
<line x1="321.10" y1="469.29" x2="324.20" y2="469.29" stroke="#4d4d4d" stroke-width="0.75"/>
<line x1="321.10" y1="462.96" x2="321.10" y2="469.29" stroke="#4d4d4d" stroke-width="0.75"/>
<line x1="322.03" y1="475.61" x2="324.20" y2="475.61" stroke="#4d4d4d" stroke-width="0.75"/>
<line x1="322.03" y1="481.94" x2="324.20" y2="481.94" stroke="#4d4d4d" stroke-width="0.75"/>
<line x1="322.03" y1="475.61" x2="322.03" y2="481.94" stroke="#4d4d4d" stroke-width="0.75"/>
<line x1="318.00" y1="466.12" x2="321.10" y2="466.12" stroke="#4d4d4d" stroke-width="0.75"/>
<line x1="318.00" y1="478.77" x2="322.03" y2="478.77" stroke="#4d4d4d" stroke-width="0.75"/>
<line x1="318.00" y1="466.12" x2="318.00" y2="478.77" stroke="#4d4d4d" stroke-width="0.75"/>
<line x1="322.51" y1="488.26" x2="324.20" y2="488.26" stroke="#4d4d4d" stroke-width="0.75"/>
<line x1="322.51" y1="494.59" x2="324.20" y2="494.59" stroke="#4d4d4d" stroke-width="0.75"/>
<line x1="322.51" y1="488.26" x2="322.51" y2="494.59" stroke="#4d4d4d" stroke-width="0.75"/>
<line x1="323.02" y1="500.91" x2="324.20" y2="500.91" stroke="#4d4d4d" stroke-width="0.75"/>
<line x1="323.02" y1="507.24" x2="324.20" y2="507.24" stroke="#4d4d4d" stroke-width="0.75"/>
<line x1="323.02" y1="500.91" x2="323.02" y2="507.24" stroke="#4d4d4d" stroke-width="0.75"/>
<line x1="320.82" y1="491.42" x2="322.51" y2="491.42" stroke="#4d4d4d" stroke-width="0.75"/>
<line x1="320.82" y1="504.07" x2="323.02" y2="504.07" stroke="#4d4d4d" stroke-width="0.75"/>
<line x1="320.82" y1="491.42" x2="320.82" y2="504.07" stroke="#4d4d4d" stroke-width="0.75"/>
<line x1="322.90" y1="513.56" x2="324.20" y2="513.56" stroke="#4d4d4d" stroke-width="0.75"/>
<line x1="322.90" y1="519.89" x2="324.20" y2="519.89" stroke="#4d4d4d" stroke-width="0.75"/>
<line x1="322.90" y1="513.56" x2="322.90" y2="519.89" stroke="#4d4d4d" stroke-width="0.75"/>
<line x1="323.29" y1="526.21" x2="324.20" y2="526.21" stroke="#4d4d4d" stroke-width="0.75"/>
<line x1="323.29" y1="532.54" x2="324.20" y2="532.54" stroke="#4d4d4d" stroke-width="0.75"/>
<line x1="323.29" y1="526.21" x2="323.29" y2="532.54" stroke="#4d4d4d" stroke-width="0.75"/>
<line x1="321.60" y1="516.73" x2="322.90" y2="516.73" stroke="#4d4d4d" stroke-width="0.75"/>
<line x1="321.60" y1="529.38" x2="323.29" y2="529.38" stroke="#4d4d4d" stroke-width="0.75"/>
<line x1="321.60" y1="516.73" x2="321.60" y2="529.38" stroke="#4d4d4d" stroke-width="0.75"/>
<line x1="319.00" y1="497.75" x2="320.82" y2="497.75" stroke="#4d4d4d" stroke-width="0.75"/>
<line x1="319.00" y1="523.05" x2="321.60" y2="523.05" stroke="#4d4d4d" stroke-width="0.75"/>
<line x1="319.00" y1="497.75" x2="319.00" y2="523.05" stroke="#4d4d4d" stroke-width="0.75"/>
<line x1="322.51" y1="538.86" x2="324.20" y2="538.86" stroke="#4d4d4d" stroke-width="0.75"/>
<line x1="322.51" y1="545.19" x2="324.20" y2="545.19" stroke="#4d4d4d" stroke-width="0.75"/>
<line x1="322.51" y1="538.86" x2="322.51" y2="545.19" stroke="#4d4d4d" stroke-width="0.75"/>
<line x1="323.02" y1="551.51" x2="324.20" y2="551.51" stroke="#4d4d4d" stroke-width="0.75"/>
<line x1="323.02" y1="557.84" x2="324.20" y2="557.84" stroke="#4d4d4d" stroke-width="0.75"/>
<line x1="323.02" y1="551.51" x2="323.02" y2="557.84" stroke="#4d4d4d" stroke-width="0.75"/>
<line x1="320.82" y1="542.02" x2="322.51" y2="542.02" stroke="#4d4d4d" stroke-width="0.75"/>
<line x1="320.82" y1="554.67" x2="323.02" y2="554.67" stroke="#4d4d4d" stroke-width="0.75"/>
<line x1="320.82" y1="542.02" x2="320.82" y2="554.67" stroke="#4d4d4d" stroke-width="0.75"/>
<line x1="322.51" y1="564.16" x2="324.20" y2="564.16" stroke="#4d4d4d" stroke-width="0.75"/>
<line x1="322.51" y1="570.49" x2="324.20" y2="570.49" stroke="#4d4d4d" stroke-width="0.75"/>
<line x1="322.51" y1="564.16" x2="322.51" y2="570.49" stroke="#4d4d4d" stroke-width="0.75"/>
<line x1="323.55" y1="583.14" x2="324.20" y2="583.14" stroke="#4d4d4d" stroke-width="0.75"/>
<line x1="323.55" y1="589.46" x2="324.20" y2="589.46" stroke="#4d4d4d" stroke-width="0.75"/>
<line x1="323.55" y1="583.14" x2="323.55" y2="589.46" stroke="#4d4d4d" stroke-width="0.75"/>
<line x1="322.90" y1="576.81" x2="324.20" y2="576.81" stroke="#4d4d4d" stroke-width="0.75"/>
<line x1="322.90" y1="586.30" x2="323.55" y2="586.30" stroke="#4d4d4d" stroke-width="0.75"/>
<line x1="322.90" y1="576.81" x2="322.90" y2="586.30" stroke="#4d4d4d" stroke-width="0.75"/>
<line x1="321.60" y1="567.33" x2="322.51" y2="567.33" stroke="#4d4d4d" stroke-width="0.75"/>
<line x1="321.60" y1="581.56" x2="322.90" y2="581.56" stroke="#4d4d4d" stroke-width="0.75"/>
<line x1="321.60" y1="567.33" x2="321.60" y2="581.56" stroke="#4d4d4d" stroke-width="0.75"/>
<line x1="319.00" y1="548.35" x2="320.82" y2="548.35" stroke="#4d4d4d" stroke-width="0.75"/>
<line x1="319.00" y1="574.44" x2="321.60" y2="574.44" stroke="#4d4d4d" stroke-width="0.75"/>
<line x1="319.00" y1="548.35" x2="319.00" y2="574.44" stroke="#4d4d4d" stroke-width="0.75"/>
<line x1="317.30" y1="510.40" x2="319.00" y2="510.40" stroke="#4d4d4d" stroke-width="0.75"/>
<line x1="317.30" y1="561.40" x2="319.00" y2="561.40" stroke="#4d4d4d" stroke-width="0.75"/>
<line x1="317.30" y1="510.40" x2="317.30" y2="561.40" stroke="#4d4d4d" stroke-width="0.75"/>
<line x1="314.40" y1="472.45" x2="318.00" y2="472.45" stroke="#4d4d4d" stroke-width="0.75"/>
<line x1="314.40" y1="535.90" x2="317.30" y2="535.90" stroke="#4d4d4d" stroke-width="0.75"/>
<line x1="314.40" y1="472.45" x2="314.40" y2="535.90" stroke="#4d4d4d" stroke-width="0.75"/>
<line x1="311.00" y1="447.15" x2="314.40" y2="447.15" stroke="#4d4d4d" stroke-width="0.75"/>
<line x1="311.00" y1="504.17" x2="314.40" y2="504.17" stroke="#4d4d4d" stroke-width="0.75"/>
<line x1="311.00" y1="447.15" x2="311.00" y2="504.17" stroke="#4d4d4d" stroke-width="0.75"/>
<line x1="298.30" y1="428.17" x2="315.30" y2="428.17" stroke="#4d4d4d" stroke-width="0.75"/>
<line x1="298.30" y1="475.66" x2="311.00" y2="475.66" stroke="#4d4d4d" stroke-width="0.75"/>
<line x1="298.30" y1="428.17" x2="298.30" y2="475.66" stroke="#4d4d4d" stroke-width="0.75"/>
<line x1="293.80" y1="388.79" x2="301.50" y2="388.79" stroke="#4d4d4d" stroke-width="0.75"/>
<line x1="293.80" y1="451.92" x2="298.30" y2="451.92" stroke="#4d4d4d" stroke-width="0.75"/>
<line x1="293.80" y1="388.79" x2="293.80" y2="451.92" stroke="#4d4d4d" stroke-width="0.75"/>
<defs><linearGradient id="cb471" x1="0" y1="0" x2="0" y2="1"><stop offset="0" stop-color="#c81018"/><stop offset="0.25" stop-color="#e4888c"/><stop offset="0.5" stop-color="#ffffff"/><stop offset="0.75" stop-color="#a2b8de"/><stop offset="1" stop-color="#4472be"/></linearGradient></defs>
<rect x="471.4" y="264.0" width="4.7000000000000455" height="67.10000000000002" fill="url(#cb471)"/>
<text x="478.30" y="273.10" font-size="5.5" fill="#222" stroke="#222" stroke-width="0.08">1.5</text>
<text x="478.30" y="281.80" font-size="5.5" fill="#222" stroke="#222" stroke-width="0.08">1</text>
<text x="478.30" y="290.70" font-size="5.5" fill="#222" stroke="#222" stroke-width="0.08">0.5</text>
<text x="478.30" y="299.80" font-size="5.5" fill="#222" stroke="#222" stroke-width="0.08">0</text>
<text x="478.30" y="308.70" font-size="5.5" fill="#222" stroke="#222" stroke-width="0.08">−0.5</text>
<text x="478.30" y="318.10" font-size="5.5" fill="#222" stroke="#222" stroke-width="0.08">−1</text>
<text x="478.30" y="327.00" font-size="5.5" fill="#222" stroke="#222" stroke-width="0.08">−1.5</text>
<text x="489.90" y="267.90" font-size="6.0" font-weight="bold" fill="#111" stroke="#111" stroke-width="0.08">Group</text>
<rect x="489.90" y="269.40" width="6.90" height="7.20" fill="#1fcfd6"/>
<rect x="489.90" y="276.60" width="6.90" height="7.20" fill="#f8877f"/>
<text x="498.60" y="274.90" font-size="5.5" fill="#222" stroke="#222" stroke-width="0.08">IR</text>
<text x="498.60" y="282.10" font-size="5.5" fill="#222" stroke="#222" stroke-width="0.08" textLength="31.80" lengthAdjust="spacingAndGlyphs">IR+BIBR1532</text>
<text x="507.60" y="233.40" font-size="19.6">E.</text>
<text x="667.30" y="209.60" font-size="6.0" text-anchor="middle" fill="#111" stroke="#111" stroke-width="0.08">Response To Oxidative Stress</text>
<rect x="556.3" y="213.3" width="222.0" height="75.30000000000001" fill="none" stroke="#3a3a3a" stroke-width="0.7"/>
<line x1="556.8" y1="281.8" x2="778.3" y2="281.8" stroke="#404040" stroke-width="1.3" stroke-dasharray="3.6 3.7"/>
<line x1="554.80" y1="226.00" x2="556.30" y2="226.00" stroke="#3a3a3a" stroke-width="0.5"/>
<text x="553.80" y="227.40" font-size="4.0" text-anchor="end" fill="#333" stroke="#333" stroke-width="0.08">0.3</text>
<line x1="554.80" y1="244.60" x2="556.30" y2="244.60" stroke="#3a3a3a" stroke-width="0.5"/>
<text x="553.80" y="246.00" font-size="4.0" text-anchor="end" fill="#333" stroke="#333" stroke-width="0.08">0.2</text>
<line x1="554.80" y1="263.20" x2="556.30" y2="263.20" stroke="#3a3a3a" stroke-width="0.5"/>
<text x="553.80" y="264.60" font-size="4.0" text-anchor="end" fill="#333" stroke="#333" stroke-width="0.08">0.1</text>
<line x1="554.80" y1="281.80" x2="556.30" y2="281.80" stroke="#3a3a3a" stroke-width="0.5"/>
<text x="553.80" y="283.20" font-size="4.0" text-anchor="end" fill="#333" stroke="#333" stroke-width="0.08">0.0</text>
<defs><linearGradient id="gE" gradientUnits="userSpaceOnUse" x1="0" y1="281.8" x2="0" y2="244.6"><stop offset="0" stop-color="#3ca04a"/><stop offset="0.45" stop-color="#a08a40"/><stop offset="1" stop-color="#e8332c"/></linearGradient></defs>
<polyline points="556.7,280.9 557.5,277.9 558.4,274.8 559.2,271.9 560.0,265.3 560.7,259.9 561.4,251.9 562.3,250.8 563.2,249.8 564.1,245.6 565.0,243.1 566.0,240.2 567.0,241.0 567.9,241.0 568.9,242.6 569.8,243.3 570.6,239.3 571.5,237.7 572.3,235.6 573.0,236.8 573.8,235.4 574.5,232.6 575.3,233.8 576.3,229.6 577.3,229.1 578.3,225.8 579.3,223.6 580.1,224.6 580.9,220.8 581.6,220.8 582.4,223.2 583.4,221.9 584.4,219.0 585.3,220.0 586.2,217.4 586.9,217.8 587.7,216.2 588.4,218.5 589.1,218.4 589.9,219.9 590.6,219.7 591.4,219.4 592.8,220.6 594.1,221.5 595.5,222.6 596.8,223.2 598.2,224.3 599.5,225.6 601.2,225.2 603.0,226.8 604.6,226.5 606.3,226.7 608.0,225.5 610.0,222.2 611.3,221.3 612.6,221.0 613.9,220.8 615.2,219.3 616.5,220.2 617.9,218.5 619.2,219.5 620.6,219.2 621.9,218.5 623.3,218.9 624.6,218.4 626.0,218.5 627.2,218.2 628.5,218.3 629.7,218.6 630.9,219.2 632.1,218.8 633.3,219.3 634.6,219.6 635.8,219.7 637.0,220.0 638.2,220.8 639.4,221.7 640.6,222.6 641.8,222.9 643.0,224.1 644.2,224.9 645.4,225.7 646.7,225.7 648.0,227.0 649.2,227.1 650.5,227.9 651.8,228.7 653.1,229.6 654.4,229.8 655.6,230.9 656.9,231.3 658.2,231.8 659.4,232.8 660.7,233.6 661.9,234.6 663.1,235.6 664.4,237.0 665.6,238.2 666.8,238.6 668.0,239.5 669.3,241.1 670.5,241.8 671.7,242.7 673.0,243.5 674.2,244.8 675.4,245.9 676.7,246.6 677.9,247.6 679.2,248.3 680.4,249.9 681.6,250.3 682.9,251.6 684.1,252.8 685.3,253.3 686.6,254.7 687.8,255.8 689.1,256.6 690.3,257.7 691.5,258.0 692.8,259.1 694.0,259.7 695.2,261.0 696.5,261.4 697.7,262.3 698.9,263.5 700.1,264.2 701.4,265.1 702.6,265.5 703.8,266.4 705.1,267.4 706.3,268.0 707.5,268.6 708.8,269.5 710.0,270.1 711.3,271.1 712.5,272.3 713.8,273.0 715.0,273.6 716.2,274.4 717.4,275.2 718.6,276.0 719.9,277.0 721.1,278.3 722.3,279.3 723.6,279.5 724.9,280.5 726.1,281.1 727.4,281.7 728.7,282.3 730.1,282.5 731.4,282.3 732.8,282.7 734.2,282.5 735.6,282.8 736.9,283.1 738.3,283.1 739.6,283.0 740.9,283.6 742.1,283.5 743.4,283.6 744.7,283.3 746.0,283.8 747.4,283.6 748.8,283.8 750.2,283.6 751.6,283.8 753.0,283.7 754.4,283.7 755.8,283.2 757.2,283.3 758.6,283.1 760.0,283.0 761.2,282.6 762.4,282.8 763.6,282.8 764.8,282.5 766.0,282.6 767.2,282.5 768.5,281.5 769.7,280.8 771.0,279.8 772.3,279.7 773.6,279.3 774.9,279.7 776.2,280.5 777.5,281.0" fill="none" stroke="url(#gE)" stroke-width="0.9" stroke-linejoin="round"/>
<text x="711.80" y="232.00" font-size="4.75" font-style="italic" fill="#222" stroke="#222" stroke-width="0.08">NES: 1.21</text>
<text x="711.80" y="239.10" font-size="4.75" font-style="italic" fill="#222" stroke="#222" stroke-width="0.08">Pvalue: 0.03</text>
<text x="711.80" y="246.10" font-size="4.75" font-style="italic" fill="#222" stroke="#222" stroke-width="0.08">Adjusted Pvalue: 0.27</text>
<defs><linearGradient id="sE" gradientUnits="userSpaceOnUse" x1="556.3" y1="0" x2="778.3" y2="0"><stop offset="0.000" stop-color="#b01c26"/><stop offset="0.197" stop-color="#c13a42"/><stop offset="0.318" stop-color="#d56a72"/><stop offset="0.422" stop-color="#e5a3a8"/><stop offset="0.490" stop-color="#f2d3d5"/><stop offset="0.539" stop-color="#f7eeef"/><stop offset="0.580" stop-color="#e8eef6"/><stop offset="0.647" stop-color="#c6d6ec"/><stop offset="0.737" stop-color="#9ab8de"/><stop offset="0.850" stop-color="#6c96cc"/><stop offset="1.000" stop-color="#467bbd"/></linearGradient></defs>
<rect x="556.30" y="310.90" width="222.00" height="8.80" fill="url(#sE)"/>
<rect x="556.50" y="290.2" width="1.0" height="20.70" fill="#111"/>
<rect x="557.50" y="290.2" width="1.0" height="20.70" fill="#111"/>
<rect x="558.50" y="290.2" width="1.0" height="20.70" fill="#444"/>
<rect x="559.50" y="290.2" width="1.0" height="20.70" fill="#000"/>
<rect x="560.50" y="290.2" width="1.0" height="20.70" fill="#333"/>
<rect x="561.50" y="290.2" width="1.0" height="20.70" fill="#000"/>
<rect x="563.80" y="290.2" width="1.0" height="20.70" fill="#333"/>
<rect x="564.80" y="290.2" width="1.0" height="20.70" fill="#111"/>
<rect x="565.80" y="290.2" width="1.0" height="20.70" fill="#222"/>
<rect x="566.80" y="290.2" width="1.0" height="20.70" fill="#111"/>
<rect x="567.80" y="290.2" width="1.0" height="20.70" fill="#111"/>
<rect x="568.80" y="290.2" width="1.0" height="20.70" fill="#000"/>
<rect x="571.70" y="290.2" width="1.0" height="20.70" fill="#333"/>
<rect x="572.70" y="290.2" width="1.0" height="20.70" fill="#000"/>
<rect x="573.70" y="290.2" width="1.0" height="20.70" fill="#333"/>
<rect x="574.70" y="290.2" width="1.0" height="20.70" fill="#333"/>
<rect x="575.70" y="290.2" width="1.0" height="20.70" fill="#333"/>
<rect x="576.70" y="290.2" width="1.0" height="20.70" fill="#000"/>
<rect x="577.00" y="290.2" width="1.0" height="20.70" fill="#333"/>
<rect x="581.80" y="290.2" width="1.0" height="20.70" fill="#444"/>
<rect x="582.80" y="290.2" width="1.0" height="20.70" fill="#222"/>
<rect x="583.80" y="290.2" width="1.0" height="20.70" fill="#111"/>
<rect x="585.80" y="290.2" width="1.0" height="20.70" fill="#000"/>
<rect x="587.80" y="290.2" width="1.0" height="20.70" fill="#444"/>
<rect x="599.20" y="290.2" width="1.0" height="20.70" fill="#333"/>
<rect x="601.20" y="290.2" width="1.0" height="20.70" fill="#222"/>
<rect x="603.20" y="290.2" width="1.0" height="20.70" fill="#222"/>
<rect x="603.70" y="290.2" width="1.0" height="20.70" fill="#000"/>
<rect x="605.70" y="290.2" width="1.0" height="20.70" fill="#222"/>
<rect x="606.60" y="290.2" width="1.0" height="20.70" fill="#111"/>
<rect x="608.60" y="290.2" width="1.0" height="20.70" fill="#111"/>
<rect x="609.60" y="290.2" width="1.0" height="20.70" fill="#333"/>
<rect x="612.60" y="290.2" width="1.0" height="20.70" fill="#000"/>
<rect x="615.60" y="290.2" width="1.0" height="20.70" fill="#111"/>
<rect x="616.60" y="290.2" width="1.0" height="20.70" fill="#333"/>
<rect x="617.60" y="290.2" width="1.0" height="20.70" fill="#444"/>
<rect x="618.60" y="290.2" width="1.0" height="20.70" fill="#000"/>
<rect x="620.60" y="290.2" width="1.0" height="20.70" fill="#444"/>
<rect x="622.60" y="290.2" width="1.0" height="20.70" fill="#000"/>
<rect x="623.60" y="290.2" width="1.0" height="20.70" fill="#222"/>
<rect x="624.30" y="290.2" width="1.0" height="20.70" fill="#333"/>
<rect x="627.30" y="290.2" width="1.0" height="20.70" fill="#333"/>
<rect x="628.70" y="290.2" width="1.0" height="20.70" fill="#333"/>
<rect x="629.70" y="290.2" width="1.0" height="20.70" fill="#000"/>
<rect x="630.70" y="290.2" width="1.0" height="20.70" fill="#222"/>
<rect x="633.70" y="290.2" width="1.0" height="20.70" fill="#222"/>
<rect x="634.70" y="290.2" width="1.0" height="20.70" fill="#333"/>
<rect x="636.70" y="290.2" width="1.0" height="20.70" fill="#444"/>
<rect x="637.60" y="290.2" width="1.0" height="20.70" fill="#222"/>
<rect x="638.60" y="290.2" width="1.0" height="20.70" fill="#111"/>
<rect x="640.60" y="290.2" width="1.0" height="20.70" fill="#333"/>
<rect x="645.60" y="290.2" width="1.0" height="20.70" fill="#222"/>
<rect x="646.40" y="290.2" width="1.0" height="20.70" fill="#111"/>
<rect x="648.40" y="290.2" width="1.0" height="20.70" fill="#333"/>
<rect x="649.40" y="290.2" width="1.0" height="20.70" fill="#222"/>
<rect x="650.40" y="290.2" width="1.0" height="20.70" fill="#222"/>
<rect x="651.40" y="290.2" width="1.0" height="20.70" fill="#111"/>
<rect x="652.40" y="290.2" width="1.0" height="20.70" fill="#111"/>
<rect x="653.40" y="290.2" width="1.0" height="20.70" fill="#111"/>
<rect x="654.40" y="290.2" width="1.0" height="20.70" fill="#111"/>
<rect x="656.80" y="290.2" width="1.0" height="20.70" fill="#000"/>
<rect x="657.80" y="290.2" width="1.0" height="20.70" fill="#000"/>
<rect x="659.80" y="290.2" width="1.0" height="20.70" fill="#444"/>
<rect x="660.80" y="290.2" width="1.0" height="20.70" fill="#333"/>
<rect x="661.80" y="290.2" width="1.0" height="20.70" fill="#222"/>
<rect x="663.80" y="290.2" width="1.0" height="20.70" fill="#333"/>
<rect x="664.80" y="290.2" width="1.0" height="20.70" fill="#333"/>
<rect x="667.60" y="290.2" width="1.0" height="20.70" fill="#111"/>
<rect x="683.40" y="290.2" width="1.0" height="20.70" fill="#111"/>
<rect x="690.30" y="290.2" width="1.0" height="20.70" fill="#222"/>
<rect x="691.30" y="290.2" width="1.0" height="20.70" fill="#333"/>
<rect x="692.30" y="290.2" width="1.0" height="20.70" fill="#444"/>
<rect x="693.30" y="290.2" width="1.0" height="20.70" fill="#222"/>
<rect x="694.30" y="290.2" width="1.0" height="20.70" fill="#111"/>
<rect x="695.30" y="290.2" width="1.0" height="20.70" fill="#444"/>
<rect x="696.30" y="290.2" width="1.0" height="20.70" fill="#000"/>
<rect x="697.30" y="290.2" width="1.0" height="20.70" fill="#333"/>
<rect x="698.30" y="290.2" width="1.0" height="20.70" fill="#222"/>
<rect x="699.30" y="290.2" width="1.0" height="20.70" fill="#444"/>
<rect x="700.30" y="290.2" width="1.0" height="20.70" fill="#222"/>
<rect x="701.30" y="290.2" width="1.0" height="20.70" fill="#222"/>
<rect x="703.30" y="290.2" width="1.0" height="20.70" fill="#333"/>
<rect x="704.30" y="290.2" width="1.0" height="20.70" fill="#000"/>
<rect x="705.30" y="290.2" width="1.0" height="20.70" fill="#222"/>
<rect x="707.30" y="290.2" width="1.0" height="20.70" fill="#444"/>
<rect x="708.30" y="290.2" width="1.0" height="20.70" fill="#222"/>
<rect x="709.30" y="290.2" width="1.0" height="20.70" fill="#222"/>
<rect x="710.30" y="290.2" width="1.0" height="20.70" fill="#444"/>
<rect x="711.30" y="290.2" width="1.0" height="20.70" fill="#444"/>
<rect x="712.30" y="290.2" width="1.0" height="20.70" fill="#111"/>
<rect x="713.30" y="290.2" width="1.0" height="20.70" fill="#000"/>
<rect x="714.30" y="290.2" width="1.0" height="20.70" fill="#333"/>
<rect x="715.10" y="290.2" width="1.0" height="20.70" fill="#444"/>
<rect x="716.10" y="290.2" width="1.0" height="20.70" fill="#000"/>
<rect x="717.10" y="290.2" width="1.0" height="20.70" fill="#333"/>
<rect x="722.10" y="290.2" width="1.0" height="20.70" fill="#222"/>
<rect x="724.10" y="290.2" width="1.0" height="20.70" fill="#111"/>
<rect x="725.10" y="290.2" width="1.0" height="20.70" fill="#333"/>
<rect x="726.10" y="290.2" width="1.0" height="20.70" fill="#222"/>
<rect x="727.10" y="290.2" width="1.0" height="20.70" fill="#000"/>
<rect x="728.10" y="290.2" width="1.0" height="20.70" fill="#000"/>
<rect x="729.10" y="290.2" width="1.0" height="20.70" fill="#222"/>
<rect x="730.10" y="290.2" width="1.0" height="20.70" fill="#333"/>
<rect x="731.10" y="290.2" width="1.0" height="20.70" fill="#000"/>
<rect x="732.10" y="290.2" width="1.0" height="20.70" fill="#444"/>
<rect x="734.10" y="290.2" width="1.0" height="20.70" fill="#111"/>
<rect x="735.10" y="290.2" width="1.0" height="20.70" fill="#444"/>
<rect x="738.10" y="290.2" width="1.0" height="20.70" fill="#333"/>
<rect x="739.10" y="290.2" width="1.0" height="20.70" fill="#000"/>
<rect x="740.10" y="290.2" width="1.0" height="20.70" fill="#333"/>
<rect x="742.10" y="290.2" width="1.0" height="20.70" fill="#333"/>
<rect x="745.00" y="290.2" width="1.0" height="20.70" fill="#222"/>
<rect x="746.00" y="290.2" width="1.0" height="20.70" fill="#444"/>
<rect x="751.00" y="290.2" width="1.0" height="20.70" fill="#333"/>
<rect x="752.00" y="290.2" width="1.0" height="20.70" fill="#333"/>
<rect x="754.50" y="290.2" width="1.0" height="20.70" fill="#111"/>
<rect x="755.50" y="290.2" width="1.0" height="20.70" fill="#333"/>
<rect x="757.50" y="290.2" width="1.0" height="20.70" fill="#444"/>
<rect x="758.50" y="290.2" width="1.0" height="20.70" fill="#111"/>
<rect x="759.50" y="290.2" width="1.0" height="20.70" fill="#444"/>
<rect x="760.50" y="290.2" width="1.0" height="20.70" fill="#222"/>
<rect x="762.50" y="290.2" width="1.0" height="20.70" fill="#333"/>
<rect x="765.50" y="290.2" width="1.0" height="20.70" fill="#444"/>
<rect x="768.50" y="290.2" width="1.0" height="20.70" fill="#000"/>
<rect x="769.50" y="290.2" width="1.0" height="20.70" fill="#111"/>
<rect x="771.50" y="290.2" width="1.0" height="20.70" fill="#444"/>
<rect x="773.50" y="290.2" width="1.0" height="20.70" fill="#222"/>
<rect x="716.1" y="310.9" width="0.6" height="8.8" fill="#ffffff" opacity="0.20"/>
<rect x="594.4" y="310.9" width="0.6" height="8.8" fill="#ffffff" opacity="0.21"/>
<rect x="685.2" y="310.9" width="0.6" height="8.8" fill="#ffffff" opacity="0.18"/>
<rect x="649.7" y="310.9" width="0.6" height="8.8" fill="#ffffff" opacity="0.17"/>
<rect x="728.3" y="310.9" width="0.6" height="8.8" fill="#ffffff" opacity="0.18"/>
<rect x="716.2" y="310.9" width="0.6" height="8.8" fill="#ffffff" opacity="0.06"/>
<rect x="591.8" y="310.9" width="0.6" height="8.8" fill="#ffffff" opacity="0.14"/>
<rect x="700.6" y="310.9" width="0.6" height="8.8" fill="#ffffff" opacity="0.09"/>
<rect x="708.6" y="310.9" width="0.6" height="8.8" fill="#ffffff" opacity="0.18"/>
<rect x="565.6" y="310.9" width="0.6" height="8.8" fill="#ffffff" opacity="0.14"/>
<rect x="606.5" y="310.9" width="0.6" height="8.8" fill="#ffffff" opacity="0.06"/>
<rect x="585.9" y="310.9" width="0.6" height="8.8" fill="#ffffff" opacity="0.11"/>
<rect x="596.6" y="310.9" width="0.6" height="8.8" fill="#ffffff" opacity="0.09"/>
<rect x="564.2" y="310.9" width="0.6" height="8.8" fill="#ffffff" opacity="0.14"/>
<rect x="640.7" y="310.9" width="0.6" height="8.8" fill="#ffffff" opacity="0.17"/>
<rect x="687.3" y="310.9" width="0.6" height="8.8" fill="#ffffff" opacity="0.10"/>
<rect x="756.8" y="310.9" width="0.6" height="8.8" fill="#ffffff" opacity="0.05"/>
<rect x="646.3" y="310.9" width="0.6" height="8.8" fill="#ffffff" opacity="0.11"/>
<rect x="647.3" y="310.9" width="0.6" height="8.8" fill="#ffffff" opacity="0.07"/>
<rect x="740.9" y="310.9" width="0.6" height="8.8" fill="#ffffff" opacity="0.12"/>
<rect x="564.3" y="310.9" width="0.6" height="8.8" fill="#ffffff" opacity="0.17"/>
<rect x="577.4" y="310.9" width="0.6" height="8.8" fill="#ffffff" opacity="0.16"/>
<rect x="631.6" y="310.9" width="0.6" height="8.8" fill="#ffffff" opacity="0.17"/>
<rect x="769.0" y="310.9" width="0.6" height="8.8" fill="#ffffff" opacity="0.21"/>
<rect x="649.3" y="310.9" width="0.6" height="8.8" fill="#ffffff" opacity="0.21"/>
<rect x="698.9" y="310.9" width="0.6" height="8.8" fill="#ffffff" opacity="0.12"/>
<rect x="587.8" y="310.9" width="0.6" height="8.8" fill="#ffffff" opacity="0.17"/>
<rect x="681.5" y="310.9" width="0.6" height="8.8" fill="#ffffff" opacity="0.24"/>
<rect x="771.2" y="310.9" width="0.6" height="8.8" fill="#ffffff" opacity="0.17"/>
<rect x="634.2" y="310.9" width="0.6" height="8.8" fill="#ffffff" opacity="0.23"/>
<rect x="556.5" y="310.9" width="0.6" height="8.8" fill="#ffffff" opacity="0.07"/>
<rect x="681.9" y="310.9" width="0.6" height="8.8" fill="#ffffff" opacity="0.17"/>
<rect x="587.5" y="310.9" width="0.6" height="8.8" fill="#ffffff" opacity="0.18"/>
<rect x="754.2" y="310.9" width="0.6" height="8.8" fill="#ffffff" opacity="0.13"/>
<rect x="652.1" y="310.9" width="0.6" height="8.8" fill="#ffffff" opacity="0.10"/>
<rect x="621.0" y="310.9" width="0.6" height="8.8" fill="#ffffff" opacity="0.24"/>
<rect x="640.6" y="310.9" width="0.6" height="8.8" fill="#ffffff" opacity="0.24"/>
<rect x="759.2" y="310.9" width="0.6" height="8.8" fill="#ffffff" opacity="0.17"/>
<rect x="614.0" y="310.9" width="0.6" height="8.8" fill="#ffffff" opacity="0.25"/>
<rect x="666.5" y="310.9" width="0.6" height="8.8" fill="#ffffff" opacity="0.13"/>
<rect x="627.2" y="310.9" width="0.6" height="8.8" fill="#ffffff" opacity="0.25"/>
<rect x="665.5" y="310.9" width="0.6" height="8.8" fill="#ffffff" opacity="0.11"/>
<rect x="662.2" y="310.9" width="0.6" height="8.8" fill="#ffffff" opacity="0.07"/>
<rect x="694.3" y="310.9" width="0.6" height="8.8" fill="#ffffff" opacity="0.14"/>
<rect x="621.4" y="310.9" width="0.6" height="8.8" fill="#ffffff" opacity="0.21"/>
<rect x="739.9" y="310.9" width="0.6" height="8.8" fill="#ffffff" opacity="0.05"/>
<rect x="674.5" y="310.9" width="0.6" height="8.8" fill="#ffffff" opacity="0.10"/>
<rect x="763.9" y="310.9" width="0.6" height="8.8" fill="#ffffff" opacity="0.21"/>
<rect x="610.8" y="310.9" width="0.6" height="8.8" fill="#ffffff" opacity="0.10"/>
<rect x="590.7" y="310.9" width="0.6" height="8.8" fill="#ffffff" opacity="0.25"/>
<rect x="621.4" y="310.9" width="0.6" height="8.8" fill="#ffffff" opacity="0.17"/>
<rect x="661.7" y="310.9" width="0.6" height="8.8" fill="#ffffff" opacity="0.18"/>
<rect x="690.4" y="310.9" width="0.6" height="8.8" fill="#ffffff" opacity="0.20"/>
<rect x="582.5" y="310.9" width="0.6" height="8.8" fill="#ffffff" opacity="0.20"/>
<rect x="623.1" y="310.9" width="0.6" height="8.8" fill="#ffffff" opacity="0.16"/>
<rect x="630.9" y="310.9" width="0.6" height="8.8" fill="#ffffff" opacity="0.11"/>
<rect x="673.9" y="310.9" width="0.6" height="8.8" fill="#ffffff" opacity="0.14"/>
<rect x="636.5" y="310.9" width="0.6" height="8.8" fill="#ffffff" opacity="0.20"/>
<rect x="687.5" y="310.9" width="0.6" height="8.8" fill="#ffffff" opacity="0.06"/>
<rect x="612.3" y="310.9" width="0.6" height="8.8" fill="#ffffff" opacity="0.14"/>
<rect x="759.8" y="310.9" width="0.6" height="8.8" fill="#ffffff" opacity="0.23"/>
<rect x="677.4" y="310.9" width="0.6" height="8.8" fill="#ffffff" opacity="0.05"/>
<rect x="729.1" y="310.9" width="0.6" height="8.8" fill="#ffffff" opacity="0.14"/>
<rect x="684.1" y="310.9" width="0.6" height="8.8" fill="#ffffff" opacity="0.19"/>
<rect x="696.7" y="310.9" width="0.6" height="8.8" fill="#ffffff" opacity="0.15"/>
<rect x="758.7" y="310.9" width="0.6" height="8.8" fill="#ffffff" opacity="0.13"/>
<rect x="643.3" y="310.9" width="0.6" height="8.8" fill="#ffffff" opacity="0.22"/>
<rect x="599.9" y="310.9" width="0.6" height="8.8" fill="#ffffff" opacity="0.11"/>
<rect x="740.6" y="310.9" width="0.6" height="8.8" fill="#ffffff" opacity="0.06"/>
<rect x="742.0" y="310.9" width="0.6" height="8.8" fill="#ffffff" opacity="0.19"/>
<rect x="652.4" y="310.9" width="0.6" height="8.8" fill="#ffffff" opacity="0.11"/>
<rect x="729.6" y="310.9" width="0.6" height="8.8" fill="#ffffff" opacity="0.23"/>
<rect x="588.0" y="310.9" width="0.6" height="8.8" fill="#ffffff" opacity="0.15"/>
<rect x="678.2" y="310.9" width="0.6" height="8.8" fill="#ffffff" opacity="0.15"/>
<rect x="629.7" y="310.9" width="0.6" height="8.8" fill="#ffffff" opacity="0.08"/>
<rect x="686.4" y="310.9" width="0.6" height="8.8" fill="#ffffff" opacity="0.21"/>
<rect x="571.5" y="310.9" width="0.6" height="8.8" fill="#ffffff" opacity="0.10"/>
<rect x="738.2" y="310.9" width="0.6" height="8.8" fill="#ffffff" opacity="0.21"/>
<rect x="703.6" y="310.9" width="0.6" height="8.8" fill="#ffffff" opacity="0.06"/>
<rect x="716.7" y="310.9" width="0.6" height="8.8" fill="#ffffff" opacity="0.25"/>
<rect x="777.9" y="310.9" width="0.6" height="8.8" fill="#ffffff" opacity="0.19"/>
<rect x="567.2" y="310.9" width="0.6" height="8.8" fill="#ffffff" opacity="0.22"/>
<rect x="605.0" y="310.9" width="0.6" height="8.8" fill="#ffffff" opacity="0.18"/>
<rect x="767.7" y="310.9" width="0.6" height="8.8" fill="#ffffff" opacity="0.19"/>
<rect x="586.2" y="310.9" width="0.6" height="8.8" fill="#ffffff" opacity="0.11"/>
<rect x="760.1" y="310.9" width="0.6" height="8.8" fill="#ffffff" opacity="0.08"/>
<rect x="691.9" y="310.9" width="0.6" height="8.8" fill="#ffffff" opacity="0.13"/>
<rect x="592.1" y="310.9" width="0.6" height="8.8" fill="#ffffff" opacity="0.17"/>
<rect x="566.0" y="310.9" width="0.6" height="8.8" fill="#ffffff" opacity="0.07"/>
<rect x="640.5" y="310.9" width="0.6" height="8.8" fill="#ffffff" opacity="0.06"/>
<rect x="569.1" y="310.9" width="0.6" height="8.8" fill="#ffffff" opacity="0.17"/>
<rect x="721.1" y="310.9" width="0.6" height="8.8" fill="#ffffff" opacity="0.23"/>
<rect x="586.1" y="310.9" width="0.6" height="8.8" fill="#ffffff" opacity="0.14"/>
<rect x="626.1" y="310.9" width="0.6" height="8.8" fill="#ffffff" opacity="0.17"/>
<rect x="665.0" y="310.9" width="0.6" height="8.8" fill="#ffffff" opacity="0.24"/>
<rect x="639.4" y="310.9" width="0.6" height="8.8" fill="#ffffff" opacity="0.06"/>
<rect x="711.1" y="310.9" width="0.6" height="8.8" fill="#ffffff" opacity="0.08"/>
<rect x="696.5" y="310.9" width="0.6" height="8.8" fill="#ffffff" opacity="0.15"/>
<rect x="758.4" y="310.9" width="0.6" height="8.8" fill="#ffffff" opacity="0.16"/>
<rect x="694.1" y="310.9" width="0.6" height="8.8" fill="#ffffff" opacity="0.10"/>
<rect x="678.8" y="310.9" width="0.6" height="8.8" fill="#ffffff" opacity="0.10"/>
<rect x="722.9" y="310.9" width="0.6" height="8.8" fill="#ffffff" opacity="0.15"/>
<rect x="586.0" y="310.9" width="0.6" height="8.8" fill="#ffffff" opacity="0.10"/>
<rect x="638.7" y="310.9" width="0.6" height="8.8" fill="#ffffff" opacity="0.20"/>
<rect x="596.1" y="310.9" width="0.6" height="8.8" fill="#ffffff" opacity="0.19"/>
<rect x="701.7" y="310.9" width="0.6" height="8.8" fill="#ffffff" opacity="0.07"/>
<rect x="704.6" y="310.9" width="0.6" height="8.8" fill="#ffffff" opacity="0.07"/>
<rect x="584.0" y="310.9" width="0.6" height="8.8" fill="#ffffff" opacity="0.17"/>
<rect x="609.3" y="310.9" width="0.6" height="8.8" fill="#ffffff" opacity="0.23"/>
<rect x="663.0" y="310.9" width="0.6" height="8.8" fill="#ffffff" opacity="0.11"/>
<rect x="733.1" y="310.9" width="0.6" height="8.8" fill="#ffffff" opacity="0.06"/>
<rect x="717.3" y="310.9" width="0.6" height="8.8" fill="#ffffff" opacity="0.06"/>
<rect x="589.8" y="310.9" width="0.6" height="8.8" fill="#ffffff" opacity="0.24"/>
<rect x="707.5" y="310.9" width="0.6" height="8.8" fill="#ffffff" opacity="0.09"/>
<rect x="582.1" y="310.9" width="0.6" height="8.8" fill="#ffffff" opacity="0.24"/>
<rect x="703.9" y="310.9" width="0.6" height="8.8" fill="#ffffff" opacity="0.21"/>
<rect x="587.3" y="310.9" width="0.6" height="8.8" fill="#ffffff" opacity="0.17"/>
<rect x="635.0" y="310.9" width="0.6" height="8.8" fill="#ffffff" opacity="0.10"/>
<rect x="630.3" y="310.9" width="0.6" height="8.8" fill="#ffffff" opacity="0.17"/>
<rect x="633.7" y="310.9" width="0.6" height="8.8" fill="#ffffff" opacity="0.13"/>
<rect x="586.6" y="310.9" width="0.6" height="8.8" fill="#ffffff" opacity="0.22"/>
<rect x="700.1" y="310.9" width="0.6" height="8.8" fill="#ffffff" opacity="0.21"/>
<rect x="652.5" y="310.9" width="0.6" height="8.8" fill="#ffffff" opacity="0.22"/>
<rect x="671.2" y="310.9" width="0.6" height="8.8" fill="#ffffff" opacity="0.17"/>
<rect x="683.6" y="310.9" width="0.6" height="8.8" fill="#ffffff" opacity="0.20"/>
<rect x="644.1" y="310.9" width="0.6" height="8.8" fill="#ffffff" opacity="0.07"/>
<rect x="563.7" y="310.9" width="0.6" height="8.8" fill="#ffffff" opacity="0.09"/>
<rect x="565.1" y="310.9" width="0.6" height="8.8" fill="#ffffff" opacity="0.23"/>
<rect x="663.1" y="310.9" width="0.6" height="8.8" fill="#ffffff" opacity="0.20"/>
<rect x="556.4" y="310.9" width="0.6" height="8.8" fill="#ffffff" opacity="0.14"/>
<rect x="753.8" y="310.9" width="0.6" height="8.8" fill="#ffffff" opacity="0.17"/>
<rect x="651.5" y="310.9" width="0.6" height="8.8" fill="#ffffff" opacity="0.14"/>
<rect x="578.4" y="310.9" width="0.6" height="8.8" fill="#ffffff" opacity="0.08"/>
<rect x="591.6" y="310.9" width="0.6" height="8.8" fill="#ffffff" opacity="0.12"/>
<rect x="641.9" y="310.9" width="0.6" height="8.8" fill="#ffffff" opacity="0.23"/>
<rect x="590.1" y="310.9" width="0.6" height="8.8" fill="#ffffff" opacity="0.10"/>
<rect x="617.9" y="310.9" width="0.6" height="8.8" fill="#ffffff" opacity="0.08"/>
<rect x="620.0" y="310.9" width="0.6" height="8.8" fill="#ffffff" opacity="0.10"/>
<rect x="663.3" y="310.9" width="0.6" height="8.8" fill="#ffffff" opacity="0.06"/>
<rect x="761.5" y="310.9" width="0.6" height="8.8" fill="#ffffff" opacity="0.12"/>
<rect x="556.3" y="289.0" width="222.0" height="31.70" fill="none" stroke="#8a8a8a" stroke-width="0.9"/>
<rect x="556.3" y="322.1" width="222.0" height="44.89999999999998" fill="none" stroke="#3a3a3a" stroke-width="0.7"/>
<line x1="556.30" y1="367.00" x2="778.30" y2="367.00" stroke="#9a9a9a" stroke-width="1.2"/>
<defs><linearGradient id="pE" x1="0" y1="0" x2="1" y2="0"><stop offset="0" stop-color="#f4aaa2"/><stop offset="1" stop-color="#fdf0ef"/></linearGradient><linearGradient id="qE" x1="0" y1="0" x2="1" y2="0"><stop offset="0" stop-color="#f3f5fc"/><stop offset="1" stop-color="#a9b8e6"/></linearGradient></defs>
<polygon points="556.3,342.8 556.3,329.6 557.3,331.7 558.3,333.3 559.3,334.5 560.3,335.4 561.3,336.1 562.3,336.7 563.3,337.2 564.3,337.6 565.3,338.0 566.3,338.3 567.3,338.6 568.3,338.9 569.3,339.1 570.3,339.3 571.3,339.6 572.3,339.8 573.3,339.9 574.3,340.1 575.3,340.3 576.3,340.4 577.3,340.6 578.3,340.7 579.3,340.8 580.3,341.0 581.3,341.1 582.3,341.2 583.3,341.3 584.3,341.4 585.3,341.5 586.3,341.5 587.3,341.6 588.3,341.7 589.3,341.8 590.3,341.8 591.3,341.9 592.3,341.9 593.3,342.0 594.3,342.0 595.3,342.1 596.3,342.1 597.3,342.2 598.3,342.2 599.3,342.2 600.3,342.3 601.3,342.3 602.3,342.3 603.3,342.4 604.3,342.4 605.3,342.4 606.3,342.4 607.3,342.5 608.3,342.5 609.3,342.5 610.3,342.5 611.3,342.5 612.3,342.6 613.3,342.6 614.3,342.6 615.3,342.6 616.3,342.6 616.3,342.8" fill="url(#pE)"/>
<polygon points="738.3,342.8 738.3,343.1 739.3,343.1 740.3,343.1 741.3,343.2 742.3,343.2 743.3,343.2 744.3,343.3 745.3,343.3 746.3,343.3 747.3,343.4 748.3,343.4 749.3,343.5 750.3,343.5 751.3,343.6 752.3,343.6 753.3,343.7 754.3,343.8 755.3,343.8 756.3,343.9 757.3,344.0 758.3,344.1 759.3,344.2 760.3,344.3 761.3,344.4 762.3,344.5 763.3,344.6 764.3,344.7 765.3,344.9 766.3,345.0 767.3,345.2 768.3,345.4 769.3,345.6 770.3,345.8 771.3,346.1 772.3,346.4 773.3,346.9 774.3,347.5 775.3,348.4 776.3,349.8 777.3,352.3 778.3,356.7 778.3,342.8" fill="url(#qE)"/>
<line x1="556.8" y1="342.8" x2="778.3" y2="342.8" stroke="#404040" stroke-width="1.3" stroke-dasharray="2.5 3.2"/>
<line x1="554.80" y1="329.60" x2="556.30" y2="329.60" stroke="#3a3a3a" stroke-width="0.5"/>
<text x="553.80" y="331.00" font-size="4.0" text-anchor="end" fill="#333" stroke="#333" stroke-width="0.08">4</text>
<line x1="554.80" y1="342.80" x2="556.30" y2="342.80" stroke="#3a3a3a" stroke-width="0.5"/>
<text x="553.80" y="344.20" font-size="4.0" text-anchor="end" fill="#333" stroke="#333" stroke-width="0.08">0</text>
<line x1="554.80" y1="356.00" x2="556.30" y2="356.00" stroke="#3a3a3a" stroke-width="0.5"/>
<text x="553.80" y="357.40" font-size="4.0" text-anchor="end" fill="#333" stroke="#333" stroke-width="0.08">−4</text>
<line x1="598.53" y1="367.00" x2="598.53" y2="368.50" stroke="#3a3a3a" stroke-width="0.5"/>
<text x="598.53" y="372.60" font-size="4.35" text-anchor="middle" fill="#333" stroke="#333" stroke-width="0.08">5000</text>
<line x1="640.16" y1="367.00" x2="640.16" y2="368.50" stroke="#3a3a3a" stroke-width="0.5"/>
<text x="640.16" y="372.60" font-size="4.35" text-anchor="middle" fill="#333" stroke="#333" stroke-width="0.08">10000</text>
<line x1="681.79" y1="367.00" x2="681.79" y2="368.50" stroke="#3a3a3a" stroke-width="0.5"/>
<text x="681.79" y="372.60" font-size="4.35" text-anchor="middle" fill="#333" stroke="#333" stroke-width="0.08">15000</text>
<line x1="723.42" y1="367.00" x2="723.42" y2="368.50" stroke="#3a3a3a" stroke-width="0.5"/>
<text x="723.42" y="372.60" font-size="4.35" text-anchor="middle" fill="#333" stroke="#333" stroke-width="0.08">20000</text>
<line x1="765.05" y1="367.00" x2="765.05" y2="368.50" stroke="#3a3a3a" stroke-width="0.5"/>
<text x="765.05" y="372.60" font-size="4.35" text-anchor="middle" fill="#333" stroke="#333" stroke-width="0.08">25000</text>
<text x="667.80" y="379.90" font-size="6.0" text-anchor="middle" fill="#111" stroke="#111" stroke-width="0.08" textLength="59.30" lengthAdjust="spacingAndGlyphs">Rank in Ordered Dataset</text>
<text x="545.90" y="252.95" font-size="5.2" text-anchor="middle" fill="#111" stroke="#111" stroke-width="0.08" textLength="56.40" lengthAdjust="spacingAndGlyphs" transform="rotate(-90 545.90 252.95)">Running Enrichment Score</text>
<text x="545.90" y="345.35" font-size="6.0" text-anchor="middle" fill="#111" stroke="#111" stroke-width="0.08" textLength="29.20" lengthAdjust="spacingAndGlyphs" transform="rotate(-90 545.90 345.35)">Ranked List</text>
<text x="508.60" y="407.20" font-size="19.6">F.</text>
<text x="667.30" y="410.20" font-size="6.0" text-anchor="middle" fill="#111" stroke="#111" stroke-width="0.08">Regulation Of Lipid Transport</text>
<rect x="556.3" y="413.3" width="222.0" height="75.30000000000001" fill="none" stroke="#3a3a3a" stroke-width="0.7"/>
<line x1="556.8" y1="482.2" x2="778.3" y2="482.2" stroke="#404040" stroke-width="1.3" stroke-dasharray="3.6 3.7"/>
<line x1="554.80" y1="434.80" x2="556.30" y2="434.80" stroke="#3a3a3a" stroke-width="0.5"/>
<text x="553.80" y="436.20" font-size="4.0" text-anchor="end" fill="#333" stroke="#333" stroke-width="0.08">0.4</text>
<line x1="554.80" y1="458.50" x2="556.30" y2="458.50" stroke="#3a3a3a" stroke-width="0.5"/>
<text x="553.80" y="459.90" font-size="4.0" text-anchor="end" fill="#333" stroke="#333" stroke-width="0.08">0.2</text>
<line x1="554.80" y1="482.20" x2="556.30" y2="482.20" stroke="#3a3a3a" stroke-width="0.5"/>
<text x="553.80" y="483.60" font-size="4.0" text-anchor="end" fill="#333" stroke="#333" stroke-width="0.08">0.0</text>
<defs><linearGradient id="gF" gradientUnits="userSpaceOnUse" x1="0" y1="482.2" x2="0" y2="458.5"><stop offset="0" stop-color="#3ca04a"/><stop offset="0.45" stop-color="#a08a40"/><stop offset="1" stop-color="#e8332c"/></linearGradient></defs>
<polyline points="556.5,475.9 557.6,450.6 558.8,440.3 560.0,441.2 561.0,437.6 562.0,438.3 562.8,438.0 563.6,433.8 564.5,433.7 565.3,432.3 566.1,430.7 567.0,432.1 567.8,431.8 568.5,429.6 569.2,429.1 570.0,425.9 570.8,425.8 571.6,425.0 572.5,425.8 573.3,426.8 574.1,423.0 574.9,420.9 575.7,418.6 576.6,418.7 577.4,415.5 578.2,416.4 579.0,417.8 579.7,418.2 580.5,417.5 581.3,416.7 582.0,417.6 582.8,417.8 583.5,418.4 584.2,420.5 584.9,418.9 585.6,421.5 586.4,421.8 587.1,419.6 587.8,421.0 588.5,421.7 589.3,420.6 590.0,422.4 591.3,424.1 592.7,423.8 594.0,425.6 595.2,425.3 596.4,426.6 597.6,427.6 598.9,427.0 600.1,427.2 601.3,427.9 602.5,429.1 603.7,428.8 605.1,429.4 606.4,430.5 607.8,431.6 609.2,431.3 610.6,431.7 611.9,432.6 613.3,432.1 614.6,433.1 615.9,432.7 617.2,433.6 618.5,434.4 619.8,433.2 621.0,434.2 622.3,434.4 623.6,434.3 624.9,434.6 626.2,435.3 627.6,435.8 628.9,435.7 630.3,436.6 631.7,437.2 633.1,437.2 634.4,437.9 635.8,438.0 637.0,438.7 638.3,439.4 639.5,439.8 640.7,440.5 642.0,440.5 643.2,441.1 644.4,442.0 645.6,442.3 646.9,442.7 648.1,443.2 649.3,444.1 650.6,444.3 651.8,444.4 653.1,445.4 654.4,445.6 655.6,446.2 656.9,446.6 658.2,447.3 659.5,447.8 660.8,448.1 662.0,449.0 663.3,449.2 664.6,450.2 665.9,450.4 667.2,451.6 668.4,452.4 669.7,452.9 671.0,453.7 672.3,454.1 673.6,455.2 674.8,455.7 676.1,456.2 677.4,457.5 678.7,457.8 680.0,458.5 681.2,459.5 682.5,459.9 683.8,460.8 685.0,461.1 686.3,462.3 687.5,462.5 688.8,463.1 690.0,464.4 691.2,464.5 692.5,465.7 693.7,466.4 694.9,466.8 696.2,467.1 697.4,467.8 698.7,468.5 699.9,469.3 701.1,470.0 702.4,470.8 703.6,471.0 704.8,471.4 706.1,472.3 707.3,472.5 708.5,473.0 709.7,473.9 711.0,474.6 712.2,474.7 713.4,475.5 714.7,476.3 715.9,476.9 717.2,476.9 718.5,477.6 719.7,477.5 721.0,478.2 722.3,478.5 723.6,478.9 724.9,479.0 726.1,479.1 727.4,479.4 728.7,480.0 730.1,480.2 731.4,480.9 732.8,481.0 734.2,481.9 735.6,481.9 736.9,482.2 738.3,482.8 739.6,483.1 740.9,483.4 742.1,483.4 743.4,483.4 744.7,483.8 746.0,484.3 747.4,483.9 748.8,484.0 750.2,483.2 751.6,483.7 753.0,483.4 754.4,483.0 755.7,482.9 757.0,482.8 758.4,483.0 759.7,482.3 761.0,482.6 762.2,482.3 763.5,482.0 764.7,482.1 766.0,481.9 767.2,481.2 768.8,482.3 770.4,482.8 772.0,483.5 773.6,484.3 775.2,484.7 776.8,485.7" fill="none" stroke="url(#gF)" stroke-width="0.9" stroke-linejoin="round"/>
<text x="711.80" y="432.00" font-size="4.75" font-style="italic" fill="#222" stroke="#222" stroke-width="0.08">NES: 1.74</text>
<text x="711.80" y="439.30" font-size="4.75" font-style="italic" fill="#222" stroke="#222" stroke-width="0.08">Pvalue: < 0.001</text>
<text x="711.80" y="446.30" font-size="4.75" font-style="italic" fill="#222" stroke="#222" stroke-width="0.08">Adjusted Pvalue: 0.004</text>
<defs><linearGradient id="sF" gradientUnits="userSpaceOnUse" x1="556.3" y1="0" x2="778.3" y2="0"><stop offset="0.000" stop-color="#b8222c"/><stop offset="0.161" stop-color="#cc4850"/><stop offset="0.165" stop-color="#e08890"/><stop offset="0.264" stop-color="#e58f96"/><stop offset="0.269" stop-color="#eeb6ba"/><stop offset="0.373" stop-color="#efbcbf"/><stop offset="0.377" stop-color="#f6dfe0"/><stop offset="0.503" stop-color="#f6e4e5"/><stop offset="0.530" stop-color="#dfe8f3"/><stop offset="0.602" stop-color="#c4d5eb"/><stop offset="0.701" stop-color="#98b6de"/><stop offset="0.719" stop-color="#6d99cf"/><stop offset="0.918" stop-color="#6a96cd"/><stop offset="1.000" stop-color="#4a7cbf"/></linearGradient></defs>
<rect x="556.30" y="510.90" width="222.00" height="8.80" fill="url(#sF)"/>
<rect x="556.50" y="490.2" width="1.0" height="20.70" fill="#111"/>
<rect x="557.50" y="490.2" width="1.0" height="20.70" fill="#111"/>
<rect x="559.20" y="490.2" width="1.0" height="20.70" fill="#111"/>
<rect x="561.40" y="490.2" width="1.0" height="20.70" fill="#111"/>
<rect x="564.00" y="490.2" width="1.0" height="20.70" fill="#222"/>
<rect x="566.00" y="490.2" width="1.0" height="20.70" fill="#111"/>
<rect x="567.00" y="490.2" width="1.0" height="20.70" fill="#000"/>
<rect x="569.50" y="490.2" width="1.0" height="20.70" fill="#000"/>
<rect x="574.70" y="490.2" width="1.0" height="20.70" fill="#222"/>
<rect x="575.70" y="490.2" width="1.0" height="20.70" fill="#000"/>
<rect x="576.70" y="490.2" width="1.0" height="20.70" fill="#444"/>
<rect x="584.30" y="490.2" width="1.0" height="20.70" fill="#333"/>
<rect x="606.00" y="490.2" width="1.0" height="20.70" fill="#000"/>
<rect x="607.00" y="490.2" width="1.0" height="20.70" fill="#000"/>
<rect x="608.00" y="490.2" width="1.0" height="20.70" fill="#333"/>
<rect x="609.00" y="490.2" width="1.0" height="20.70" fill="#111"/>
<rect x="610.00" y="490.2" width="1.0" height="20.70" fill="#333"/>
<rect x="612.00" y="490.2" width="1.0" height="20.70" fill="#000"/>
<rect x="615.00" y="490.2" width="1.0" height="20.70" fill="#000"/>
<rect x="616.00" y="490.2" width="1.0" height="20.70" fill="#111"/>
<rect x="620.60" y="490.2" width="1.0" height="20.70" fill="#111"/>
<rect x="622.60" y="490.2" width="1.0" height="20.70" fill="#000"/>
<rect x="623.60" y="490.2" width="1.0" height="20.70" fill="#444"/>
<rect x="624.60" y="490.2" width="1.0" height="20.70" fill="#000"/>
<rect x="626.60" y="490.2" width="1.0" height="20.70" fill="#333"/>
<rect x="628.60" y="490.2" width="1.0" height="20.70" fill="#000"/>
<rect x="631.20" y="490.2" width="1.0" height="20.70" fill="#333"/>
<rect x="634.20" y="490.2" width="1.0" height="20.70" fill="#000"/>
<rect x="635.20" y="490.2" width="1.0" height="20.70" fill="#111"/>
<rect x="642.50" y="490.2" width="1.0" height="20.70" fill="#222"/>
<rect x="643.50" y="490.2" width="1.0" height="20.70" fill="#333"/>
<rect x="644.50" y="490.2" width="1.0" height="20.70" fill="#444"/>
<rect x="645.50" y="490.2" width="1.0" height="20.70" fill="#111"/>
<rect x="648.50" y="490.2" width="1.0" height="20.70" fill="#444"/>
<rect x="649.50" y="490.2" width="1.0" height="20.70" fill="#444"/>
<rect x="651.50" y="490.2" width="1.0" height="20.70" fill="#222"/>
<rect x="652.50" y="490.2" width="1.0" height="20.70" fill="#222"/>
<rect x="653.50" y="490.2" width="1.0" height="20.70" fill="#444"/>
<rect x="656.50" y="490.2" width="1.0" height="20.70" fill="#111"/>
<rect x="658.50" y="490.2" width="1.0" height="20.70" fill="#444"/>
<rect x="659.50" y="490.2" width="1.0" height="20.70" fill="#000"/>
<rect x="660.50" y="490.2" width="1.0" height="20.70" fill="#444"/>
<rect x="661.50" y="490.2" width="1.0" height="20.70" fill="#444"/>
<rect x="662.50" y="490.2" width="1.0" height="20.70" fill="#111"/>
<rect x="663.50" y="490.2" width="1.0" height="20.70" fill="#111"/>
<rect x="664.50" y="490.2" width="1.0" height="20.70" fill="#444"/>
<rect x="666.50" y="490.2" width="1.0" height="20.70" fill="#333"/>
<rect x="669.50" y="490.2" width="1.0" height="20.70" fill="#222"/>
<rect x="685.40" y="490.2" width="1.0" height="20.70" fill="#000"/>
<rect x="688.40" y="490.2" width="1.0" height="20.70" fill="#000"/>
<rect x="693.00" y="490.2" width="1.0" height="20.70" fill="#222"/>
<rect x="694.00" y="490.2" width="1.0" height="20.70" fill="#333"/>
<rect x="696.00" y="490.2" width="1.0" height="20.70" fill="#444"/>
<rect x="697.00" y="490.2" width="1.0" height="20.70" fill="#333"/>
<rect x="698.00" y="490.2" width="1.0" height="20.70" fill="#222"/>
<rect x="699.00" y="490.2" width="1.0" height="20.70" fill="#222"/>
<rect x="703.40" y="490.2" width="1.0" height="20.70" fill="#444"/>
<rect x="708.30" y="490.2" width="1.0" height="20.70" fill="#444"/>
<rect x="712.20" y="490.2" width="1.0" height="20.70" fill="#222"/>
<rect x="714.20" y="490.2" width="1.0" height="20.70" fill="#444"/>
<rect x="715.20" y="490.2" width="1.0" height="20.70" fill="#222"/>
<rect x="717.20" y="490.2" width="1.0" height="20.70" fill="#000"/>
<rect x="718.20" y="490.2" width="1.0" height="20.70" fill="#444"/>
<rect x="720.20" y="490.2" width="1.0" height="20.70" fill="#222"/>
<rect x="721.20" y="490.2" width="1.0" height="20.70" fill="#111"/>
<rect x="722.20" y="490.2" width="1.0" height="20.70" fill="#111"/>
<rect x="723.20" y="490.2" width="1.0" height="20.70" fill="#444"/>
<rect x="727.00" y="490.2" width="1.0" height="20.70" fill="#444"/>
<rect x="730.00" y="490.2" width="1.0" height="20.70" fill="#333"/>
<rect x="731.00" y="490.2" width="1.0" height="20.70" fill="#333"/>
<rect x="732.00" y="490.2" width="1.0" height="20.70" fill="#333"/>
<rect x="733.00" y="490.2" width="1.0" height="20.70" fill="#444"/>
<rect x="734.00" y="490.2" width="1.0" height="20.70" fill="#333"/>
<rect x="736.00" y="490.2" width="1.0" height="20.70" fill="#444"/>
<rect x="737.00" y="490.2" width="1.0" height="20.70" fill="#333"/>
<rect x="739.00" y="490.2" width="1.0" height="20.70" fill="#000"/>
<rect x="741.70" y="490.2" width="1.0" height="20.70" fill="#333"/>
<rect x="744.70" y="490.2" width="1.0" height="20.70" fill="#222"/>
<rect x="745.70" y="490.2" width="1.0" height="20.70" fill="#111"/>
<rect x="748.70" y="490.2" width="1.0" height="20.70" fill="#111"/>
<rect x="749.70" y="490.2" width="1.0" height="20.70" fill="#111"/>
<rect x="752.70" y="490.2" width="1.0" height="20.70" fill="#000"/>
<rect x="755.00" y="490.2" width="1.0" height="20.70" fill="#444"/>
<rect x="759.40" y="490.2" width="1.0" height="20.70" fill="#222"/>
<rect x="760.40" y="490.2" width="1.0" height="20.70" fill="#111"/>
<rect x="761.40" y="490.2" width="1.0" height="20.70" fill="#222"/>
<rect x="763.40" y="490.2" width="1.0" height="20.70" fill="#333"/>
<rect x="765.40" y="490.2" width="1.0" height="20.70" fill="#000"/>
<rect x="766.40" y="490.2" width="1.0" height="20.70" fill="#444"/>
<rect x="767.40" y="490.2" width="1.0" height="20.70" fill="#000"/>
<rect x="690.1" y="510.9" width="0.6" height="8.8" fill="#ffffff" opacity="0.12"/>
<rect x="751.4" y="510.9" width="0.6" height="8.8" fill="#ffffff" opacity="0.10"/>
<rect x="739.0" y="510.9" width="0.6" height="8.8" fill="#ffffff" opacity="0.20"/>
<rect x="695.0" y="510.9" width="0.6" height="8.8" fill="#ffffff" opacity="0.23"/>
<rect x="564.3" y="510.9" width="0.6" height="8.8" fill="#ffffff" opacity="0.17"/>
<rect x="692.4" y="510.9" width="0.6" height="8.8" fill="#ffffff" opacity="0.19"/>
<rect x="646.6" y="510.9" width="0.6" height="8.8" fill="#ffffff" opacity="0.06"/>
<rect x="598.3" y="510.9" width="0.6" height="8.8" fill="#ffffff" opacity="0.17"/>
<rect x="596.6" y="510.9" width="0.6" height="8.8" fill="#ffffff" opacity="0.06"/>
<rect x="635.1" y="510.9" width="0.6" height="8.8" fill="#ffffff" opacity="0.14"/>
<rect x="675.2" y="510.9" width="0.6" height="8.8" fill="#ffffff" opacity="0.06"/>
<rect x="728.5" y="510.9" width="0.6" height="8.8" fill="#ffffff" opacity="0.12"/>
<rect x="730.1" y="510.9" width="0.6" height="8.8" fill="#ffffff" opacity="0.05"/>
<rect x="768.1" y="510.9" width="0.6" height="8.8" fill="#ffffff" opacity="0.17"/>
<rect x="773.1" y="510.9" width="0.6" height="8.8" fill="#ffffff" opacity="0.25"/>
<rect x="741.2" y="510.9" width="0.6" height="8.8" fill="#ffffff" opacity="0.07"/>
<rect x="633.7" y="510.9" width="0.6" height="8.8" fill="#ffffff" opacity="0.10"/>
<rect x="729.5" y="510.9" width="0.6" height="8.8" fill="#ffffff" opacity="0.09"/>
<rect x="605.4" y="510.9" width="0.6" height="8.8" fill="#ffffff" opacity="0.07"/>
<rect x="583.0" y="510.9" width="0.6" height="8.8" fill="#ffffff" opacity="0.24"/>
<rect x="773.0" y="510.9" width="0.6" height="8.8" fill="#ffffff" opacity="0.12"/>
<rect x="720.8" y="510.9" width="0.6" height="8.8" fill="#ffffff" opacity="0.14"/>
<rect x="672.2" y="510.9" width="0.6" height="8.8" fill="#ffffff" opacity="0.12"/>
<rect x="697.2" y="510.9" width="0.6" height="8.8" fill="#ffffff" opacity="0.10"/>
<rect x="613.2" y="510.9" width="0.6" height="8.8" fill="#ffffff" opacity="0.15"/>
<rect x="600.1" y="510.9" width="0.6" height="8.8" fill="#ffffff" opacity="0.14"/>
<rect x="765.8" y="510.9" width="0.6" height="8.8" fill="#ffffff" opacity="0.05"/>
<rect x="579.2" y="510.9" width="0.6" height="8.8" fill="#ffffff" opacity="0.21"/>
<rect x="569.1" y="510.9" width="0.6" height="8.8" fill="#ffffff" opacity="0.10"/>
<rect x="745.4" y="510.9" width="0.6" height="8.8" fill="#ffffff" opacity="0.17"/>
<rect x="605.3" y="510.9" width="0.6" height="8.8" fill="#ffffff" opacity="0.06"/>
<rect x="617.4" y="510.9" width="0.6" height="8.8" fill="#ffffff" opacity="0.11"/>
<rect x="734.0" y="510.9" width="0.6" height="8.8" fill="#ffffff" opacity="0.25"/>
<rect x="730.9" y="510.9" width="0.6" height="8.8" fill="#ffffff" opacity="0.23"/>
<rect x="762.9" y="510.9" width="0.6" height="8.8" fill="#ffffff" opacity="0.23"/>
<rect x="760.5" y="510.9" width="0.6" height="8.8" fill="#ffffff" opacity="0.24"/>
<rect x="577.3" y="510.9" width="0.6" height="8.8" fill="#ffffff" opacity="0.11"/>
<rect x="611.2" y="510.9" width="0.6" height="8.8" fill="#ffffff" opacity="0.17"/>
<rect x="665.5" y="510.9" width="0.6" height="8.8" fill="#ffffff" opacity="0.12"/>
<rect x="742.1" y="510.9" width="0.6" height="8.8" fill="#ffffff" opacity="0.13"/>
<rect x="602.7" y="510.9" width="0.6" height="8.8" fill="#ffffff" opacity="0.11"/>
<rect x="658.8" y="510.9" width="0.6" height="8.8" fill="#ffffff" opacity="0.17"/>
<rect x="682.5" y="510.9" width="0.6" height="8.8" fill="#ffffff" opacity="0.14"/>
<rect x="597.7" y="510.9" width="0.6" height="8.8" fill="#ffffff" opacity="0.13"/>
<rect x="628.5" y="510.9" width="0.6" height="8.8" fill="#ffffff" opacity="0.08"/>
<rect x="677.0" y="510.9" width="0.6" height="8.8" fill="#ffffff" opacity="0.09"/>
<rect x="714.3" y="510.9" width="0.6" height="8.8" fill="#ffffff" opacity="0.18"/>
<rect x="586.9" y="510.9" width="0.6" height="8.8" fill="#ffffff" opacity="0.18"/>
<rect x="631.3" y="510.9" width="0.6" height="8.8" fill="#ffffff" opacity="0.14"/>
<rect x="691.0" y="510.9" width="0.6" height="8.8" fill="#ffffff" opacity="0.20"/>
<rect x="752.5" y="510.9" width="0.6" height="8.8" fill="#ffffff" opacity="0.20"/>
<rect x="603.2" y="510.9" width="0.6" height="8.8" fill="#ffffff" opacity="0.16"/>
<rect x="630.8" y="510.9" width="0.6" height="8.8" fill="#ffffff" opacity="0.05"/>
<rect x="678.9" y="510.9" width="0.6" height="8.8" fill="#ffffff" opacity="0.14"/>
<rect x="748.8" y="510.9" width="0.6" height="8.8" fill="#ffffff" opacity="0.11"/>
<rect x="741.4" y="510.9" width="0.6" height="8.8" fill="#ffffff" opacity="0.15"/>
<rect x="578.3" y="510.9" width="0.6" height="8.8" fill="#ffffff" opacity="0.19"/>
<rect x="619.5" y="510.9" width="0.6" height="8.8" fill="#ffffff" opacity="0.16"/>
<rect x="572.2" y="510.9" width="0.6" height="8.8" fill="#ffffff" opacity="0.05"/>
<rect x="760.8" y="510.9" width="0.6" height="8.8" fill="#ffffff" opacity="0.06"/>
<rect x="589.4" y="510.9" width="0.6" height="8.8" fill="#ffffff" opacity="0.08"/>
<rect x="577.6" y="510.9" width="0.6" height="8.8" fill="#ffffff" opacity="0.21"/>
<rect x="777.2" y="510.9" width="0.6" height="8.8" fill="#ffffff" opacity="0.18"/>
<rect x="644.1" y="510.9" width="0.6" height="8.8" fill="#ffffff" opacity="0.23"/>
<rect x="668.7" y="510.9" width="0.6" height="8.8" fill="#ffffff" opacity="0.08"/>
<rect x="709.5" y="510.9" width="0.6" height="8.8" fill="#ffffff" opacity="0.12"/>
<rect x="616.2" y="510.9" width="0.6" height="8.8" fill="#ffffff" opacity="0.11"/>
<rect x="641.8" y="510.9" width="0.6" height="8.8" fill="#ffffff" opacity="0.09"/>
<rect x="692.3" y="510.9" width="0.6" height="8.8" fill="#ffffff" opacity="0.22"/>
<rect x="683.0" y="510.9" width="0.6" height="8.8" fill="#ffffff" opacity="0.05"/>
<rect x="708.2" y="510.9" width="0.6" height="8.8" fill="#ffffff" opacity="0.05"/>
<rect x="662.6" y="510.9" width="0.6" height="8.8" fill="#ffffff" opacity="0.22"/>
<rect x="706.6" y="510.9" width="0.6" height="8.8" fill="#ffffff" opacity="0.23"/>
<rect x="723.8" y="510.9" width="0.6" height="8.8" fill="#ffffff" opacity="0.10"/>
<rect x="588.2" y="510.9" width="0.6" height="8.8" fill="#ffffff" opacity="0.14"/>
<rect x="707.2" y="510.9" width="0.6" height="8.8" fill="#ffffff" opacity="0.10"/>
<rect x="629.8" y="510.9" width="0.6" height="8.8" fill="#ffffff" opacity="0.20"/>
<rect x="633.5" y="510.9" width="0.6" height="8.8" fill="#ffffff" opacity="0.17"/>
<rect x="677.4" y="510.9" width="0.6" height="8.8" fill="#ffffff" opacity="0.24"/>
<rect x="562.1" y="510.9" width="0.6" height="8.8" fill="#ffffff" opacity="0.09"/>
<rect x="729.1" y="510.9" width="0.6" height="8.8" fill="#ffffff" opacity="0.18"/>
<rect x="577.7" y="510.9" width="0.6" height="8.8" fill="#ffffff" opacity="0.08"/>
<rect x="603.1" y="510.9" width="0.6" height="8.8" fill="#ffffff" opacity="0.16"/>
<rect x="756.6" y="510.9" width="0.6" height="8.8" fill="#ffffff" opacity="0.09"/>
<rect x="601.3" y="510.9" width="0.6" height="8.8" fill="#ffffff" opacity="0.19"/>
<rect x="650.2" y="510.9" width="0.6" height="8.8" fill="#ffffff" opacity="0.22"/>
<rect x="778.1" y="510.9" width="0.6" height="8.8" fill="#ffffff" opacity="0.24"/>
<rect x="715.2" y="510.9" width="0.6" height="8.8" fill="#ffffff" opacity="0.15"/>
<rect x="569.8" y="510.9" width="0.6" height="8.8" fill="#ffffff" opacity="0.21"/>
<rect x="644.8" y="510.9" width="0.6" height="8.8" fill="#ffffff" opacity="0.14"/>
<rect x="696.6" y="510.9" width="0.6" height="8.8" fill="#ffffff" opacity="0.24"/>
<rect x="679.7" y="510.9" width="0.6" height="8.8" fill="#ffffff" opacity="0.23"/>
<rect x="770.3" y="510.9" width="0.6" height="8.8" fill="#ffffff" opacity="0.07"/>
<rect x="635.0" y="510.9" width="0.6" height="8.8" fill="#ffffff" opacity="0.23"/>
<rect x="726.7" y="510.9" width="0.6" height="8.8" fill="#ffffff" opacity="0.24"/>
<rect x="597.7" y="510.9" width="0.6" height="8.8" fill="#ffffff" opacity="0.16"/>
<rect x="763.4" y="510.9" width="0.6" height="8.8" fill="#ffffff" opacity="0.16"/>
<rect x="705.1" y="510.9" width="0.6" height="8.8" fill="#ffffff" opacity="0.24"/>
<rect x="594.8" y="510.9" width="0.6" height="8.8" fill="#ffffff" opacity="0.06"/>
<rect x="745.9" y="510.9" width="0.6" height="8.8" fill="#ffffff" opacity="0.17"/>
<rect x="600.8" y="510.9" width="0.6" height="8.8" fill="#ffffff" opacity="0.22"/>
<rect x="619.2" y="510.9" width="0.6" height="8.8" fill="#ffffff" opacity="0.08"/>
<rect x="622.4" y="510.9" width="0.6" height="8.8" fill="#ffffff" opacity="0.06"/>
<rect x="646.4" y="510.9" width="0.6" height="8.8" fill="#ffffff" opacity="0.21"/>
<rect x="657.1" y="510.9" width="0.6" height="8.8" fill="#ffffff" opacity="0.24"/>
<rect x="565.6" y="510.9" width="0.6" height="8.8" fill="#ffffff" opacity="0.08"/>
<rect x="588.2" y="510.9" width="0.6" height="8.8" fill="#ffffff" opacity="0.16"/>
<rect x="600.6" y="510.9" width="0.6" height="8.8" fill="#ffffff" opacity="0.18"/>
<rect x="672.5" y="510.9" width="0.6" height="8.8" fill="#ffffff" opacity="0.17"/>
<rect x="743.9" y="510.9" width="0.6" height="8.8" fill="#ffffff" opacity="0.21"/>
<rect x="761.1" y="510.9" width="0.6" height="8.8" fill="#ffffff" opacity="0.08"/>
<rect x="640.5" y="510.9" width="0.6" height="8.8" fill="#ffffff" opacity="0.24"/>
<rect x="644.4" y="510.9" width="0.6" height="8.8" fill="#ffffff" opacity="0.11"/>
<rect x="663.3" y="510.9" width="0.6" height="8.8" fill="#ffffff" opacity="0.09"/>
<rect x="744.6" y="510.9" width="0.6" height="8.8" fill="#ffffff" opacity="0.18"/>
<rect x="577.3" y="510.9" width="0.6" height="8.8" fill="#ffffff" opacity="0.24"/>
<rect x="671.8" y="510.9" width="0.6" height="8.8" fill="#ffffff" opacity="0.10"/>
<rect x="692.3" y="510.9" width="0.6" height="8.8" fill="#ffffff" opacity="0.24"/>
<rect x="633.3" y="510.9" width="0.6" height="8.8" fill="#ffffff" opacity="0.05"/>
<rect x="600.2" y="510.9" width="0.6" height="8.8" fill="#ffffff" opacity="0.06"/>
<rect x="673.7" y="510.9" width="0.6" height="8.8" fill="#ffffff" opacity="0.11"/>
<rect x="745.3" y="510.9" width="0.6" height="8.8" fill="#ffffff" opacity="0.09"/>
<rect x="559.6" y="510.9" width="0.6" height="8.8" fill="#ffffff" opacity="0.14"/>
<rect x="583.7" y="510.9" width="0.6" height="8.8" fill="#ffffff" opacity="0.11"/>
<rect x="606.4" y="510.9" width="0.6" height="8.8" fill="#ffffff" opacity="0.09"/>
<rect x="697.5" y="510.9" width="0.6" height="8.8" fill="#ffffff" opacity="0.24"/>
<rect x="638.5" y="510.9" width="0.6" height="8.8" fill="#ffffff" opacity="0.18"/>
<rect x="628.0" y="510.9" width="0.6" height="8.8" fill="#ffffff" opacity="0.23"/>
<rect x="679.0" y="510.9" width="0.6" height="8.8" fill="#ffffff" opacity="0.06"/>
<rect x="721.0" y="510.9" width="0.6" height="8.8" fill="#ffffff" opacity="0.09"/>
<rect x="566.7" y="510.9" width="0.6" height="8.8" fill="#ffffff" opacity="0.05"/>
<rect x="742.8" y="510.9" width="0.6" height="8.8" fill="#ffffff" opacity="0.19"/>
<rect x="635.8" y="510.9" width="0.6" height="8.8" fill="#ffffff" opacity="0.16"/>
<rect x="712.9" y="510.9" width="0.6" height="8.8" fill="#ffffff" opacity="0.07"/>
<rect x="713.0" y="510.9" width="0.6" height="8.8" fill="#ffffff" opacity="0.19"/>
<rect x="765.5" y="510.9" width="0.6" height="8.8" fill="#ffffff" opacity="0.06"/>
<rect x="683.4" y="510.9" width="0.6" height="8.8" fill="#ffffff" opacity="0.15"/>
<rect x="744.1" y="510.9" width="0.6" height="8.8" fill="#ffffff" opacity="0.12"/>
<rect x="703.4" y="510.9" width="0.6" height="8.8" fill="#ffffff" opacity="0.23"/>
<rect x="633.7" y="510.9" width="0.6" height="8.8" fill="#ffffff" opacity="0.15"/>
<rect x="556.3" y="489.0" width="222.0" height="31.70" fill="none" stroke="#8a8a8a" stroke-width="0.9"/>
<rect x="556.3" y="522.2" width="222.0" height="44.59999999999991" fill="none" stroke="#3a3a3a" stroke-width="0.7"/>
<line x1="556.30" y1="566.80" x2="778.30" y2="566.80" stroke="#9a9a9a" stroke-width="1.2"/>
<defs><linearGradient id="pF" x1="0" y1="0" x2="1" y2="0"><stop offset="0" stop-color="#f4aaa2"/><stop offset="1" stop-color="#fdf0ef"/></linearGradient><linearGradient id="qF" x1="0" y1="0" x2="1" y2="0"><stop offset="0" stop-color="#f3f5fc"/><stop offset="1" stop-color="#a9b8e6"/></linearGradient></defs>
<polygon points="556.3,542.8 556.3,529.3 557.3,531.5 558.3,533.1 559.3,534.3 560.3,535.2 561.3,535.9 562.3,536.5 563.3,537.0 564.3,537.5 565.3,537.9 566.3,538.2 567.3,538.5 568.3,538.8 569.3,539.0 570.3,539.3 571.3,539.5 572.3,539.7 573.3,539.9 574.3,540.1 575.3,540.2 576.3,540.4 577.3,540.5 578.3,540.7 579.3,540.8 580.3,540.9 581.3,541.0 582.3,541.1 583.3,541.2 584.3,541.3 585.3,541.4 586.3,541.5 587.3,541.6 588.3,541.7 589.3,541.7 590.3,541.8 591.3,541.9 592.3,541.9 593.3,542.0 594.3,542.0 595.3,542.1 596.3,542.1 597.3,542.1 598.3,542.2 599.3,542.2 600.3,542.3 601.3,542.3 602.3,542.3 603.3,542.4 604.3,542.4 605.3,542.4 606.3,542.4 607.3,542.5 608.3,542.5 609.3,542.5 610.3,542.5 611.3,542.5 612.3,542.5 613.3,542.6 614.3,542.6 615.3,542.6 616.3,542.6 616.3,542.8" fill="url(#pF)"/>
<polygon points="738.3,542.8 738.3,543.1 739.3,543.1 740.3,543.2 741.3,543.2 742.3,543.2 743.3,543.2 744.3,543.3 745.3,543.3 746.3,543.3 747.3,543.4 748.3,543.4 749.3,543.5 750.3,543.5 751.3,543.6 752.3,543.6 753.3,543.7 754.3,543.8 755.3,543.8 756.3,543.9 757.3,544.0 758.3,544.1 759.3,544.2 760.3,544.3 761.3,544.4 762.3,544.5 763.3,544.7 764.3,544.8 765.3,544.9 766.3,545.1 767.3,545.3 768.3,545.5 769.3,545.7 770.3,545.9 771.3,546.2 772.3,546.5 773.3,547.0 774.3,547.6 775.3,548.5 776.3,550.0 777.3,552.5 778.3,557.0 778.3,542.8" fill="url(#qF)"/>
<line x1="556.8" y1="542.8" x2="778.3" y2="542.8" stroke="#404040" stroke-width="1.3" stroke-dasharray="2.5 3.2"/>
<line x1="554.80" y1="529.30" x2="556.30" y2="529.30" stroke="#3a3a3a" stroke-width="0.5"/>
<text x="553.80" y="530.70" font-size="4.0" text-anchor="end" fill="#333" stroke="#333" stroke-width="0.08">4</text>
<line x1="554.80" y1="542.80" x2="556.30" y2="542.80" stroke="#3a3a3a" stroke-width="0.5"/>
<text x="553.80" y="544.20" font-size="4.0" text-anchor="end" fill="#333" stroke="#333" stroke-width="0.08">0</text>
<line x1="554.80" y1="556.30" x2="556.30" y2="556.30" stroke="#3a3a3a" stroke-width="0.5"/>
<text x="553.80" y="557.70" font-size="4.0" text-anchor="end" fill="#333" stroke="#333" stroke-width="0.08">−4</text>
<line x1="598.53" y1="566.80" x2="598.53" y2="568.30" stroke="#3a3a3a" stroke-width="0.5"/>
<text x="598.53" y="572.40" font-size="4.35" text-anchor="middle" fill="#333" stroke="#333" stroke-width="0.08">5000</text>
<line x1="640.16" y1="566.80" x2="640.16" y2="568.30" stroke="#3a3a3a" stroke-width="0.5"/>
<text x="640.16" y="572.40" font-size="4.35" text-anchor="middle" fill="#333" stroke="#333" stroke-width="0.08">10000</text>
<line x1="681.79" y1="566.80" x2="681.79" y2="568.30" stroke="#3a3a3a" stroke-width="0.5"/>
<text x="681.79" y="572.40" font-size="4.35" text-anchor="middle" fill="#333" stroke="#333" stroke-width="0.08">15000</text>
<line x1="723.42" y1="566.80" x2="723.42" y2="568.30" stroke="#3a3a3a" stroke-width="0.5"/>
<text x="723.42" y="572.40" font-size="4.35" text-anchor="middle" fill="#333" stroke="#333" stroke-width="0.08">20000</text>
<line x1="765.05" y1="566.80" x2="765.05" y2="568.30" stroke="#3a3a3a" stroke-width="0.5"/>
<text x="765.05" y="572.40" font-size="4.35" text-anchor="middle" fill="#333" stroke="#333" stroke-width="0.08">25000</text>
<text x="667.80" y="579.70" font-size="6.0" text-anchor="middle" fill="#111" stroke="#111" stroke-width="0.08" textLength="59.30" lengthAdjust="spacingAndGlyphs">Rank in Ordered Dataset</text>
<text x="545.90" y="452.95" font-size="5.2" text-anchor="middle" fill="#111" stroke="#111" stroke-width="0.08" textLength="56.40" lengthAdjust="spacingAndGlyphs" transform="rotate(-90 545.90 452.95)">Running Enrichment Score</text>
<text x="545.90" y="545.30" font-size="6.0" text-anchor="middle" fill="#111" stroke="#111" stroke-width="0.08" textLength="29.20" lengthAdjust="spacingAndGlyphs" transform="rotate(-90 545.90 545.30)">Ranked List</text>
<text x="15.80" y="626.90" font-size="19.6">G.</text>
<line x1="228.90" y1="616.20" x2="228.90" y2="872.60" stroke="#e6e6e6" stroke-width="0.7"/>
<line x1="248.80" y1="616.20" x2="248.80" y2="872.60" stroke="#e6e6e6" stroke-width="0.7"/>
<line x1="268.70" y1="616.20" x2="268.70" y2="872.60" stroke="#e6e6e6" stroke-width="0.7"/>
<line x1="288.60" y1="616.20" x2="288.60" y2="872.60" stroke="#e6e6e6" stroke-width="0.7"/>
<line x1="308.50" y1="616.20" x2="308.50" y2="872.60" stroke="#e6e6e6" stroke-width="0.7"/>
<line x1="216.60" y1="624.10" x2="318.30" y2="624.10" stroke="#e6e6e6" stroke-width="0.7"/>
<line x1="216.60" y1="636.82" x2="318.30" y2="636.82" stroke="#e6e6e6" stroke-width="0.7"/>
<line x1="216.60" y1="649.54" x2="318.30" y2="649.54" stroke="#e6e6e6" stroke-width="0.7"/>
<line x1="216.60" y1="662.26" x2="318.30" y2="662.26" stroke="#e6e6e6" stroke-width="0.7"/>
<line x1="216.60" y1="674.98" x2="318.30" y2="674.98" stroke="#e6e6e6" stroke-width="0.7"/>
<line x1="216.60" y1="687.70" x2="318.30" y2="687.70" stroke="#e6e6e6" stroke-width="0.7"/>
<line x1="216.60" y1="700.42" x2="318.30" y2="700.42" stroke="#e6e6e6" stroke-width="0.7"/>
<line x1="216.60" y1="713.14" x2="318.30" y2="713.14" stroke="#e6e6e6" stroke-width="0.7"/>
<line x1="216.60" y1="725.86" x2="318.30" y2="725.86" stroke="#e6e6e6" stroke-width="0.7"/>
<line x1="216.60" y1="738.58" x2="318.30" y2="738.58" stroke="#e6e6e6" stroke-width="0.7"/>
<line x1="216.60" y1="751.30" x2="318.30" y2="751.30" stroke="#e6e6e6" stroke-width="0.7"/>
<line x1="216.60" y1="764.02" x2="318.30" y2="764.02" stroke="#e6e6e6" stroke-width="0.7"/>
<line x1="216.60" y1="776.74" x2="318.30" y2="776.74" stroke="#e6e6e6" stroke-width="0.7"/>
<line x1="216.60" y1="789.46" x2="318.30" y2="789.46" stroke="#e6e6e6" stroke-width="0.7"/>
<line x1="216.60" y1="802.18" x2="318.30" y2="802.18" stroke="#e6e6e6" stroke-width="0.7"/>
<line x1="216.60" y1="814.90" x2="318.30" y2="814.90" stroke="#e6e6e6" stroke-width="0.7"/>
<line x1="216.60" y1="827.62" x2="318.30" y2="827.62" stroke="#e6e6e6" stroke-width="0.7"/>
<line x1="216.60" y1="840.34" x2="318.30" y2="840.34" stroke="#e6e6e6" stroke-width="0.7"/>
<line x1="216.60" y1="853.06" x2="318.30" y2="853.06" stroke="#e6e6e6" stroke-width="0.7"/>
<line x1="216.60" y1="865.78" x2="318.30" y2="865.78" stroke="#e6e6e6" stroke-width="0.7"/>
<circle cx="313.40" cy="624.10" r="4.10" fill="#f5401a"/>
<circle cx="281.60" cy="636.82" r="3.70" fill="#f23c18"/>
<circle cx="279.00" cy="649.54" r="3.60" fill="#f23c18"/>
<circle cx="270.40" cy="662.26" r="3.30" fill="#f42c14"/>
<circle cx="267.30" cy="674.98" r="3.30" fill="#a8c412"/>
<circle cx="267.30" cy="687.70" r="3.30" fill="#f23a18"/>
<circle cx="264.40" cy="700.42" r="3.30" fill="#f43216"/>
<circle cx="264.40" cy="713.14" r="3.20" fill="#f82012"/>
<circle cx="252.90" cy="725.86" r="3.00" fill="#f23a18"/>
<circle cx="244.10" cy="738.58" r="2.80" fill="#f82818"/>
<circle cx="238.60" cy="751.30" r="2.70" fill="#f83018"/>
<circle cx="235.50" cy="764.02" r="2.60" fill="#f83018"/>
<circle cx="235.50" cy="776.74" r="2.60" fill="#d88018"/>
<circle cx="232.80" cy="789.46" r="2.50" fill="#cc9016"/>
<circle cx="232.80" cy="802.18" r="2.50" fill="#c4b414"/>
<circle cx="232.80" cy="814.90" r="2.50" fill="#f83018"/>
<circle cx="226.70" cy="827.62" r="2.30" fill="#b4c414"/>
<circle cx="226.70" cy="840.34" r="2.30" fill="#8cd414"/>
<circle cx="224.00" cy="853.06" r="2.20" fill="#a4c814"/>
<circle cx="221.10" cy="865.78" r="1.60" fill="#22f020"/>
<rect x="216.6" y="616.2" width="101.70000000000002" height="256.4" fill="none" stroke="#6e6e6e" stroke-width="1.0"/>
<line x1="214.60" y1="624.10" x2="216.60" y2="624.10" stroke="#6e6e6e" stroke-width="0.7"/>
<text x="213.70" y="626.90" font-size="8.22" text-anchor="end" fill="#1a1a1a" stroke="#1a1a1a" stroke-width="0.16">regulation of cell population proliferation</text>
<line x1="214.60" y1="636.82" x2="216.60" y2="636.82" stroke="#6e6e6e" stroke-width="0.7"/>
<text x="213.70" y="639.62" font-size="8.22" text-anchor="end" fill="#1a1a1a" stroke="#1a1a1a" stroke-width="0.16">regulation of locomotion</text>
<line x1="214.60" y1="649.54" x2="216.60" y2="649.54" stroke="#6e6e6e" stroke-width="0.7"/>
<text x="213.70" y="652.34" font-size="8.22" text-anchor="end" fill="#1a1a1a" stroke="#1a1a1a" stroke-width="0.16">regulation of cell migration</text>
<line x1="214.60" y1="662.26" x2="216.60" y2="662.26" stroke="#6e6e6e" stroke-width="0.7"/>
<text x="213.70" y="665.06" font-size="8.22" text-anchor="end" fill="#1a1a1a" stroke="#1a1a1a" stroke-width="0.16">negative regulation of cell population proliferation</text>
<line x1="214.60" y1="674.98" x2="216.60" y2="674.98" stroke="#6e6e6e" stroke-width="0.7"/>
<text x="213.70" y="677.78" font-size="8.22" text-anchor="end" fill="#1a1a1a" stroke="#1a1a1a" stroke-width="0.16">positive regulation of cellular protein metabolic process</text>
<line x1="214.60" y1="687.70" x2="216.60" y2="687.70" stroke="#6e6e6e" stroke-width="0.7"/>
<text x="213.70" y="690.50" font-size="8.22" text-anchor="end" fill="#1a1a1a" stroke="#1a1a1a" stroke-width="0.16">positive regulation of cellular component movement</text>
<line x1="214.60" y1="700.42" x2="216.60" y2="700.42" stroke="#6e6e6e" stroke-width="0.7"/>
<text x="213.70" y="703.22" font-size="8.22" text-anchor="end" fill="#1a1a1a" stroke="#1a1a1a" stroke-width="0.16">positive regulation of locomotion</text>
<line x1="214.60" y1="713.14" x2="216.60" y2="713.14" stroke="#6e6e6e" stroke-width="0.7"/>
<text x="213.70" y="715.94" font-size="8.22" text-anchor="end" fill="#1a1a1a" stroke="#1a1a1a" stroke-width="0.16">positive regulation of cell motility</text>
<line x1="214.60" y1="725.86" x2="216.60" y2="725.86" stroke="#6e6e6e" stroke-width="0.7"/>
<text x="213.70" y="728.66" font-size="8.22" text-anchor="end" fill="#1a1a1a" stroke="#1a1a1a" stroke-width="0.16">negative regulation of immune system process</text>
<line x1="214.60" y1="738.58" x2="216.60" y2="738.58" stroke="#6e6e6e" stroke-width="0.7"/>
<text x="213.70" y="741.38" font-size="8.22" text-anchor="end" fill="#1a1a1a" stroke="#1a1a1a" stroke-width="0.16">chemotaxis</text>
<line x1="214.60" y1="751.30" x2="216.60" y2="751.30" stroke="#6e6e6e" stroke-width="0.7"/>
<text x="213.70" y="754.10" font-size="8.22" text-anchor="end" fill="#1a1a1a" stroke="#1a1a1a" stroke-width="0.16">positive regulation of chemotaxis</text>
<line x1="214.60" y1="764.02" x2="216.60" y2="764.02" stroke="#6e6e6e" stroke-width="0.7"/>
<text x="213.70" y="766.82" font-size="8.22" text-anchor="end" fill="#1a1a1a" stroke="#1a1a1a" stroke-width="0.16">regulation of cell−substrate adhesion</text>
<line x1="214.60" y1="776.74" x2="216.60" y2="776.74" stroke="#6e6e6e" stroke-width="0.7"/>
<text x="213.70" y="779.54" font-size="8.22" text-anchor="end" fill="#1a1a1a" stroke="#1a1a1a" stroke-width="0.16">lipid transport</text>
<line x1="214.60" y1="789.46" x2="216.60" y2="789.46" stroke="#6e6e6e" stroke-width="0.7"/>
<text x="213.70" y="792.26" font-size="8.22" text-anchor="end" fill="#1a1a1a" stroke="#1a1a1a" stroke-width="0.16">response to reactive oxygen species</text>
<line x1="214.60" y1="802.18" x2="216.60" y2="802.18" stroke="#6e6e6e" stroke-width="0.7"/>
<text x="213.70" y="804.98" font-size="8.22" text-anchor="end" fill="#1a1a1a" stroke="#1a1a1a" stroke-width="0.16">regulation of angiogenesis</text>
<line x1="214.60" y1="814.90" x2="216.60" y2="814.90" stroke="#6e6e6e" stroke-width="0.7"/>
<text x="213.70" y="817.70" font-size="8.22" text-anchor="end" fill="#1a1a1a" stroke="#1a1a1a" stroke-width="0.16">myeloid leukocyte migration</text>
<line x1="214.60" y1="827.62" x2="216.60" y2="827.62" stroke="#6e6e6e" stroke-width="0.7"/>
<text x="213.70" y="830.42" font-size="8.22" text-anchor="end" fill="#1a1a1a" stroke="#1a1a1a" stroke-width="0.16">response to hydrogen peroxide</text>
<line x1="214.60" y1="840.34" x2="216.60" y2="840.34" stroke="#6e6e6e" stroke-width="0.7"/>
<text x="213.70" y="843.14" font-size="8.22" text-anchor="end" fill="#1a1a1a" stroke="#1a1a1a" stroke-width="0.16">regulation of reactive oxygen species metabolic process</text>
<line x1="214.60" y1="853.06" x2="216.60" y2="853.06" stroke="#6e6e6e" stroke-width="0.7"/>
<text x="213.70" y="855.86" font-size="8.22" text-anchor="end" fill="#1a1a1a" stroke="#1a1a1a" stroke-width="0.16">positive regulation of reactive oxygen species metabolic process</text>
<line x1="214.60" y1="865.78" x2="216.60" y2="865.78" stroke="#6e6e6e" stroke-width="0.7"/>
<text x="213.70" y="868.58" font-size="8.22" text-anchor="end" fill="#1a1a1a" stroke="#1a1a1a" stroke-width="0.16">negative regulation of lipid metabolic process</text>
<line x1="248.80" y1="872.60" x2="248.80" y2="874.60" stroke="#6e6e6e" stroke-width="0.7"/>
<text x="248.80" y="882.60" font-size="8.0" text-anchor="middle" fill="#1a1a1a" stroke="#1a1a1a" stroke-width="0.08">0.1</text>
<line x1="288.60" y1="872.60" x2="288.60" y2="874.60" stroke="#6e6e6e" stroke-width="0.7"/>
<text x="288.60" y="882.60" font-size="8.0" text-anchor="middle" fill="#1a1a1a" stroke="#1a1a1a" stroke-width="0.08">0.2</text>
<text x="267.70" y="891.60" font-size="9.4" text-anchor="middle" fill="#1a1a1a" stroke="#1a1a1a" stroke-width="0.16">Gene ratio</text>
<text x="327.8" y="693.7" font-size="6.2" fill="#1a1a1a">−log<tspan font-size="4.4" dy="1.3">10</tspan><tspan dy="-1.3">(P value)</tspan></text>
<defs><linearGradient id="lg" x1="0" y1="0" x2="0" y2="1"><stop offset="0" stop-color="#ff260c"/><stop offset="0.32" stop-color="#e2621a"/><stop offset="0.62" stop-color="#a8b410"/><stop offset="0.85" stop-color="#5ee21a"/><stop offset="1" stop-color="#2afa28"/></linearGradient></defs>
<rect x="327.80" y="698.00" width="10.10" height="51.50" fill="url(#lg)"/>
<line x1="327.80" y1="707.20" x2="329.30" y2="707.20" stroke="#ffffff" stroke-width="0.5"/>
<line x1="336.40" y1="707.20" x2="337.90" y2="707.20" stroke="#ffffff" stroke-width="0.5"/>
<text x="340.80" y="709.10" font-size="5.6" fill="#1a1a1a" stroke="#1a1a1a" stroke-width="0.08">6</text>
<line x1="327.80" y1="719.70" x2="329.30" y2="719.70" stroke="#ffffff" stroke-width="0.5"/>
<line x1="336.40" y1="719.70" x2="337.90" y2="719.70" stroke="#ffffff" stroke-width="0.5"/>
<text x="340.80" y="721.60" font-size="5.6" fill="#1a1a1a" stroke="#1a1a1a" stroke-width="0.08">5</text>
<line x1="327.80" y1="732.40" x2="329.30" y2="732.40" stroke="#ffffff" stroke-width="0.5"/>
<line x1="336.40" y1="732.40" x2="337.90" y2="732.40" stroke="#ffffff" stroke-width="0.5"/>
<text x="340.80" y="734.30" font-size="5.6" fill="#1a1a1a" stroke="#1a1a1a" stroke-width="0.08">4</text>
<line x1="327.80" y1="745.10" x2="329.30" y2="745.10" stroke="#ffffff" stroke-width="0.5"/>
<line x1="336.40" y1="745.10" x2="337.90" y2="745.10" stroke="#ffffff" stroke-width="0.5"/>
<text x="340.80" y="747.00" font-size="5.6" fill="#1a1a1a" stroke="#1a1a1a" stroke-width="0.08">3</text>
<text x="327.60" y="766.70" font-size="5.6" fill="#1a1a1a" stroke="#1a1a1a" stroke-width="0.08" textLength="13.80" lengthAdjust="spacingAndGlyphs">Count</text>
<circle cx="332.80" cy="775.70" r="3.00" fill="#000"/>
<text x="340.80" y="777.60" font-size="5.6" fill="#1a1a1a" stroke="#1a1a1a" stroke-width="0.08">10</text>
<circle cx="332.80" cy="785.80" r="3.40" fill="#000"/>
<text x="340.80" y="787.70" font-size="5.6" fill="#1a1a1a" stroke="#1a1a1a" stroke-width="0.08">20</text>
<circle cx="332.80" cy="795.90" r="4.00" fill="#000"/>
<text x="340.80" y="797.80" font-size="5.6" fill="#1a1a1a" stroke="#1a1a1a" stroke-width="0.08">30</text>
<text x="435.20" y="627.00" font-size="19.6">H.</text>
<line x1="641.80" y1="614.40" x2="641.80" y2="870.70" stroke="#e6e6e6" stroke-width="0.7"/>
<line x1="658.40" y1="614.40" x2="658.40" y2="870.70" stroke="#e6e6e6" stroke-width="0.7"/>
<line x1="675.00" y1="614.40" x2="675.00" y2="870.70" stroke="#e6e6e6" stroke-width="0.7"/>
<line x1="691.60" y1="614.40" x2="691.60" y2="870.70" stroke="#e6e6e6" stroke-width="0.7"/>
<line x1="708.20" y1="614.40" x2="708.20" y2="870.70" stroke="#e6e6e6" stroke-width="0.7"/>
<line x1="724.80" y1="614.40" x2="724.80" y2="870.70" stroke="#e6e6e6" stroke-width="0.7"/>
<line x1="631.30" y1="622.20" x2="727.30" y2="622.20" stroke="#e6e6e6" stroke-width="0.7"/>
<line x1="631.30" y1="634.90" x2="727.30" y2="634.90" stroke="#e6e6e6" stroke-width="0.7"/>
<line x1="631.30" y1="647.60" x2="727.30" y2="647.60" stroke="#e6e6e6" stroke-width="0.7"/>
<line x1="631.30" y1="660.30" x2="727.30" y2="660.30" stroke="#e6e6e6" stroke-width="0.7"/>
<line x1="631.30" y1="673.00" x2="727.30" y2="673.00" stroke="#e6e6e6" stroke-width="0.7"/>
<line x1="631.30" y1="685.70" x2="727.30" y2="685.70" stroke="#e6e6e6" stroke-width="0.7"/>
<line x1="631.30" y1="698.40" x2="727.30" y2="698.40" stroke="#e6e6e6" stroke-width="0.7"/>
<line x1="631.30" y1="711.10" x2="727.30" y2="711.10" stroke="#e6e6e6" stroke-width="0.7"/>
<line x1="631.30" y1="723.80" x2="727.30" y2="723.80" stroke="#e6e6e6" stroke-width="0.7"/>
<line x1="631.30" y1="736.50" x2="727.30" y2="736.50" stroke="#e6e6e6" stroke-width="0.7"/>
<line x1="631.30" y1="749.20" x2="727.30" y2="749.20" stroke="#e6e6e6" stroke-width="0.7"/>
<line x1="631.30" y1="761.90" x2="727.30" y2="761.90" stroke="#e6e6e6" stroke-width="0.7"/>
<line x1="631.30" y1="774.60" x2="727.30" y2="774.60" stroke="#e6e6e6" stroke-width="0.7"/>
<line x1="631.30" y1="787.30" x2="727.30" y2="787.30" stroke="#e6e6e6" stroke-width="0.7"/>
<line x1="631.30" y1="800.00" x2="727.30" y2="800.00" stroke="#e6e6e6" stroke-width="0.7"/>
<line x1="631.30" y1="812.70" x2="727.30" y2="812.70" stroke="#e6e6e6" stroke-width="0.7"/>
<line x1="631.30" y1="825.40" x2="727.30" y2="825.40" stroke="#e6e6e6" stroke-width="0.7"/>
<line x1="631.30" y1="838.10" x2="727.30" y2="838.10" stroke="#e6e6e6" stroke-width="0.7"/>
<line x1="631.30" y1="850.80" x2="727.30" y2="850.80" stroke="#e6e6e6" stroke-width="0.7"/>
<line x1="631.30" y1="863.50" x2="727.30" y2="863.50" stroke="#e6e6e6" stroke-width="0.7"/>
<circle cx="723.00" cy="622.20" r="3.80" fill="#50e414"/>
<circle cx="723.00" cy="634.90" r="3.80" fill="#44e814"/>
<circle cx="723.00" cy="647.60" r="3.80" fill="#4ce614"/>
<circle cx="701.00" cy="660.30" r="3.70" fill="#f05a14"/>
<circle cx="701.00" cy="673.00" r="3.60" fill="#f81414"/>
<circle cx="679.10" cy="685.70" r="3.20" fill="#70e014"/>
<circle cx="679.10" cy="698.40" r="3.20" fill="#6ce014"/>
<circle cx="679.10" cy="711.10" r="3.20" fill="#88d414"/>
<circle cx="657.30" cy="723.80" r="2.60" fill="#18f018"/>
<circle cx="657.30" cy="736.50" r="2.60" fill="#80d814"/>
<circle cx="657.30" cy="749.20" r="2.60" fill="#a8c414"/>
<circle cx="657.30" cy="761.90" r="2.60" fill="#30ec18"/>
<circle cx="657.30" cy="774.60" r="2.60" fill="#50e414"/>
<circle cx="657.30" cy="787.30" r="2.60" fill="#70dc14"/>
<circle cx="657.30" cy="800.00" r="2.60" fill="#70dc14"/>
<circle cx="657.30" cy="812.70" r="2.60" fill="#30ec18"/>
<circle cx="657.30" cy="825.40" r="2.60" fill="#a8c414"/>
<circle cx="635.40" cy="838.10" r="1.60" fill="#20f020"/>
<circle cx="635.40" cy="850.80" r="1.60" fill="#20f020"/>
<circle cx="635.40" cy="863.50" r="1.60" fill="#20f020"/>
<rect x="631.3" y="614.4" width="96.0" height="256.30000000000007" fill="none" stroke="#6e6e6e" stroke-width="1.0"/>
<line x1="629.30" y1="622.20" x2="631.30" y2="622.20" stroke="#6e6e6e" stroke-width="0.7"/>
<text x="628.10" y="625.00" font-size="8.22" text-anchor="end" fill="#1a1a1a" stroke="#1a1a1a" stroke-width="0.16">symbiotic process</text>
<line x1="629.30" y1="634.90" x2="631.30" y2="634.90" stroke="#6e6e6e" stroke-width="0.7"/>
<text x="628.10" y="637.70" font-size="8.22" text-anchor="end" fill="#1a1a1a" stroke="#1a1a1a" stroke-width="0.16">interspecies interaction between organisms</text>
<line x1="629.30" y1="647.60" x2="631.30" y2="647.60" stroke="#6e6e6e" stroke-width="0.7"/>
<text x="628.10" y="650.40" font-size="8.22" text-anchor="end" fill="#1a1a1a" stroke="#1a1a1a" stroke-width="0.16">actin filament organization</text>
<line x1="629.30" y1="660.30" x2="631.30" y2="660.30" stroke="#6e6e6e" stroke-width="0.7"/>
<text x="628.10" y="663.10" font-size="8.22" text-anchor="end" fill="#1a1a1a" stroke="#1a1a1a" stroke-width="0.16">response to interferon−beta</text>
<line x1="629.30" y1="673.00" x2="631.30" y2="673.00" stroke="#6e6e6e" stroke-width="0.7"/>
<text x="628.10" y="675.80" font-size="8.22" text-anchor="end" fill="#1a1a1a" stroke="#1a1a1a" stroke-width="0.16">cellular response to interferon−beta</text>
<line x1="629.30" y1="685.70" x2="631.30" y2="685.70" stroke="#6e6e6e" stroke-width="0.7"/>
<text x="628.10" y="688.50" font-size="8.22" text-anchor="end" fill="#1a1a1a" stroke="#1a1a1a" stroke-width="0.16">response to interferon−gamma</text>
<line x1="629.30" y1="698.40" x2="631.30" y2="698.40" stroke="#6e6e6e" stroke-width="0.7"/>
<text x="628.10" y="701.20" font-size="8.22" text-anchor="end" fill="#1a1a1a" stroke="#1a1a1a" stroke-width="0.16">regulation of response to biotic stimulus</text>
<line x1="629.30" y1="711.10" x2="631.30" y2="711.10" stroke="#6e6e6e" stroke-width="0.7"/>
<text x="628.10" y="713.90" font-size="8.22" text-anchor="end" fill="#1a1a1a" stroke="#1a1a1a" stroke-width="0.16">cellular response to interferon−gamma</text>
<line x1="629.30" y1="723.80" x2="631.30" y2="723.80" stroke="#6e6e6e" stroke-width="0.7"/>
<text x="628.10" y="726.60" font-size="8.22" text-anchor="end" fill="#1a1a1a" stroke="#1a1a1a" stroke-width="0.16">type I interferon production</text>
<line x1="629.30" y1="736.50" x2="631.30" y2="736.50" stroke="#6e6e6e" stroke-width="0.7"/>
<text x="628.10" y="739.30" font-size="8.22" text-anchor="end" fill="#1a1a1a" stroke="#1a1a1a" stroke-width="0.16">ruffle organization</text>
<line x1="629.30" y1="749.20" x2="631.30" y2="749.20" stroke="#6e6e6e" stroke-width="0.7"/>
<text x="628.10" y="752.00" font-size="8.22" text-anchor="end" fill="#1a1a1a" stroke="#1a1a1a" stroke-width="0.16">response to protozoan</text>
<line x1="629.30" y1="761.90" x2="631.30" y2="761.90" stroke="#6e6e6e" stroke-width="0.7"/>
<text x="628.10" y="764.70" font-size="8.22" text-anchor="end" fill="#1a1a1a" stroke="#1a1a1a" stroke-width="0.16">regulation of type I interferon production</text>
<line x1="629.30" y1="774.60" x2="631.30" y2="774.60" stroke="#6e6e6e" stroke-width="0.7"/>
<text x="628.10" y="777.40" font-size="8.22" text-anchor="end" fill="#1a1a1a" stroke="#1a1a1a" stroke-width="0.16">negative regulation of proteolysis involved in cellular protein catabolic process</text>
<line x1="629.30" y1="787.30" x2="631.30" y2="787.30" stroke="#6e6e6e" stroke-width="0.7"/>
<text x="628.10" y="790.10" font-size="8.22" text-anchor="end" fill="#1a1a1a" stroke="#1a1a1a" stroke-width="0.16">negative regulation of proteasomal protein catabolic process</text>
<line x1="629.30" y1="800.00" x2="631.30" y2="800.00" stroke="#6e6e6e" stroke-width="0.7"/>
<text x="628.10" y="802.80" font-size="8.22" text-anchor="end" fill="#1a1a1a" stroke="#1a1a1a" stroke-width="0.16">negative regulation of innate immune response</text>
<line x1="629.30" y1="812.70" x2="631.30" y2="812.70" stroke="#6e6e6e" stroke-width="0.7"/>
<text x="628.10" y="815.50" font-size="8.22" text-anchor="end" fill="#1a1a1a" stroke="#1a1a1a" stroke-width="0.16">negative regulation of cellular protein catabolic process</text>
<line x1="629.30" y1="825.40" x2="631.30" y2="825.40" stroke="#6e6e6e" stroke-width="0.7"/>
<text x="628.10" y="828.20" font-size="8.22" text-anchor="end" fill="#1a1a1a" stroke="#1a1a1a" stroke-width="0.16">defense response to protozoan</text>
<line x1="629.30" y1="838.10" x2="631.30" y2="838.10" stroke="#6e6e6e" stroke-width="0.7"/>
<text x="628.10" y="840.90" font-size="8.22" text-anchor="end" fill="#1a1a1a" stroke="#1a1a1a" stroke-width="0.16">regulation of protein exit from endoplasmic reticulum</text>
<line x1="629.30" y1="850.80" x2="631.30" y2="850.80" stroke="#6e6e6e" stroke-width="0.7"/>
<text x="628.10" y="853.60" font-size="8.22" text-anchor="end" fill="#1a1a1a" stroke="#1a1a1a" stroke-width="0.16">interferon−gamma−mediated signaling pathway</text>
<line x1="629.30" y1="863.50" x2="631.30" y2="863.50" stroke="#6e6e6e" stroke-width="0.7"/>
<text x="628.10" y="866.30" font-size="8.22" text-anchor="end" fill="#1a1a1a" stroke="#1a1a1a" stroke-width="0.16">adhesion of symbiont to host</text>
<line x1="658.00" y1="870.70" x2="658.00" y2="872.70" stroke="#6e6e6e" stroke-width="0.7"/>
<text x="658.00" y="880.00" font-size="8.0" text-anchor="middle" fill="#1a1a1a" stroke="#1a1a1a" stroke-width="0.08">0.04</text>
<line x1="691.40" y1="870.70" x2="691.40" y2="872.70" stroke="#6e6e6e" stroke-width="0.7"/>
<text x="691.40" y="880.00" font-size="8.0" text-anchor="middle" fill="#1a1a1a" stroke="#1a1a1a" stroke-width="0.08">0.06</text>
<line x1="724.60" y1="870.70" x2="724.60" y2="872.70" stroke="#6e6e6e" stroke-width="0.7"/>
<text x="724.60" y="880.00" font-size="8.0" text-anchor="middle" fill="#1a1a1a" stroke="#1a1a1a" stroke-width="0.08">0.08</text>
<text x="679.50" y="889.90" font-size="9.4" text-anchor="middle" fill="#1a1a1a" stroke="#1a1a1a" stroke-width="0.16">Gene ratio</text>
<text x="737.1" y="681.4" font-size="6.2" fill="#1a1a1a">−log<tspan font-size="4.4" dy="1.3">10</tspan><tspan dy="-1.3">(P value)</tspan></text>
<defs><linearGradient id="lh" x1="0" y1="0" x2="0" y2="1"><stop offset="0" stop-color="#ff260c"/><stop offset="0.32" stop-color="#e2621a"/><stop offset="0.62" stop-color="#a8b410"/><stop offset="0.85" stop-color="#5ee21a"/><stop offset="1" stop-color="#2afa28"/></linearGradient></defs>
<rect x="737.10" y="686.00" width="9.80" height="51.10" fill="url(#lh)"/>
<line x1="737.10" y1="693.80" x2="738.60" y2="693.80" stroke="#ffffff" stroke-width="0.5"/>
<line x1="745.40" y1="693.80" x2="746.90" y2="693.80" stroke="#ffffff" stroke-width="0.5"/>
<text x="750.00" y="695.70" font-size="5.6" fill="#1a1a1a" stroke="#1a1a1a" stroke-width="0.08">6</text>
<line x1="737.10" y1="706.40" x2="738.60" y2="706.40" stroke="#ffffff" stroke-width="0.5"/>
<line x1="745.40" y1="706.40" x2="746.90" y2="706.40" stroke="#ffffff" stroke-width="0.5"/>
<text x="750.00" y="708.30" font-size="5.6" fill="#1a1a1a" stroke="#1a1a1a" stroke-width="0.08">5</text>
<line x1="737.10" y1="718.90" x2="738.60" y2="718.90" stroke="#ffffff" stroke-width="0.5"/>
<line x1="745.40" y1="718.90" x2="746.90" y2="718.90" stroke="#ffffff" stroke-width="0.5"/>
<text x="750.00" y="720.80" font-size="5.6" fill="#1a1a1a" stroke="#1a1a1a" stroke-width="0.08">4</text>
<line x1="737.10" y1="731.90" x2="738.60" y2="731.90" stroke="#ffffff" stroke-width="0.5"/>
<line x1="745.40" y1="731.90" x2="746.90" y2="731.90" stroke="#ffffff" stroke-width="0.5"/>
<text x="750.00" y="733.80" font-size="5.6" fill="#1a1a1a" stroke="#1a1a1a" stroke-width="0.08">3</text>
<text x="737.10" y="754.30" font-size="5.6" fill="#1a1a1a" stroke="#1a1a1a" stroke-width="0.08" textLength="13.80" lengthAdjust="spacingAndGlyphs">Count</text>
<circle cx="741.90" cy="763.30" r="1.60" fill="#000"/>
<text x="750.00" y="765.20" font-size="5.6" fill="#1a1a1a" stroke="#1a1a1a" stroke-width="0.08">2</text>
<circle cx="741.90" cy="773.40" r="2.60" fill="#000"/>
<text x="750.00" y="775.30" font-size="5.6" fill="#1a1a1a" stroke="#1a1a1a" stroke-width="0.08">3</text>
<circle cx="741.90" cy="783.20" r="3.10" fill="#000"/>
<text x="750.00" y="785.10" font-size="5.6" fill="#1a1a1a" stroke="#1a1a1a" stroke-width="0.08">4</text>
<circle cx="741.90" cy="793.80" r="3.40" fill="#000"/>
<text x="750.00" y="795.70" font-size="5.6" fill="#1a1a1a" stroke="#1a1a1a" stroke-width="0.08">5</text>
<circle cx="741.90" cy="804.00" r="3.90" fill="#000"/>
<text x="750.00" y="805.90" font-size="5.6" fill="#1a1a1a" stroke="#1a1a1a" stroke-width="0.08">6</text>
</svg>
</body></html>
